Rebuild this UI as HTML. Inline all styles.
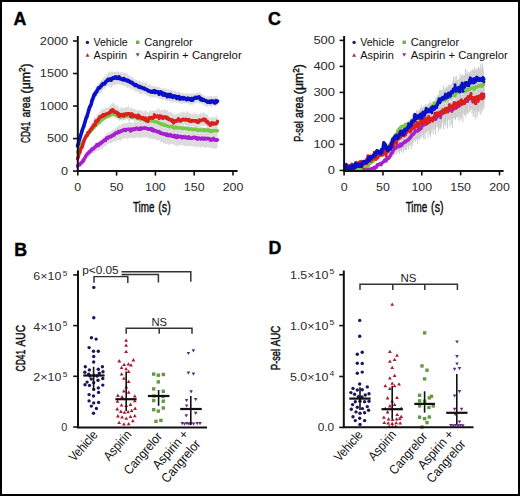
<!DOCTYPE html>
<html><head><meta charset="utf-8"><style>html,body{margin:0;padding:0;background:#fff;width:520px;height:496px;overflow:hidden}</style></head><body>
<svg width="520" height="496" viewBox="0 0 520 496" style="display:block">
<g font-family='"Liberation Sans", sans-serif'>
<rect x="0" y="0" width="520" height="496" fill="#000"/>
<rect x="2" y="2" width="516" height="492" fill="#fff"/>
<defs><clipPath id="ca"><rect x="70" y="30" width="175" height="140.2"/></clipPath><clipPath id="cc"><rect x="336" y="30" width="175" height="140"/></clipPath></defs>
<text x="13.4" y="25.0" font-size="17.8" font-weight="bold" fill="#000" stroke="#000" stroke-width="0.4">A</text>
<text x="268.0" y="25.2" font-size="17.8" font-weight="bold" fill="#000" stroke="#000" stroke-width="0.4">C</text>
<text x="14.2" y="255.6" font-size="17.8" font-weight="bold" fill="#000" stroke="#000" stroke-width="0.4">B</text>
<text x="268.4" y="254.1" font-size="17.8" font-weight="bold" fill="#000" stroke="#000" stroke-width="0.4">D</text>
<g clip-path="url(#ca)">
<polygon points="77.5,144.4 78.2,141.5 78.9,138.8 79.6,135.7 80.3,133.8 81.0,131.0 81.7,129.5 82.4,126.2 83.1,124.7 83.8,122.4 84.5,120.3 85.2,118.2 85.9,116.2 86.6,113.1 87.3,111.7 88.0,108.7 88.7,105.7 89.4,104.4 90.1,100.6 90.8,99.2 91.5,96.5 92.2,96.3 92.9,93.0 93.6,92.4 94.3,91.1 95.0,89.8 95.7,85.4 96.4,86.6 97.1,85.9 97.8,85.0 98.5,82.3 99.2,82.9 99.9,81.5 100.6,80.9 101.3,79.8 102.0,79.3 102.7,79.5 103.4,77.6 104.1,77.2 104.8,77.0 105.5,76.3 106.2,75.7 106.9,73.5 107.6,74.3 108.3,72.0 109.0,71.5 109.7,72.1 110.4,72.9 111.1,72.1 111.8,70.2 112.5,71.7 113.2,71.0 113.9,72.3 114.6,71.5 115.3,72.0 116.0,71.4 116.7,72.3 117.4,71.6 118.1,70.7 118.8,71.7 119.5,72.4 120.2,72.2 120.9,72.7 121.6,71.4 122.3,72.2 123.0,73.0 123.7,72.4 124.4,72.4 125.1,72.5 125.8,73.4 126.5,73.9 127.2,72.5 127.9,74.8 128.6,75.6 129.3,74.6 130.0,75.8 130.7,76.7 131.4,77.1 132.1,77.7 132.8,76.5 133.5,78.3 134.2,79.0 134.9,79.3 135.6,80.1 136.3,80.3 137.0,79.4 137.7,81.1 138.4,80.8 139.1,80.1 139.8,81.1 140.5,82.1 141.2,81.6 141.9,82.3 142.6,81.6 143.3,83.2 144.0,82.7 144.7,82.1 145.4,83.5 146.1,82.1 146.8,82.0 147.5,84.7 148.2,84.2 148.9,85.6 149.6,83.2 150.3,85.3 151.0,85.7 151.7,86.3 152.4,86.0 153.1,86.5 153.8,86.6 154.5,86.0 155.2,86.4 155.9,85.8 156.6,87.1 157.3,87.3 158.0,86.1 158.7,87.4 159.4,86.9 160.1,87.0 160.8,88.3 161.5,88.7 162.2,88.3 162.9,89.2 163.6,87.0 164.3,88.5 165.0,89.7 165.7,87.7 166.4,89.6 167.1,88.5 167.8,89.9 168.5,89.9 169.2,90.0 169.9,91.0 170.6,89.2 171.3,89.7 172.0,89.6 172.7,91.4 173.4,91.3 174.1,91.5 174.8,90.6 175.5,90.7 176.2,91.6 176.9,92.4 177.6,91.6 178.3,92.0 179.0,91.3 179.7,91.5 180.4,93.2 181.1,92.3 181.8,93.7 182.5,93.0 183.2,93.6 183.9,93.3 184.6,94.2 185.3,93.8 186.0,94.0 186.7,92.7 187.4,93.5 188.1,92.5 188.8,93.9 189.5,93.5 190.2,94.5 190.9,93.0 191.6,92.8 192.3,94.2 193.0,93.5 193.7,91.9 194.4,93.0 195.1,93.8 195.8,93.6 196.5,92.5 197.2,92.7 197.9,92.5 198.6,93.0 199.3,92.1 200.0,92.3 200.7,92.5 201.4,93.9 202.1,94.6 202.8,95.3 203.5,95.1 204.2,95.4 204.9,95.6 205.6,96.3 206.3,96.9 207.0,97.1 207.7,95.6 208.4,96.3 209.1,96.7 209.8,96.5 210.5,95.4 211.2,96.0 211.9,96.0 212.6,97.0 213.3,96.5 214.0,96.2 214.7,96.2 215.4,96.1 216.1,96.7 216.8,95.3 217.5,95.7 217.5,105.8 216.8,105.5 216.1,106.3 215.4,107.6 214.7,106.6 214.0,105.6 213.3,105.6 212.6,106.4 211.9,107.3 211.2,107.1 210.5,105.8 209.8,105.9 209.1,105.6 208.4,106.1 207.7,106.0 207.0,106.9 206.3,106.8 205.6,106.5 204.9,106.2 204.2,104.5 203.5,105.5 202.8,103.9 202.1,103.4 201.4,104.5 200.7,103.7 200.0,102.6 199.3,104.9 198.6,102.5 197.9,102.6 197.2,102.3 196.5,104.3 195.8,102.4 195.1,103.3 194.4,103.7 193.7,104.6 193.0,105.5 192.3,103.6 191.6,105.5 190.9,103.6 190.2,104.4 189.5,106.0 188.8,104.1 188.1,103.5 187.4,103.6 186.7,103.3 186.0,103.6 185.3,103.5 184.6,103.3 183.9,103.2 183.2,103.2 182.5,103.4 181.8,103.8 181.1,103.7 180.4,103.6 179.7,104.1 179.0,102.1 178.3,103.6 177.6,102.4 176.9,101.8 176.2,103.9 175.5,101.9 174.8,101.3 174.1,102.8 173.4,102.2 172.7,101.9 172.0,102.3 171.3,102.0 170.6,102.1 169.9,100.8 169.2,101.7 168.5,100.5 167.8,100.5 167.1,102.7 166.4,100.6 165.7,101.1 165.0,99.6 164.3,99.5 163.6,99.8 162.9,99.2 162.2,100.5 161.5,99.0 160.8,99.0 160.1,98.9 159.4,98.6 158.7,97.5 158.0,99.0 157.3,97.0 156.6,97.1 155.9,97.0 155.2,97.2 154.5,97.7 153.8,96.6 153.1,97.9 152.4,96.8 151.7,96.4 151.0,96.8 150.3,98.2 149.6,96.7 148.9,96.3 148.2,95.3 147.5,95.6 146.8,96.5 146.1,94.2 145.4,94.1 144.7,93.9 144.0,93.7 143.3,93.3 142.6,93.8 141.9,93.8 141.2,93.7 140.5,94.2 139.8,94.3 139.1,92.2 138.4,92.2 137.7,93.2 137.0,91.0 136.3,91.2 135.6,92.1 134.9,90.4 134.2,90.1 133.5,90.7 132.8,89.0 132.1,88.6 131.4,88.5 130.7,91.1 130.0,87.8 129.3,87.9 128.6,87.1 127.9,88.1 127.2,88.2 126.5,87.4 125.8,85.4 125.1,85.3 124.4,86.6 123.7,86.1 123.0,85.3 122.3,84.8 121.6,85.5 120.9,84.4 120.2,84.8 119.5,85.1 118.8,84.1 118.1,84.1 117.4,84.0 116.7,84.1 116.0,85.4 115.3,85.1 114.6,85.5 113.9,84.2 113.2,86.0 112.5,85.2 111.8,88.9 111.1,87.4 110.4,85.9 109.7,88.0 109.0,85.2 108.3,86.8 107.6,86.1 106.9,86.4 106.2,86.9 105.5,88.2 104.8,88.4 104.1,90.3 103.4,89.0 102.7,89.7 102.0,91.4 101.3,92.7 100.6,94.1 99.9,92.5 99.2,93.1 98.5,94.3 97.8,94.1 97.1,95.6 96.4,97.0 95.7,97.7 95.0,99.3 94.3,99.7 93.6,100.5 92.9,102.7 92.2,105.9 91.5,107.0 90.8,107.9 90.1,111.3 89.4,112.6 88.7,113.8 88.0,116.1 87.3,118.1 86.6,120.4 85.9,124.3 85.2,125.9 84.5,127.2 83.8,128.5 83.1,131.4 82.4,133.2 81.7,136.0 81.0,137.6 80.3,140.0 79.6,142.4 78.9,144.1 78.2,146.4 77.5,149.1" fill="#dcdcdc" fill-opacity="1.0"/>
<polygon points="77.5,163.5 78.2,162.7 78.9,162.6 79.6,161.6 80.3,161.3 81.0,160.7 81.7,160.1 82.4,158.5 83.1,158.1 83.8,157.3 84.5,155.7 85.2,155.0 85.9,153.9 86.6,152.2 87.3,150.3 88.0,151.0 88.7,149.4 89.4,149.2 90.1,148.8 90.8,147.1 91.5,147.2 92.2,146.1 92.9,145.2 93.6,144.5 94.3,144.6 95.0,143.6 95.7,143.5 96.4,143.0 97.1,142.8 97.8,141.9 98.5,141.2 99.2,141.1 99.9,140.1 100.6,139.3 101.3,139.7 102.0,138.4 102.7,137.2 103.4,137.8 104.1,136.6 104.8,135.7 105.5,135.1 106.2,134.7 106.9,133.1 107.6,133.2 108.3,133.0 109.0,132.7 109.7,131.7 110.4,131.4 111.1,131.4 111.8,130.5 112.5,130.6 113.2,129.1 113.9,129.6 114.6,129.2 115.3,127.9 116.0,127.5 116.7,127.9 117.4,125.8 118.1,126.5 118.8,125.7 119.5,124.6 120.2,126.0 120.9,124.6 121.6,123.9 122.3,124.0 123.0,124.0 123.7,123.2 124.4,123.6 125.1,122.9 125.8,122.9 126.5,123.0 127.2,122.7 127.9,123.0 128.6,122.5 129.3,122.2 130.0,121.5 130.7,121.5 131.4,123.0 132.1,123.0 132.8,123.2 133.5,123.0 134.2,123.1 134.9,121.2 135.6,122.0 136.3,121.5 137.0,121.9 137.7,121.6 138.4,122.1 139.1,121.9 139.8,121.7 140.5,121.3 141.2,122.2 141.9,121.1 142.6,119.6 143.3,121.9 144.0,121.2 144.7,121.2 145.4,121.1 146.1,122.0 146.8,121.0 147.5,121.7 148.2,121.4 148.9,122.1 149.6,122.7 150.3,122.4 151.0,121.6 151.7,123.2 152.4,123.8 153.1,123.9 153.8,124.0 154.5,123.2 155.2,124.4 155.9,124.6 156.6,123.5 157.3,123.1 158.0,125.0 158.7,124.7 159.4,125.7 160.1,125.4 160.8,125.6 161.5,126.6 162.2,125.9 162.9,126.6 163.6,127.4 164.3,127.5 165.0,127.9 165.7,127.7 166.4,127.7 167.1,128.5 167.8,128.2 168.5,128.7 169.2,129.0 169.9,127.7 170.6,129.1 171.3,127.9 172.0,128.8 172.7,129.2 173.4,127.5 174.1,129.6 174.8,129.6 175.5,129.6 176.2,129.4 176.9,129.5 177.6,129.0 178.3,129.7 179.0,129.5 179.7,130.0 180.4,128.9 181.1,130.0 181.8,130.1 182.5,130.2 183.2,129.9 183.9,129.9 184.6,128.8 185.3,130.1 186.0,130.3 186.7,130.3 187.4,130.3 188.1,130.1 188.8,130.5 189.5,130.2 190.2,130.5 190.9,130.7 191.6,129.5 192.3,130.5 193.0,129.9 193.7,130.1 194.4,130.9 195.1,129.6 195.8,130.2 196.5,131.1 197.2,128.7 197.9,130.9 198.6,129.8 199.3,130.1 200.0,130.8 200.7,130.2 201.4,131.1 202.1,131.2 202.8,129.8 203.5,130.0 204.2,131.5 204.9,131.4 205.6,130.4 206.3,131.0 207.0,131.4 207.7,131.5 208.4,131.8 209.1,131.0 209.8,131.3 210.5,132.1 211.2,131.5 211.9,131.8 212.6,131.4 213.3,132.1 214.0,132.3 214.7,132.3 215.4,131.8 216.1,131.2 216.8,132.3 217.5,133.0 217.5,148.1 216.8,148.3 216.1,147.9 215.4,148.4 214.7,149.6 214.0,148.2 213.3,147.9 212.6,148.6 211.9,148.2 211.2,148.0 210.5,148.7 209.8,147.2 209.1,148.5 208.4,147.2 207.7,147.1 207.0,147.3 206.3,148.1 205.6,146.9 204.9,148.6 204.2,147.4 203.5,147.0 202.8,147.0 202.1,146.6 201.4,147.0 200.7,147.8 200.0,147.6 199.3,146.8 198.6,146.8 197.9,146.6 197.2,146.7 196.5,147.9 195.8,147.4 195.1,146.4 194.4,145.9 193.7,146.5 193.0,147.3 192.3,145.8 191.6,146.0 190.9,146.6 190.2,145.8 189.5,146.6 188.8,146.2 188.1,145.9 187.4,145.6 186.7,145.4 186.0,147.5 185.3,145.5 184.6,146.2 183.9,145.1 183.2,145.4 182.5,145.0 181.8,145.2 181.1,144.9 180.4,144.8 179.7,146.1 179.0,145.3 178.3,145.3 177.6,145.8 176.9,146.4 176.2,146.2 175.5,144.3 174.8,145.9 174.1,144.8 173.4,144.6 172.7,144.1 172.0,144.2 171.3,143.9 170.6,144.0 169.9,145.1 169.2,143.8 168.5,145.4 167.8,143.3 167.1,143.7 166.4,144.3 165.7,143.7 165.0,144.3 164.3,142.2 163.6,143.9 162.9,142.7 162.2,141.6 161.5,142.2 160.8,143.0 160.1,140.7 159.4,140.7 158.7,140.1 158.0,140.2 157.3,139.7 156.6,140.8 155.9,139.3 155.2,139.5 154.5,139.1 153.8,138.6 153.1,138.9 152.4,140.1 151.7,138.6 151.0,138.3 150.3,139.3 149.6,139.3 148.9,137.7 148.2,137.7 147.5,137.4 146.8,137.9 146.1,136.9 145.4,136.6 144.7,138.5 144.0,137.2 143.3,136.7 142.6,137.6 141.9,139.2 141.2,137.1 140.5,137.8 139.8,138.5 139.1,137.6 138.4,137.2 137.7,137.4 137.0,137.8 136.3,137.2 135.6,138.3 134.9,138.3 134.2,137.6 133.5,138.2 132.8,137.8 132.1,137.7 131.4,138.0 130.7,137.6 130.0,137.6 129.3,138.2 128.6,138.1 127.9,138.9 127.2,139.2 126.5,138.4 125.8,138.0 125.1,137.8 124.4,138.8 123.7,138.2 123.0,139.8 122.3,138.6 121.6,138.7 120.9,140.8 120.2,141.2 119.5,140.3 118.8,139.8 118.1,140.1 117.4,140.6 116.7,140.3 116.0,140.3 115.3,141.4 114.6,141.0 113.9,141.7 113.2,142.0 112.5,141.8 111.8,142.8 111.1,143.1 110.4,143.6 109.7,143.0 109.0,144.1 108.3,143.8 107.6,144.2 106.9,144.7 106.2,145.8 105.5,146.7 104.8,146.3 104.1,146.5 103.4,147.6 102.7,148.7 102.0,148.7 101.3,148.9 100.6,148.7 99.9,149.0 99.2,150.2 98.5,151.0 97.8,150.0 97.1,151.7 96.4,150.9 95.7,151.1 95.0,151.6 94.3,153.8 93.6,153.1 92.9,152.8 92.2,153.9 91.5,154.8 90.8,154.9 90.1,155.5 89.4,156.8 88.7,157.9 88.0,157.6 87.3,158.1 86.6,158.6 85.9,161.8 85.2,161.3 84.5,161.8 83.8,163.3 83.1,164.2 82.4,165.1 81.7,165.4 81.0,167.2 80.3,166.9 79.6,167.1 78.9,167.3 78.2,168.3 77.5,167.9" fill="#dcdcdc" fill-opacity="1.0"/>
<polygon points="77.5,155.9 78.2,154.3 78.9,151.2 79.6,149.8 80.3,147.8 81.0,145.8 81.7,142.9 82.4,142.4 83.1,140.4 83.8,138.6 84.5,135.4 85.2,133.2 85.9,133.2 86.6,130.6 87.3,128.8 88.0,129.5 88.7,128.6 89.4,126.6 90.1,126.4 90.8,124.4 91.5,123.4 92.2,122.0 92.9,122.0 93.6,119.5 94.3,115.9 95.0,117.4 95.7,117.3 96.4,115.6 97.1,114.9 97.8,113.5 98.5,113.8 99.2,113.8 99.9,111.4 100.6,110.7 101.3,110.9 102.0,107.8 102.7,108.3 103.4,109.5 104.1,109.4 104.8,108.8 105.5,106.2 106.2,108.1 106.9,107.5 107.6,107.7 108.3,108.0 109.0,106.1 109.7,105.9 110.4,105.4 111.1,103.8 111.8,103.8 112.5,102.1 113.2,103.8 113.9,102.9 114.6,104.6 115.3,104.5 116.0,105.6 116.7,106.9 117.4,103.8 118.1,107.1 118.8,108.1 119.5,109.0 120.2,108.5 120.9,107.0 121.6,108.1 122.3,106.0 123.0,108.3 123.7,108.6 124.4,108.4 125.1,106.4 125.8,107.9 126.5,107.0 127.2,106.5 127.9,106.9 128.6,105.1 129.3,107.4 130.0,108.4 130.7,108.8 131.4,106.3 132.1,107.9 132.8,109.3 133.5,109.0 134.2,108.7 134.9,109.3 135.6,109.7 136.3,110.0 137.0,110.4 137.7,110.6 138.4,109.2 139.1,111.2 139.8,110.1 140.5,110.1 141.2,111.5 141.9,111.0 142.6,110.6 143.3,112.2 144.0,111.0 144.7,111.1 145.4,109.4 146.1,109.9 146.8,112.6 147.5,111.7 148.2,112.5 148.9,112.4 149.6,110.0 150.3,110.2 151.0,110.5 151.7,111.9 152.4,109.5 153.1,111.3 153.8,110.4 154.5,110.8 155.2,109.9 155.9,110.9 156.6,110.0 157.3,109.7 158.0,107.0 158.7,109.0 159.4,109.5 160.1,110.4 160.8,110.6 161.5,109.2 162.2,110.2 162.9,109.9 163.6,110.8 164.3,109.3 165.0,109.0 165.7,109.4 166.4,110.5 167.1,110.1 167.8,110.2 168.5,112.4 169.2,110.8 169.9,112.7 170.6,112.1 171.3,112.1 172.0,113.7 172.7,114.1 173.4,113.9 174.1,114.4 174.8,114.8 175.5,115.1 176.2,114.1 176.9,114.0 177.6,114.5 178.3,114.4 179.0,113.3 179.7,113.4 180.4,112.1 181.1,113.3 181.8,112.1 182.5,111.5 183.2,112.6 183.9,110.0 184.6,112.4 185.3,112.5 186.0,113.4 186.7,111.0 187.4,111.4 188.1,111.1 188.8,112.7 189.5,113.3 190.2,113.2 190.9,113.4 191.6,114.5 192.3,114.0 193.0,113.8 193.7,114.8 194.4,113.4 195.1,111.5 195.8,114.2 196.5,113.6 197.2,113.8 197.9,115.1 198.6,114.0 199.3,114.6 200.0,113.5 200.7,113.2 201.4,111.9 202.1,114.2 202.8,113.2 203.5,112.1 204.2,113.2 204.9,112.1 205.6,114.4 206.3,114.8 207.0,114.7 207.7,114.5 208.4,116.2 209.1,116.9 209.8,117.7 210.5,118.4 211.2,117.0 211.9,116.7 212.6,117.6 213.3,117.4 214.0,116.7 214.7,117.3 215.4,117.2 216.1,117.0 216.8,114.4 217.5,116.9 217.5,129.9 216.8,131.4 216.1,129.3 215.4,129.6 214.7,129.2 214.0,131.1 213.3,130.4 212.6,129.4 211.9,129.5 211.2,131.5 210.5,131.2 209.8,130.7 209.1,129.7 208.4,128.4 207.7,128.5 207.0,127.5 206.3,126.2 205.6,126.1 204.9,126.0 204.2,124.5 203.5,127.6 202.8,124.9 202.1,125.0 201.4,125.4 200.7,126.8 200.0,126.3 199.3,126.3 198.6,126.8 197.9,129.7 197.2,128.7 196.5,127.9 195.8,128.8 195.1,126.2 194.4,126.7 193.7,126.4 193.0,125.6 192.3,126.1 191.6,127.0 190.9,125.3 190.2,126.0 189.5,126.5 188.8,127.6 188.1,126.2 187.4,125.5 186.7,126.3 186.0,125.3 185.3,124.7 184.6,124.5 183.9,125.6 183.2,127.9 182.5,124.2 181.8,124.2 181.1,125.8 180.4,124.5 179.7,126.3 179.0,125.8 178.3,126.0 177.6,125.7 176.9,125.5 176.2,127.6 175.5,129.6 174.8,127.5 174.1,126.0 173.4,126.1 172.7,128.0 172.0,126.0 171.3,126.6 170.6,125.1 169.9,125.4 169.2,123.4 168.5,126.2 167.8,123.8 167.1,125.9 166.4,123.2 165.7,123.6 165.0,122.8 164.3,121.8 163.6,122.6 162.9,122.2 162.2,122.5 161.5,121.2 160.8,123.2 160.1,122.7 159.4,122.1 158.7,121.3 158.0,120.9 157.3,121.0 156.6,121.6 155.9,122.0 155.2,122.0 154.5,123.2 153.8,122.0 153.1,123.3 152.4,122.1 151.7,124.1 151.0,123.1 150.3,123.2 149.6,123.9 148.9,123.7 148.2,123.3 147.5,123.9 146.8,123.5 146.1,123.6 145.4,124.6 144.7,127.1 144.0,123.4 143.3,125.0 142.6,126.1 141.9,125.5 141.2,123.1 140.5,122.3 139.8,122.8 139.1,122.4 138.4,122.6 137.7,121.3 137.0,120.9 136.3,121.6 135.6,120.3 134.9,123.5 134.2,121.7 133.5,120.1 132.8,120.0 132.1,119.6 131.4,119.6 130.7,119.4 130.0,120.6 129.3,122.5 128.6,120.8 127.9,120.8 127.2,118.3 126.5,119.7 125.8,119.4 125.1,120.1 124.4,119.7 123.7,120.2 123.0,120.3 122.3,121.4 121.6,119.3 120.9,119.6 120.2,119.8 119.5,122.1 118.8,119.6 118.1,120.2 117.4,118.9 116.7,117.2 116.0,117.3 115.3,116.7 114.6,115.8 113.9,115.4 113.2,115.0 112.5,114.4 111.8,115.5 111.1,116.4 110.4,117.0 109.7,119.2 109.0,116.7 108.3,118.9 107.6,117.8 106.9,118.5 106.2,118.0 105.5,118.7 104.8,118.0 104.1,120.6 103.4,120.7 102.7,119.0 102.0,120.4 101.3,120.1 100.6,121.0 99.9,122.2 99.2,121.8 98.5,122.6 97.8,125.0 97.1,124.3 96.4,124.4 95.7,125.6 95.0,126.5 94.3,128.6 93.6,128.7 92.9,130.0 92.2,131.5 91.5,131.7 90.8,133.9 90.1,133.9 89.4,135.6 88.7,136.2 88.0,136.1 87.3,137.1 86.6,138.6 85.9,139.6 85.2,141.0 84.5,144.4 83.8,144.3 83.1,147.4 82.4,147.7 81.7,149.2 81.0,151.0 80.3,153.1 79.6,155.0 78.9,157.2 78.2,159.4 77.5,162.0" fill="#dcdcdc" fill-opacity="1.0"/>
<polygon points="77.5,149.5 78.2,147.8 78.9,146.3 79.6,145.3 80.3,143.8 81.0,142.2 81.7,141.0 82.4,139.8 83.1,138.3 83.8,136.9 84.5,136.6 85.2,135.1 85.9,134.4 86.6,133.2 87.3,132.3 88.0,131.3 88.7,130.8 89.4,129.3 90.1,128.8 90.8,127.8 91.5,127.4 92.2,126.6 92.9,125.9 93.6,125.2 94.3,124.3 95.0,123.3 95.7,122.6 96.4,121.9 97.1,121.1 97.8,120.7 98.5,119.7 99.2,119.6 99.9,118.9 100.6,118.2 101.3,117.3 102.0,116.9 102.7,116.2 103.4,115.6 104.1,115.5 104.8,115.2 105.5,114.5 106.2,114.1 106.9,113.9 107.6,112.7 108.3,113.0 109.0,112.8 109.7,112.2 110.4,112.2 111.1,111.5 111.8,111.4 112.5,110.8 113.2,110.3 113.9,111.3 114.6,111.3 115.3,112.0 116.0,112.3 116.7,112.6 117.4,112.9 118.1,113.3 118.8,113.5 119.5,113.9 120.2,113.6 120.9,113.7 121.6,113.7 122.3,113.8 123.0,112.7 123.7,113.5 124.4,113.2 125.1,113.6 125.8,113.5 126.5,113.3 127.2,113.2 127.9,113.1 128.6,113.6 129.3,113.6 130.0,113.8 130.7,113.9 131.4,114.0 132.1,113.8 132.8,114.3 133.5,114.2 134.2,114.2 134.9,114.8 135.6,114.4 136.3,114.7 137.0,114.8 137.7,114.9 138.4,115.3 139.1,115.3 139.8,115.7 140.5,115.5 141.2,115.9 141.9,116.4 142.6,116.5 143.3,116.7 144.0,116.9 144.7,116.9 145.4,117.2 146.1,116.8 146.8,116.9 147.5,117.5 148.2,117.4 148.9,117.8 149.6,117.6 150.3,118.1 151.0,118.0 151.7,117.8 152.4,118.2 153.1,118.5 153.8,118.7 154.5,119.1 155.2,118.3 155.9,119.2 156.6,119.6 157.3,119.2 158.0,119.9 158.7,120.2 159.4,120.0 160.1,120.2 160.8,120.4 161.5,121.3 162.2,121.5 162.9,121.2 163.6,121.7 164.3,121.3 165.0,122.3 165.7,122.4 166.4,122.9 167.1,122.9 167.8,122.9 168.5,123.1 169.2,123.7 169.9,123.8 170.6,123.8 171.3,124.1 172.0,124.3 172.7,124.3 173.4,124.3 174.1,125.0 174.8,124.8 175.5,124.6 176.2,124.7 176.9,125.1 177.6,124.6 178.3,124.9 179.0,124.9 179.7,125.5 180.4,125.5 181.1,124.9 181.8,125.2 182.5,125.6 183.2,125.6 183.9,125.9 184.6,125.9 185.3,125.5 186.0,126.0 186.7,125.8 187.4,125.8 188.1,126.3 188.8,126.3 189.5,126.0 190.2,126.2 190.9,126.5 191.6,126.5 192.3,126.5 193.0,126.6 193.7,126.7 194.4,126.3 195.1,126.9 195.8,126.9 196.5,126.9 197.2,126.4 197.9,127.2 198.6,127.0 199.3,126.8 200.0,126.6 200.7,126.5 201.4,127.1 202.1,127.3 202.8,127.2 203.5,127.4 204.2,127.8 204.9,127.4 205.6,127.7 206.3,127.7 207.0,127.1 207.7,127.0 208.4,127.8 209.1,127.4 209.8,127.8 210.5,127.6 211.2,127.6 211.9,127.6 212.6,128.2 213.3,127.8 214.0,128.2 214.7,127.5 215.4,127.7 216.1,128.3 216.8,128.0 217.5,128.3 217.5,133.5 216.8,133.8 216.1,133.6 215.4,133.8 214.7,133.3 214.0,133.3 213.3,133.4 212.6,133.9 211.9,133.4 211.2,133.3 210.5,133.2 209.8,133.9 209.1,133.2 208.4,133.1 207.7,133.4 207.0,133.2 206.3,133.3 205.6,133.1 204.9,133.1 204.2,133.6 203.5,132.8 202.8,132.9 202.1,133.1 201.4,132.7 200.7,132.7 200.0,132.8 199.3,132.9 198.6,133.0 197.9,132.3 197.2,132.5 196.5,132.2 195.8,132.3 195.1,132.3 194.4,132.1 193.7,132.3 193.0,131.8 192.3,132.5 191.6,131.9 190.9,131.7 190.2,131.6 189.5,131.5 188.8,131.8 188.1,131.9 187.4,131.3 186.7,131.6 186.0,131.3 185.3,131.7 184.6,131.1 183.9,131.5 183.2,131.3 182.5,131.3 181.8,131.3 181.1,130.9 180.4,131.0 179.7,130.5 179.0,131.5 178.3,130.4 177.6,130.6 176.9,130.8 176.2,130.5 175.5,130.5 174.8,130.7 174.1,130.1 173.4,129.8 172.7,129.8 172.0,129.5 171.3,129.8 170.6,129.2 169.9,129.4 169.2,129.3 168.5,128.6 167.8,128.6 167.1,128.6 166.4,128.8 165.7,129.0 165.0,127.9 164.3,128.0 163.6,127.2 162.9,127.0 162.2,126.6 161.5,126.4 160.8,126.3 160.1,126.2 159.4,126.3 158.7,125.8 158.0,125.2 157.3,124.9 156.6,124.7 155.9,124.7 155.2,124.6 154.5,124.5 153.8,124.1 153.1,124.0 152.4,124.1 151.7,123.7 151.0,123.4 150.3,123.7 149.6,123.4 148.9,123.3 148.2,123.7 147.5,122.9 146.8,122.6 146.1,122.9 145.4,122.6 144.7,122.8 144.0,122.1 143.3,122.4 142.6,122.1 141.9,121.5 141.2,121.4 140.5,121.4 139.8,121.1 139.1,121.0 138.4,121.0 137.7,120.8 137.0,120.6 136.3,120.2 135.6,120.0 134.9,120.2 134.2,120.7 133.5,120.0 132.8,119.5 132.1,119.5 131.4,119.6 130.7,119.3 130.0,119.2 129.3,119.1 128.6,118.9 127.9,118.8 127.2,118.6 126.5,118.9 125.8,118.6 125.1,118.8 124.4,119.0 123.7,119.2 123.0,119.2 122.3,119.5 121.6,118.9 120.9,119.2 120.2,119.8 119.5,119.0 118.8,119.3 118.1,118.6 117.4,118.3 116.7,118.1 116.0,118.0 115.3,117.2 114.6,116.9 113.9,116.5 113.2,116.5 112.5,116.8 111.8,117.6 111.1,118.0 110.4,117.5 109.7,118.1 109.0,118.5 108.3,118.8 107.6,118.8 106.9,119.4 106.2,120.1 105.5,120.2 104.8,120.7 104.1,121.0 103.4,121.7 102.7,121.7 102.0,122.0 101.3,123.0 100.6,123.4 99.9,124.5 99.2,124.8 98.5,126.0 97.8,126.1 97.1,126.9 96.4,127.5 95.7,128.1 95.0,128.9 94.3,129.8 93.6,130.4 92.9,131.3 92.2,132.1 91.5,132.7 90.8,134.2 90.1,134.6 89.4,135.4 88.7,136.3 88.0,137.2 87.3,137.9 86.6,139.0 85.9,140.3 85.2,140.7 84.5,142.1 83.8,142.7 83.1,144.0 82.4,145.2 81.7,146.3 81.0,147.8 80.3,149.4 79.6,150.3 78.9,152.2 78.2,153.8 77.5,154.5" fill="#dcdcdc" fill-opacity="1.0"/>
<polyline points="77.5,166.2 78.3,164.9 79.1,164.5 79.9,164.6 80.7,163.4 81.5,162.6 82.3,162.0 83.1,161.5 83.9,158.9 84.7,158.1 85.5,156.7 86.3,155.3 87.1,154.1 87.9,153.4 88.7,153.0 89.5,151.7 90.3,151.4 91.1,150.7 91.9,149.4 92.7,149.0 93.5,148.8 94.3,147.7 95.1,146.8 95.9,146.5 96.7,145.6 97.5,145.5 98.3,145.3 99.1,144.0 99.9,143.8 100.7,143.8 101.5,142.6 102.3,142.2 103.1,141.1 103.9,140.5 104.7,140.0 105.5,140.4 106.3,138.7 107.1,138.0 107.9,137.4 108.7,137.1 109.5,137.0 110.3,136.4 111.1,136.7 111.9,135.5 112.7,135.6 113.5,134.7 114.3,134.4 115.1,133.2 115.9,133.3 116.7,132.9 117.5,132.5 118.3,131.4 119.1,132.3 119.9,131.5 120.7,131.2 121.5,130.9 122.3,130.6 123.1,130.6 123.9,129.6 124.7,129.5 125.5,129.7 126.3,129.6 127.1,129.4 127.9,129.3 128.7,129.1 129.5,129.4 130.3,129.9 131.1,129.0 131.9,130.0 132.7,129.7 133.5,129.1 134.3,129.6 135.1,128.6 135.9,128.5 136.7,128.6 137.5,128.9 138.3,128.9 139.1,128.7 139.9,128.9 140.7,127.9 141.5,128.9 142.3,128.1 143.1,128.3 143.9,128.4 144.7,128.0 145.5,127.9 146.3,128.2 147.1,128.8 147.9,129.2 148.7,129.4 149.5,129.0 150.3,129.3 151.1,129.4 151.9,130.2 152.7,129.4 153.5,130.9 154.3,130.4 155.1,130.5 155.9,131.1 156.7,131.6 157.5,131.5 158.3,132.1 159.1,132.0 159.9,132.8 160.7,133.2 161.5,133.0 162.3,133.9 163.1,133.8 163.9,134.1 164.7,134.0 165.5,134.6 166.3,135.3 167.1,134.6 167.9,135.5 168.7,135.5 169.5,135.6 170.3,134.7 171.1,135.7 171.9,136.1 172.7,135.7 173.5,136.1 174.3,135.3 175.1,136.5 175.9,136.1 176.7,136.8 177.5,135.7 178.3,136.8 179.1,136.5 179.9,137.0 180.7,136.4 181.5,136.6 182.3,137.8 183.1,136.6 183.9,136.8 184.7,137.0 185.5,136.8 186.3,137.7 187.1,138.0 187.9,137.1 188.7,136.8 189.5,138.0 190.3,138.0 191.1,138.0 191.9,138.2 192.7,137.4 193.5,137.7 194.3,137.3 195.1,137.3 195.9,138.3 196.7,137.7 197.5,139.0 198.3,138.1 199.1,137.9 199.9,138.5 200.7,139.0 201.5,138.5 202.3,137.9 203.1,138.5 203.9,139.0 204.7,138.3 205.5,138.2 206.3,139.0 207.1,138.7 207.9,138.3 208.7,138.7 209.5,138.7 210.3,139.2 211.1,139.2 211.9,139.8 212.7,139.7 213.5,138.9 214.3,139.8 215.1,140.1 215.9,140.0 216.7,140.3 217.5,139.8" fill="none" stroke="#a81ed2" stroke-width="3.4" stroke-linejoin="round" stroke-linecap="round"/>
<path d="M76.0,165.7a1.5,1.5 0 1,0 3.1,0a1.5,1.5 0 1,0 -3.1,0M77.6,165.0a1.5,1.5 0 1,0 3.1,0a1.5,1.5 0 1,0 -3.1,0M79.2,162.8a1.5,1.5 0 1,0 3.1,0a1.5,1.5 0 1,0 -3.1,0M80.8,160.7a1.5,1.5 0 1,0 3.1,0a1.5,1.5 0 1,0 -3.1,0M82.4,159.5a1.5,1.5 0 1,0 3.1,0a1.5,1.5 0 1,0 -3.1,0M84.0,156.3a1.5,1.5 0 1,0 3.1,0a1.5,1.5 0 1,0 -3.1,0M85.6,154.0a1.5,1.5 0 1,0 3.1,0a1.5,1.5 0 1,0 -3.1,0M87.2,152.2a1.5,1.5 0 1,0 3.1,0a1.5,1.5 0 1,0 -3.1,0M88.8,150.6a1.5,1.5 0 1,0 3.1,0a1.5,1.5 0 1,0 -3.1,0M90.4,148.7a1.5,1.5 0 1,0 3.1,0a1.5,1.5 0 1,0 -3.1,0M92.0,148.6a1.5,1.5 0 1,0 3.1,0a1.5,1.5 0 1,0 -3.1,0M93.6,147.0a1.5,1.5 0 1,0 3.1,0a1.5,1.5 0 1,0 -3.1,0M95.2,144.2a1.5,1.5 0 1,0 3.1,0a1.5,1.5 0 1,0 -3.1,0M96.8,145.7a1.5,1.5 0 1,0 3.1,0a1.5,1.5 0 1,0 -3.1,0M98.4,143.1a1.5,1.5 0 1,0 3.1,0a1.5,1.5 0 1,0 -3.1,0M100.0,142.0a1.5,1.5 0 1,0 3.1,0a1.5,1.5 0 1,0 -3.1,0M101.6,141.5a1.5,1.5 0 1,0 3.1,0a1.5,1.5 0 1,0 -3.1,0M103.2,139.9a1.5,1.5 0 1,0 3.1,0a1.5,1.5 0 1,0 -3.1,0M104.8,137.8a1.5,1.5 0 1,0 3.1,0a1.5,1.5 0 1,0 -3.1,0M106.4,138.5a1.5,1.5 0 1,0 3.1,0a1.5,1.5 0 1,0 -3.1,0M108.0,136.5a1.5,1.5 0 1,0 3.1,0a1.5,1.5 0 1,0 -3.1,0M109.6,136.8a1.5,1.5 0 1,0 3.1,0a1.5,1.5 0 1,0 -3.1,0M111.2,135.7a1.5,1.5 0 1,0 3.1,0a1.5,1.5 0 1,0 -3.1,0M112.8,135.3a1.5,1.5 0 1,0 3.1,0a1.5,1.5 0 1,0 -3.1,0M114.4,133.0a1.5,1.5 0 1,0 3.1,0a1.5,1.5 0 1,0 -3.1,0M116.0,133.1a1.5,1.5 0 1,0 3.1,0a1.5,1.5 0 1,0 -3.1,0M117.6,131.9a1.5,1.5 0 1,0 3.1,0a1.5,1.5 0 1,0 -3.1,0M119.2,131.8a1.5,1.5 0 1,0 3.1,0a1.5,1.5 0 1,0 -3.1,0M120.8,130.2a1.5,1.5 0 1,0 3.1,0a1.5,1.5 0 1,0 -3.1,0M122.4,129.4a1.5,1.5 0 1,0 3.1,0a1.5,1.5 0 1,0 -3.1,0M124.0,130.8a1.5,1.5 0 1,0 3.1,0a1.5,1.5 0 1,0 -3.1,0M125.6,129.6a1.5,1.5 0 1,0 3.1,0a1.5,1.5 0 1,0 -3.1,0M127.2,129.2a1.5,1.5 0 1,0 3.1,0a1.5,1.5 0 1,0 -3.1,0M128.8,131.2a1.5,1.5 0 1,0 3.1,0a1.5,1.5 0 1,0 -3.1,0M130.4,130.2a1.5,1.5 0 1,0 3.1,0a1.5,1.5 0 1,0 -3.1,0M132.0,128.6a1.5,1.5 0 1,0 3.1,0a1.5,1.5 0 1,0 -3.1,0M133.6,129.1a1.5,1.5 0 1,0 3.1,0a1.5,1.5 0 1,0 -3.1,0M135.2,127.9a1.5,1.5 0 1,0 3.1,0a1.5,1.5 0 1,0 -3.1,0M136.8,129.5a1.5,1.5 0 1,0 3.1,0a1.5,1.5 0 1,0 -3.1,0M138.4,129.6a1.5,1.5 0 1,0 3.1,0a1.5,1.5 0 1,0 -3.1,0M140.0,128.6a1.5,1.5 0 1,0 3.1,0a1.5,1.5 0 1,0 -3.1,0M141.6,128.0a1.5,1.5 0 1,0 3.1,0a1.5,1.5 0 1,0 -3.1,0M143.2,128.1a1.5,1.5 0 1,0 3.1,0a1.5,1.5 0 1,0 -3.1,0M144.8,128.2a1.5,1.5 0 1,0 3.1,0a1.5,1.5 0 1,0 -3.1,0M146.4,128.6a1.5,1.5 0 1,0 3.1,0a1.5,1.5 0 1,0 -3.1,0M148.0,129.3a1.5,1.5 0 1,0 3.1,0a1.5,1.5 0 1,0 -3.1,0M149.6,128.2a1.5,1.5 0 1,0 3.1,0a1.5,1.5 0 1,0 -3.1,0M151.2,129.1a1.5,1.5 0 1,0 3.1,0a1.5,1.5 0 1,0 -3.1,0M152.8,130.1a1.5,1.5 0 1,0 3.1,0a1.5,1.5 0 1,0 -3.1,0M154.4,130.9a1.5,1.5 0 1,0 3.1,0a1.5,1.5 0 1,0 -3.1,0M156.0,131.7a1.5,1.5 0 1,0 3.1,0a1.5,1.5 0 1,0 -3.1,0M157.6,131.3a1.5,1.5 0 1,0 3.1,0a1.5,1.5 0 1,0 -3.1,0M159.2,133.5a1.5,1.5 0 1,0 3.1,0a1.5,1.5 0 1,0 -3.1,0M160.8,133.8a1.5,1.5 0 1,0 3.1,0a1.5,1.5 0 1,0 -3.1,0M162.4,133.7a1.5,1.5 0 1,0 3.1,0a1.5,1.5 0 1,0 -3.1,0M164.0,133.8a1.5,1.5 0 1,0 3.1,0a1.5,1.5 0 1,0 -3.1,0M165.6,133.9a1.5,1.5 0 1,0 3.1,0a1.5,1.5 0 1,0 -3.1,0M167.2,135.7a1.5,1.5 0 1,0 3.1,0a1.5,1.5 0 1,0 -3.1,0M168.8,134.2a1.5,1.5 0 1,0 3.1,0a1.5,1.5 0 1,0 -3.1,0M170.4,136.2a1.5,1.5 0 1,0 3.1,0a1.5,1.5 0 1,0 -3.1,0M172.0,136.8a1.5,1.5 0 1,0 3.1,0a1.5,1.5 0 1,0 -3.1,0M173.6,137.2a1.5,1.5 0 1,0 3.1,0a1.5,1.5 0 1,0 -3.1,0M175.2,137.7a1.5,1.5 0 1,0 3.1,0a1.5,1.5 0 1,0 -3.1,0M176.8,136.7a1.5,1.5 0 1,0 3.1,0a1.5,1.5 0 1,0 -3.1,0M178.4,136.4a1.5,1.5 0 1,0 3.1,0a1.5,1.5 0 1,0 -3.1,0M180.0,137.2a1.5,1.5 0 1,0 3.1,0a1.5,1.5 0 1,0 -3.1,0M181.6,136.8a1.5,1.5 0 1,0 3.1,0a1.5,1.5 0 1,0 -3.1,0M183.2,137.7a1.5,1.5 0 1,0 3.1,0a1.5,1.5 0 1,0 -3.1,0M184.8,137.7a1.5,1.5 0 1,0 3.1,0a1.5,1.5 0 1,0 -3.1,0M186.4,137.8a1.5,1.5 0 1,0 3.1,0a1.5,1.5 0 1,0 -3.1,0M188.0,138.5a1.5,1.5 0 1,0 3.1,0a1.5,1.5 0 1,0 -3.1,0M189.6,138.4a1.5,1.5 0 1,0 3.1,0a1.5,1.5 0 1,0 -3.1,0M191.2,137.7a1.5,1.5 0 1,0 3.1,0a1.5,1.5 0 1,0 -3.1,0M192.8,137.5a1.5,1.5 0 1,0 3.1,0a1.5,1.5 0 1,0 -3.1,0M194.4,138.5a1.5,1.5 0 1,0 3.1,0a1.5,1.5 0 1,0 -3.1,0M196.0,139.1a1.5,1.5 0 1,0 3.1,0a1.5,1.5 0 1,0 -3.1,0M197.6,138.5a1.5,1.5 0 1,0 3.1,0a1.5,1.5 0 1,0 -3.1,0M199.2,138.7a1.5,1.5 0 1,0 3.1,0a1.5,1.5 0 1,0 -3.1,0M200.8,138.9a1.5,1.5 0 1,0 3.1,0a1.5,1.5 0 1,0 -3.1,0M202.4,138.9a1.5,1.5 0 1,0 3.1,0a1.5,1.5 0 1,0 -3.1,0M204.0,138.8a1.5,1.5 0 1,0 3.1,0a1.5,1.5 0 1,0 -3.1,0M205.6,138.7a1.5,1.5 0 1,0 3.1,0a1.5,1.5 0 1,0 -3.1,0M207.2,138.6a1.5,1.5 0 1,0 3.1,0a1.5,1.5 0 1,0 -3.1,0M208.8,140.4a1.5,1.5 0 1,0 3.1,0a1.5,1.5 0 1,0 -3.1,0M210.4,139.6a1.5,1.5 0 1,0 3.1,0a1.5,1.5 0 1,0 -3.1,0M212.0,138.1a1.5,1.5 0 1,0 3.1,0a1.5,1.5 0 1,0 -3.1,0M213.6,139.6a1.5,1.5 0 1,0 3.1,0a1.5,1.5 0 1,0 -3.1,0M215.2,140.1a1.5,1.5 0 1,0 3.1,0a1.5,1.5 0 1,0 -3.1,0" fill="#a81ed2"/>
<polyline points="77.5,152.6 78.3,150.5 79.1,149.1 79.9,146.9 80.7,145.7 81.5,144.3 82.3,143.1 83.1,140.8 83.9,140.1 84.7,138.9 85.5,137.4 86.3,136.6 87.1,135.5 87.9,133.8 88.7,133.5 89.5,132.4 90.3,131.2 91.1,130.1 91.9,130.1 92.7,128.8 93.5,128.2 94.3,127.5 95.1,126.0 95.9,125.6 96.7,124.5 97.5,123.7 98.3,123.0 99.1,122.2 99.9,121.8 100.7,120.8 101.5,119.9 102.3,119.2 103.1,118.9 103.9,118.1 104.7,117.7 105.5,117.4 106.3,116.7 107.1,116.4 107.9,115.8 108.7,116.2 109.5,115.6 110.3,114.9 111.1,114.4 111.9,114.7 112.7,113.7 113.5,113.7 114.3,114.2 115.1,114.6 115.9,115.3 116.7,115.3 117.5,116.3 118.3,115.8 119.1,116.7 119.9,116.2 120.7,116.9 121.5,116.3 122.3,116.3 123.1,116.5 123.9,116.6 124.7,115.8 125.5,116.0 126.3,115.6 127.1,116.1 127.9,116.1 128.7,116.1 129.5,116.2 130.3,116.4 131.1,116.5 131.9,117.0 132.7,117.4 133.5,116.5 134.3,117.2 135.1,117.3 135.9,117.7 136.7,117.5 137.5,117.9 138.3,117.8 139.1,118.5 139.9,118.5 140.7,118.6 141.5,119.0 142.3,119.0 143.1,118.8 143.9,119.6 144.7,119.7 145.5,119.7 146.3,120.2 147.1,120.4 147.9,119.8 148.7,120.1 149.5,120.9 150.3,121.0 151.1,120.6 151.9,120.6 152.7,121.0 153.5,121.2 154.3,121.1 155.1,121.8 155.9,121.6 156.7,121.8 157.5,122.6 158.3,122.4 159.1,122.9 159.9,123.4 160.7,123.7 161.5,123.7 162.3,124.1 163.1,124.1 163.9,125.2 164.7,125.2 165.5,124.9 166.3,125.6 167.1,126.0 167.9,126.1 168.7,126.7 169.5,126.8 170.3,126.4 171.1,126.7 171.9,126.5 172.7,127.2 173.5,127.4 174.3,128.3 175.1,127.6 175.9,127.0 176.7,127.5 177.5,127.9 178.3,127.5 179.1,127.7 179.9,128.0 180.7,128.2 181.5,128.2 182.3,128.0 183.1,128.6 183.9,128.3 184.7,128.4 185.5,128.2 186.3,128.5 187.1,129.0 187.9,128.4 188.7,128.9 189.5,129.2 190.3,129.0 191.1,129.2 191.9,128.9 192.7,129.7 193.5,129.7 194.3,129.5 195.1,129.0 195.9,129.3 196.7,129.9 197.5,130.2 198.3,129.9 199.1,130.2 199.9,129.8 200.7,129.9 201.5,130.1 202.3,130.3 203.1,129.8 203.9,130.6 204.7,130.7 205.5,130.1 206.3,130.1 207.1,130.6 207.9,130.4 208.7,129.9 209.5,130.9 210.3,130.7 211.1,130.5 211.9,131.3 212.7,130.8 213.5,130.5 214.3,130.8 215.1,130.5 215.9,130.6 216.7,131.0 217.5,130.7" fill="none" stroke="#78c846" stroke-width="3.2" stroke-linejoin="round" stroke-linecap="round"/>
<path d="M76.1,152.5a1.4,1.4 0 1,0 2.9,0a1.4,1.4 0 1,0 -2.9,0M77.7,149.7a1.4,1.4 0 1,0 2.9,0a1.4,1.4 0 1,0 -2.9,0M79.3,146.1a1.4,1.4 0 1,0 2.9,0a1.4,1.4 0 1,0 -2.9,0M80.9,143.4a1.4,1.4 0 1,0 2.9,0a1.4,1.4 0 1,0 -2.9,0M82.5,140.3a1.4,1.4 0 1,0 2.9,0a1.4,1.4 0 1,0 -2.9,0M84.1,137.6a1.4,1.4 0 1,0 2.9,0a1.4,1.4 0 1,0 -2.9,0M85.7,136.0a1.4,1.4 0 1,0 2.9,0a1.4,1.4 0 1,0 -2.9,0M87.3,133.5a1.4,1.4 0 1,0 2.9,0a1.4,1.4 0 1,0 -2.9,0M88.9,132.0a1.4,1.4 0 1,0 2.9,0a1.4,1.4 0 1,0 -2.9,0M90.5,129.7a1.4,1.4 0 1,0 2.9,0a1.4,1.4 0 1,0 -2.9,0M92.1,128.1a1.4,1.4 0 1,0 2.9,0a1.4,1.4 0 1,0 -2.9,0M93.7,125.5a1.4,1.4 0 1,0 2.9,0a1.4,1.4 0 1,0 -2.9,0M95.3,124.3a1.4,1.4 0 1,0 2.9,0a1.4,1.4 0 1,0 -2.9,0M96.9,123.2a1.4,1.4 0 1,0 2.9,0a1.4,1.4 0 1,0 -2.9,0M98.5,122.4a1.4,1.4 0 1,0 2.9,0a1.4,1.4 0 1,0 -2.9,0M100.1,119.7a1.4,1.4 0 1,0 2.9,0a1.4,1.4 0 1,0 -2.9,0M101.7,118.9a1.4,1.4 0 1,0 2.9,0a1.4,1.4 0 1,0 -2.9,0M103.3,117.6a1.4,1.4 0 1,0 2.9,0a1.4,1.4 0 1,0 -2.9,0M104.9,116.4a1.4,1.4 0 1,0 2.9,0a1.4,1.4 0 1,0 -2.9,0M106.5,115.3a1.4,1.4 0 1,0 2.9,0a1.4,1.4 0 1,0 -2.9,0M108.1,115.6a1.4,1.4 0 1,0 2.9,0a1.4,1.4 0 1,0 -2.9,0M109.7,113.7a1.4,1.4 0 1,0 2.9,0a1.4,1.4 0 1,0 -2.9,0M111.3,113.8a1.4,1.4 0 1,0 2.9,0a1.4,1.4 0 1,0 -2.9,0M112.9,114.2a1.4,1.4 0 1,0 2.9,0a1.4,1.4 0 1,0 -2.9,0M114.5,115.1a1.4,1.4 0 1,0 2.9,0a1.4,1.4 0 1,0 -2.9,0M116.1,115.9a1.4,1.4 0 1,0 2.9,0a1.4,1.4 0 1,0 -2.9,0M117.7,116.2a1.4,1.4 0 1,0 2.9,0a1.4,1.4 0 1,0 -2.9,0M119.3,117.7a1.4,1.4 0 1,0 2.9,0a1.4,1.4 0 1,0 -2.9,0M120.9,115.8a1.4,1.4 0 1,0 2.9,0a1.4,1.4 0 1,0 -2.9,0M122.5,117.2a1.4,1.4 0 1,0 2.9,0a1.4,1.4 0 1,0 -2.9,0M124.1,116.3a1.4,1.4 0 1,0 2.9,0a1.4,1.4 0 1,0 -2.9,0M125.7,115.9a1.4,1.4 0 1,0 2.9,0a1.4,1.4 0 1,0 -2.9,0M127.3,115.7a1.4,1.4 0 1,0 2.9,0a1.4,1.4 0 1,0 -2.9,0M128.9,116.8a1.4,1.4 0 1,0 2.9,0a1.4,1.4 0 1,0 -2.9,0M130.5,117.7a1.4,1.4 0 1,0 2.9,0a1.4,1.4 0 1,0 -2.9,0M132.1,116.2a1.4,1.4 0 1,0 2.9,0a1.4,1.4 0 1,0 -2.9,0M133.7,117.2a1.4,1.4 0 1,0 2.9,0a1.4,1.4 0 1,0 -2.9,0M135.3,117.9a1.4,1.4 0 1,0 2.9,0a1.4,1.4 0 1,0 -2.9,0M136.9,117.9a1.4,1.4 0 1,0 2.9,0a1.4,1.4 0 1,0 -2.9,0M138.5,119.3a1.4,1.4 0 1,0 2.9,0a1.4,1.4 0 1,0 -2.9,0M140.1,118.7a1.4,1.4 0 1,0 2.9,0a1.4,1.4 0 1,0 -2.9,0M141.7,119.0a1.4,1.4 0 1,0 2.9,0a1.4,1.4 0 1,0 -2.9,0M143.3,119.2a1.4,1.4 0 1,0 2.9,0a1.4,1.4 0 1,0 -2.9,0M144.9,121.0a1.4,1.4 0 1,0 2.9,0a1.4,1.4 0 1,0 -2.9,0M146.5,119.5a1.4,1.4 0 1,0 2.9,0a1.4,1.4 0 1,0 -2.9,0M148.1,120.0a1.4,1.4 0 1,0 2.9,0a1.4,1.4 0 1,0 -2.9,0M149.7,120.5a1.4,1.4 0 1,0 2.9,0a1.4,1.4 0 1,0 -2.9,0M151.3,120.9a1.4,1.4 0 1,0 2.9,0a1.4,1.4 0 1,0 -2.9,0M152.9,121.9a1.4,1.4 0 1,0 2.9,0a1.4,1.4 0 1,0 -2.9,0M154.5,121.5a1.4,1.4 0 1,0 2.9,0a1.4,1.4 0 1,0 -2.9,0M156.1,122.6a1.4,1.4 0 1,0 2.9,0a1.4,1.4 0 1,0 -2.9,0M157.7,123.1a1.4,1.4 0 1,0 2.9,0a1.4,1.4 0 1,0 -2.9,0M159.3,124.4a1.4,1.4 0 1,0 2.9,0a1.4,1.4 0 1,0 -2.9,0M160.9,124.1a1.4,1.4 0 1,0 2.9,0a1.4,1.4 0 1,0 -2.9,0M162.5,125.6a1.4,1.4 0 1,0 2.9,0a1.4,1.4 0 1,0 -2.9,0M164.1,125.2a1.4,1.4 0 1,0 2.9,0a1.4,1.4 0 1,0 -2.9,0M165.7,125.8a1.4,1.4 0 1,0 2.9,0a1.4,1.4 0 1,0 -2.9,0M167.3,126.7a1.4,1.4 0 1,0 2.9,0a1.4,1.4 0 1,0 -2.9,0M168.9,126.4a1.4,1.4 0 1,0 2.9,0a1.4,1.4 0 1,0 -2.9,0M170.5,126.2a1.4,1.4 0 1,0 2.9,0a1.4,1.4 0 1,0 -2.9,0M172.1,127.9a1.4,1.4 0 1,0 2.9,0a1.4,1.4 0 1,0 -2.9,0M173.7,127.1a1.4,1.4 0 1,0 2.9,0a1.4,1.4 0 1,0 -2.9,0M175.3,128.0a1.4,1.4 0 1,0 2.9,0a1.4,1.4 0 1,0 -2.9,0M176.9,127.9a1.4,1.4 0 1,0 2.9,0a1.4,1.4 0 1,0 -2.9,0M178.5,127.9a1.4,1.4 0 1,0 2.9,0a1.4,1.4 0 1,0 -2.9,0M180.1,127.9a1.4,1.4 0 1,0 2.9,0a1.4,1.4 0 1,0 -2.9,0M181.7,128.5a1.4,1.4 0 1,0 2.9,0a1.4,1.4 0 1,0 -2.9,0M183.3,128.6a1.4,1.4 0 1,0 2.9,0a1.4,1.4 0 1,0 -2.9,0M184.9,128.8a1.4,1.4 0 1,0 2.9,0a1.4,1.4 0 1,0 -2.9,0M186.5,128.5a1.4,1.4 0 1,0 2.9,0a1.4,1.4 0 1,0 -2.9,0M188.1,129.6a1.4,1.4 0 1,0 2.9,0a1.4,1.4 0 1,0 -2.9,0M189.7,129.0a1.4,1.4 0 1,0 2.9,0a1.4,1.4 0 1,0 -2.9,0M191.3,129.8a1.4,1.4 0 1,0 2.9,0a1.4,1.4 0 1,0 -2.9,0M192.9,128.9a1.4,1.4 0 1,0 2.9,0a1.4,1.4 0 1,0 -2.9,0M194.5,129.6a1.4,1.4 0 1,0 2.9,0a1.4,1.4 0 1,0 -2.9,0M196.1,130.3a1.4,1.4 0 1,0 2.9,0a1.4,1.4 0 1,0 -2.9,0M197.7,130.1a1.4,1.4 0 1,0 2.9,0a1.4,1.4 0 1,0 -2.9,0M199.3,130.4a1.4,1.4 0 1,0 2.9,0a1.4,1.4 0 1,0 -2.9,0M200.9,130.5a1.4,1.4 0 1,0 2.9,0a1.4,1.4 0 1,0 -2.9,0M202.5,129.4a1.4,1.4 0 1,0 2.9,0a1.4,1.4 0 1,0 -2.9,0M204.1,130.1a1.4,1.4 0 1,0 2.9,0a1.4,1.4 0 1,0 -2.9,0M205.7,130.0a1.4,1.4 0 1,0 2.9,0a1.4,1.4 0 1,0 -2.9,0M207.3,130.3a1.4,1.4 0 1,0 2.9,0a1.4,1.4 0 1,0 -2.9,0M208.9,131.7a1.4,1.4 0 1,0 2.9,0a1.4,1.4 0 1,0 -2.9,0M210.5,131.1a1.4,1.4 0 1,0 2.9,0a1.4,1.4 0 1,0 -2.9,0M212.1,130.6a1.4,1.4 0 1,0 2.9,0a1.4,1.4 0 1,0 -2.9,0M213.7,130.4a1.4,1.4 0 1,0 2.9,0a1.4,1.4 0 1,0 -2.9,0M215.3,131.1a1.4,1.4 0 1,0 2.9,0a1.4,1.4 0 1,0 -2.9,0" fill="#78c846"/>
<polyline points="77.5,158.9 78.3,157.0 79.1,153.4 79.9,152.6 80.7,148.9 81.5,147.7 82.3,146.2 83.1,143.9 83.9,140.9 84.7,139.1 85.5,137.2 86.3,135.9 87.1,135.4 87.9,132.7 88.7,132.6 89.5,131.5 90.3,130.2 91.1,129.0 91.9,128.4 92.7,126.7 93.5,125.9 94.3,124.6 95.1,124.3 95.9,121.0 96.7,122.0 97.5,120.2 98.3,119.4 99.1,118.2 99.9,116.9 100.7,117.0 101.5,116.2 102.3,116.4 103.1,114.7 103.9,115.9 104.7,114.7 105.5,114.3 106.3,113.9 107.1,113.8 107.9,113.4 108.7,113.1 109.5,112.8 110.3,112.1 111.1,110.7 111.9,110.7 112.7,109.7 113.5,110.5 114.3,112.2 115.1,112.2 115.9,112.3 116.7,112.2 117.5,113.0 118.3,113.5 119.1,115.6 119.9,114.6 120.7,115.0 121.5,114.5 122.3,114.9 123.1,115.6 123.9,114.2 124.7,114.3 125.5,113.9 126.3,114.9 127.1,113.6 127.9,113.6 128.7,113.7 129.5,113.9 130.3,115.2 131.1,116.6 131.9,114.7 132.7,116.1 133.5,115.8 134.3,115.2 135.1,115.9 135.9,116.2 136.7,116.1 137.5,117.9 138.3,115.9 139.1,117.5 139.9,117.7 140.7,117.4 141.5,118.1 142.3,118.7 143.1,118.5 143.9,118.9 144.7,119.3 145.5,118.0 146.3,120.0 147.1,120.3 147.9,119.4 148.7,119.2 149.5,117.6 150.3,118.3 151.1,117.6 151.9,117.6 152.7,118.3 153.5,117.0 154.3,117.2 155.1,116.0 155.9,116.8 156.7,116.8 157.5,116.1 158.3,116.0 159.1,117.7 159.9,115.9 160.7,116.1 161.5,116.3 162.3,117.7 163.1,118.3 163.9,117.3 164.7,116.8 165.5,117.1 166.3,118.1 167.1,117.3 167.9,119.1 168.7,119.5 169.5,119.1 170.3,119.8 171.1,120.3 171.9,121.2 172.7,120.1 173.5,121.8 174.3,121.2 175.1,120.8 175.9,121.1 176.7,120.7 177.5,120.0 178.3,119.5 179.1,119.6 179.9,120.9 180.7,121.0 181.5,120.0 182.3,120.1 183.1,119.2 183.9,119.6 184.7,119.9 185.5,119.2 186.3,119.4 187.1,120.1 187.9,120.0 188.7,119.6 189.5,120.6 190.3,120.3 191.1,121.2 191.9,120.7 192.7,120.6 193.5,121.0 194.3,120.9 195.1,120.7 195.9,121.0 196.7,121.7 197.5,121.8 198.3,122.3 199.1,120.2 199.9,120.7 200.7,120.4 201.5,120.5 202.3,119.9 203.1,119.5 203.9,120.0 204.7,119.8 205.5,119.6 206.3,121.8 207.1,122.3 207.9,122.0 208.7,123.5 209.5,123.2 210.3,125.0 211.1,124.3 211.9,123.8 212.7,124.0 213.5,123.6 214.3,124.1 215.1,123.9 215.9,123.8 216.7,123.3 217.5,121.3" fill="none" stroke="#d8201c" stroke-width="3.4" stroke-linejoin="round" stroke-linecap="round"/>
<path d="M76.0,159.0a1.5,1.5 0 1,0 3.1,0a1.5,1.5 0 1,0 -3.1,0M77.6,151.9a1.5,1.5 0 1,0 3.1,0a1.5,1.5 0 1,0 -3.1,0M79.2,149.1a1.5,1.5 0 1,0 3.1,0a1.5,1.5 0 1,0 -3.1,0M80.8,147.1a1.5,1.5 0 1,0 3.1,0a1.5,1.5 0 1,0 -3.1,0M82.4,141.2a1.5,1.5 0 1,0 3.1,0a1.5,1.5 0 1,0 -3.1,0M84.0,136.9a1.5,1.5 0 1,0 3.1,0a1.5,1.5 0 1,0 -3.1,0M85.6,135.2a1.5,1.5 0 1,0 3.1,0a1.5,1.5 0 1,0 -3.1,0M87.2,132.5a1.5,1.5 0 1,0 3.1,0a1.5,1.5 0 1,0 -3.1,0M88.8,129.8a1.5,1.5 0 1,0 3.1,0a1.5,1.5 0 1,0 -3.1,0M90.4,127.9a1.5,1.5 0 1,0 3.1,0a1.5,1.5 0 1,0 -3.1,0M92.0,125.1a1.5,1.5 0 1,0 3.1,0a1.5,1.5 0 1,0 -3.1,0M93.6,125.3a1.5,1.5 0 1,0 3.1,0a1.5,1.5 0 1,0 -3.1,0M95.2,122.0a1.5,1.5 0 1,0 3.1,0a1.5,1.5 0 1,0 -3.1,0M96.8,120.2a1.5,1.5 0 1,0 3.1,0a1.5,1.5 0 1,0 -3.1,0M98.4,116.7a1.5,1.5 0 1,0 3.1,0a1.5,1.5 0 1,0 -3.1,0M100.0,116.3a1.5,1.5 0 1,0 3.1,0a1.5,1.5 0 1,0 -3.1,0M101.6,114.6a1.5,1.5 0 1,0 3.1,0a1.5,1.5 0 1,0 -3.1,0M103.2,115.1a1.5,1.5 0 1,0 3.1,0a1.5,1.5 0 1,0 -3.1,0M104.8,114.6a1.5,1.5 0 1,0 3.1,0a1.5,1.5 0 1,0 -3.1,0M106.4,113.6a1.5,1.5 0 1,0 3.1,0a1.5,1.5 0 1,0 -3.1,0M108.0,112.3a1.5,1.5 0 1,0 3.1,0a1.5,1.5 0 1,0 -3.1,0M109.6,110.1a1.5,1.5 0 1,0 3.1,0a1.5,1.5 0 1,0 -3.1,0M111.2,111.0a1.5,1.5 0 1,0 3.1,0a1.5,1.5 0 1,0 -3.1,0M112.8,112.0a1.5,1.5 0 1,0 3.1,0a1.5,1.5 0 1,0 -3.1,0M114.4,112.1a1.5,1.5 0 1,0 3.1,0a1.5,1.5 0 1,0 -3.1,0M116.0,114.2a1.5,1.5 0 1,0 3.1,0a1.5,1.5 0 1,0 -3.1,0M117.6,116.5a1.5,1.5 0 1,0 3.1,0a1.5,1.5 0 1,0 -3.1,0M119.2,115.5a1.5,1.5 0 1,0 3.1,0a1.5,1.5 0 1,0 -3.1,0M120.8,114.5a1.5,1.5 0 1,0 3.1,0a1.5,1.5 0 1,0 -3.1,0M122.4,116.1a1.5,1.5 0 1,0 3.1,0a1.5,1.5 0 1,0 -3.1,0M124.0,114.3a1.5,1.5 0 1,0 3.1,0a1.5,1.5 0 1,0 -3.1,0M125.6,114.1a1.5,1.5 0 1,0 3.1,0a1.5,1.5 0 1,0 -3.1,0M127.2,113.5a1.5,1.5 0 1,0 3.1,0a1.5,1.5 0 1,0 -3.1,0M128.8,114.1a1.5,1.5 0 1,0 3.1,0a1.5,1.5 0 1,0 -3.1,0M130.4,113.6a1.5,1.5 0 1,0 3.1,0a1.5,1.5 0 1,0 -3.1,0M132.0,116.2a1.5,1.5 0 1,0 3.1,0a1.5,1.5 0 1,0 -3.1,0M133.6,116.2a1.5,1.5 0 1,0 3.1,0a1.5,1.5 0 1,0 -3.1,0M135.2,115.9a1.5,1.5 0 1,0 3.1,0a1.5,1.5 0 1,0 -3.1,0M136.8,114.9a1.5,1.5 0 1,0 3.1,0a1.5,1.5 0 1,0 -3.1,0M138.4,116.5a1.5,1.5 0 1,0 3.1,0a1.5,1.5 0 1,0 -3.1,0M140.0,117.8a1.5,1.5 0 1,0 3.1,0a1.5,1.5 0 1,0 -3.1,0M141.6,117.4a1.5,1.5 0 1,0 3.1,0a1.5,1.5 0 1,0 -3.1,0M143.2,120.1a1.5,1.5 0 1,0 3.1,0a1.5,1.5 0 1,0 -3.1,0M144.8,120.9a1.5,1.5 0 1,0 3.1,0a1.5,1.5 0 1,0 -3.1,0M146.4,121.6a1.5,1.5 0 1,0 3.1,0a1.5,1.5 0 1,0 -3.1,0M148.0,118.3a1.5,1.5 0 1,0 3.1,0a1.5,1.5 0 1,0 -3.1,0M149.6,117.2a1.5,1.5 0 1,0 3.1,0a1.5,1.5 0 1,0 -3.1,0M151.2,117.6a1.5,1.5 0 1,0 3.1,0a1.5,1.5 0 1,0 -3.1,0M152.8,114.5a1.5,1.5 0 1,0 3.1,0a1.5,1.5 0 1,0 -3.1,0M154.4,116.4a1.5,1.5 0 1,0 3.1,0a1.5,1.5 0 1,0 -3.1,0M156.0,116.0a1.5,1.5 0 1,0 3.1,0a1.5,1.5 0 1,0 -3.1,0M157.6,118.4a1.5,1.5 0 1,0 3.1,0a1.5,1.5 0 1,0 -3.1,0M159.2,116.6a1.5,1.5 0 1,0 3.1,0a1.5,1.5 0 1,0 -3.1,0M160.8,118.1a1.5,1.5 0 1,0 3.1,0a1.5,1.5 0 1,0 -3.1,0M162.4,117.5a1.5,1.5 0 1,0 3.1,0a1.5,1.5 0 1,0 -3.1,0M164.0,117.6a1.5,1.5 0 1,0 3.1,0a1.5,1.5 0 1,0 -3.1,0M165.6,118.5a1.5,1.5 0 1,0 3.1,0a1.5,1.5 0 1,0 -3.1,0M167.2,118.7a1.5,1.5 0 1,0 3.1,0a1.5,1.5 0 1,0 -3.1,0M168.8,119.5a1.5,1.5 0 1,0 3.1,0a1.5,1.5 0 1,0 -3.1,0M170.4,120.1a1.5,1.5 0 1,0 3.1,0a1.5,1.5 0 1,0 -3.1,0M172.0,123.1a1.5,1.5 0 1,0 3.1,0a1.5,1.5 0 1,0 -3.1,0M173.6,121.8a1.5,1.5 0 1,0 3.1,0a1.5,1.5 0 1,0 -3.1,0M175.2,121.3a1.5,1.5 0 1,0 3.1,0a1.5,1.5 0 1,0 -3.1,0M176.8,118.5a1.5,1.5 0 1,0 3.1,0a1.5,1.5 0 1,0 -3.1,0M178.4,121.0a1.5,1.5 0 1,0 3.1,0a1.5,1.5 0 1,0 -3.1,0M180.0,119.8a1.5,1.5 0 1,0 3.1,0a1.5,1.5 0 1,0 -3.1,0M181.6,119.3a1.5,1.5 0 1,0 3.1,0a1.5,1.5 0 1,0 -3.1,0M183.2,119.8a1.5,1.5 0 1,0 3.1,0a1.5,1.5 0 1,0 -3.1,0M184.8,119.8a1.5,1.5 0 1,0 3.1,0a1.5,1.5 0 1,0 -3.1,0M186.4,119.7a1.5,1.5 0 1,0 3.1,0a1.5,1.5 0 1,0 -3.1,0M188.0,121.3a1.5,1.5 0 1,0 3.1,0a1.5,1.5 0 1,0 -3.1,0M189.6,121.4a1.5,1.5 0 1,0 3.1,0a1.5,1.5 0 1,0 -3.1,0M191.2,120.4a1.5,1.5 0 1,0 3.1,0a1.5,1.5 0 1,0 -3.1,0M192.8,120.8a1.5,1.5 0 1,0 3.1,0a1.5,1.5 0 1,0 -3.1,0M194.4,120.6a1.5,1.5 0 1,0 3.1,0a1.5,1.5 0 1,0 -3.1,0M196.0,122.4a1.5,1.5 0 1,0 3.1,0a1.5,1.5 0 1,0 -3.1,0M197.6,120.0a1.5,1.5 0 1,0 3.1,0a1.5,1.5 0 1,0 -3.1,0M199.2,120.7a1.5,1.5 0 1,0 3.1,0a1.5,1.5 0 1,0 -3.1,0M200.8,119.5a1.5,1.5 0 1,0 3.1,0a1.5,1.5 0 1,0 -3.1,0M202.4,118.9a1.5,1.5 0 1,0 3.1,0a1.5,1.5 0 1,0 -3.1,0M204.0,120.3a1.5,1.5 0 1,0 3.1,0a1.5,1.5 0 1,0 -3.1,0M205.6,121.4a1.5,1.5 0 1,0 3.1,0a1.5,1.5 0 1,0 -3.1,0M207.2,124.0a1.5,1.5 0 1,0 3.1,0a1.5,1.5 0 1,0 -3.1,0M208.8,125.3a1.5,1.5 0 1,0 3.1,0a1.5,1.5 0 1,0 -3.1,0M210.4,122.5a1.5,1.5 0 1,0 3.1,0a1.5,1.5 0 1,0 -3.1,0M212.0,122.9a1.5,1.5 0 1,0 3.1,0a1.5,1.5 0 1,0 -3.1,0M213.6,123.5a1.5,1.5 0 1,0 3.1,0a1.5,1.5 0 1,0 -3.1,0M215.2,122.6a1.5,1.5 0 1,0 3.1,0a1.5,1.5 0 1,0 -3.1,0" fill="#d8201c"/>
<polyline points="77.5,145.9 78.3,143.9 79.1,140.4 79.9,137.9 80.7,135.0 81.5,132.9 82.3,129.9 83.1,127.8 83.9,125.7 84.7,123.0 85.5,120.3 86.3,117.5 87.1,115.6 87.9,113.2 88.7,110.3 89.5,107.5 90.3,105.9 91.1,104.6 91.9,101.0 92.7,99.0 93.5,96.9 94.3,94.0 95.1,93.9 95.9,92.0 96.7,91.6 97.5,89.7 98.3,88.6 99.1,88.1 99.9,87.5 100.7,86.3 101.5,85.8 102.3,84.3 103.1,84.1 103.9,83.8 104.7,83.6 105.5,82.2 106.3,81.3 107.1,81.1 107.9,80.3 108.7,80.2 109.5,79.8 110.3,79.0 111.1,79.0 111.9,78.8 112.7,78.7 113.5,78.4 114.3,77.8 115.1,77.0 115.9,77.7 116.7,77.1 117.5,78.2 118.3,78.3 119.1,77.5 119.9,78.7 120.7,78.9 121.5,78.6 122.3,79.4 123.1,79.8 123.9,78.6 124.7,80.0 125.5,80.0 126.3,80.4 127.1,80.9 127.9,80.4 128.7,80.9 129.5,81.3 130.3,81.8 131.1,82.6 131.9,82.4 132.7,83.1 133.5,84.4 134.3,84.6 135.1,85.3 135.9,84.6 136.7,85.4 137.5,85.8 138.3,86.4 139.1,86.4 139.9,87.4 140.7,87.2 141.5,87.5 142.3,87.8 143.1,88.5 143.9,88.2 144.7,89.2 145.5,89.2 146.3,89.4 147.1,89.8 147.9,90.4 148.7,91.1 149.5,91.4 150.3,91.4 151.1,91.8 151.9,91.5 152.7,92.2 153.5,91.6 154.3,90.7 155.1,92.5 155.9,92.0 156.7,91.5 157.5,92.0 158.3,91.9 159.1,93.7 159.9,93.2 160.7,92.4 161.5,93.8 162.3,93.6 163.1,95.1 163.9,93.9 164.7,93.6 165.5,95.1 166.3,95.2 167.1,95.2 167.9,94.5 168.7,95.8 169.5,96.6 170.3,94.9 171.1,96.5 171.9,95.7 172.7,97.3 173.5,96.4 174.3,96.2 175.1,97.1 175.9,97.0 176.7,96.6 177.5,97.5 178.3,97.1 179.1,96.6 179.9,98.7 180.7,97.8 181.5,97.8 182.3,98.5 183.1,97.6 183.9,97.8 184.7,98.4 185.5,98.4 186.3,98.8 187.1,99.5 187.9,98.8 188.7,99.3 189.5,99.5 190.3,98.8 191.1,99.2 191.9,98.4 192.7,99.2 193.5,98.7 194.3,98.3 195.1,97.4 195.9,98.0 196.7,97.3 197.5,97.9 198.3,97.3 199.1,97.2 199.9,98.5 200.7,98.8 201.5,98.6 202.3,99.8 203.1,99.5 203.9,99.9 204.7,100.5 205.5,100.5 206.3,101.0 207.1,101.2 207.9,102.1 208.7,102.0 209.5,101.2 210.3,102.1 211.1,101.3 211.9,101.5 212.7,101.7 213.5,101.4 214.3,102.5 215.1,101.4 215.9,100.7 216.7,102.0 217.5,101.1" fill="none" stroke="#0a10c8" stroke-width="3.6" stroke-linejoin="round" stroke-linecap="round"/>
<path d="M75.9,145.7a1.6,1.6 0 1,0 3.2,0a1.6,1.6 0 1,0 -3.2,0M77.5,138.0a1.6,1.6 0 1,0 3.2,0a1.6,1.6 0 1,0 -3.2,0M79.1,135.8a1.6,1.6 0 1,0 3.2,0a1.6,1.6 0 1,0 -3.2,0M80.7,130.5a1.6,1.6 0 1,0 3.2,0a1.6,1.6 0 1,0 -3.2,0M82.3,126.3a1.6,1.6 0 1,0 3.2,0a1.6,1.6 0 1,0 -3.2,0M83.9,121.1a1.6,1.6 0 1,0 3.2,0a1.6,1.6 0 1,0 -3.2,0M85.5,116.9a1.6,1.6 0 1,0 3.2,0a1.6,1.6 0 1,0 -3.2,0M87.1,110.3a1.6,1.6 0 1,0 3.2,0a1.6,1.6 0 1,0 -3.2,0M88.7,106.6a1.6,1.6 0 1,0 3.2,0a1.6,1.6 0 1,0 -3.2,0M90.3,100.4a1.6,1.6 0 1,0 3.2,0a1.6,1.6 0 1,0 -3.2,0M91.9,96.6a1.6,1.6 0 1,0 3.2,0a1.6,1.6 0 1,0 -3.2,0M93.5,94.7a1.6,1.6 0 1,0 3.2,0a1.6,1.6 0 1,0 -3.2,0M95.1,91.9a1.6,1.6 0 1,0 3.2,0a1.6,1.6 0 1,0 -3.2,0M96.7,87.5a1.6,1.6 0 1,0 3.2,0a1.6,1.6 0 1,0 -3.2,0M98.3,87.8a1.6,1.6 0 1,0 3.2,0a1.6,1.6 0 1,0 -3.2,0M99.9,85.6a1.6,1.6 0 1,0 3.2,0a1.6,1.6 0 1,0 -3.2,0M101.5,83.4a1.6,1.6 0 1,0 3.2,0a1.6,1.6 0 1,0 -3.2,0M103.1,83.9a1.6,1.6 0 1,0 3.2,0a1.6,1.6 0 1,0 -3.2,0M104.7,81.0a1.6,1.6 0 1,0 3.2,0a1.6,1.6 0 1,0 -3.2,0M106.3,79.1a1.6,1.6 0 1,0 3.2,0a1.6,1.6 0 1,0 -3.2,0M107.9,78.9a1.6,1.6 0 1,0 3.2,0a1.6,1.6 0 1,0 -3.2,0M109.5,80.4a1.6,1.6 0 1,0 3.2,0a1.6,1.6 0 1,0 -3.2,0M111.1,77.5a1.6,1.6 0 1,0 3.2,0a1.6,1.6 0 1,0 -3.2,0M112.7,77.9a1.6,1.6 0 1,0 3.2,0a1.6,1.6 0 1,0 -3.2,0M114.3,78.2a1.6,1.6 0 1,0 3.2,0a1.6,1.6 0 1,0 -3.2,0M115.9,78.7a1.6,1.6 0 1,0 3.2,0a1.6,1.6 0 1,0 -3.2,0M117.5,76.5a1.6,1.6 0 1,0 3.2,0a1.6,1.6 0 1,0 -3.2,0M119.1,78.6a1.6,1.6 0 1,0 3.2,0a1.6,1.6 0 1,0 -3.2,0M120.7,79.5a1.6,1.6 0 1,0 3.2,0a1.6,1.6 0 1,0 -3.2,0M122.3,79.2a1.6,1.6 0 1,0 3.2,0a1.6,1.6 0 1,0 -3.2,0M123.9,79.5a1.6,1.6 0 1,0 3.2,0a1.6,1.6 0 1,0 -3.2,0M125.5,80.0a1.6,1.6 0 1,0 3.2,0a1.6,1.6 0 1,0 -3.2,0M127.1,81.7a1.6,1.6 0 1,0 3.2,0a1.6,1.6 0 1,0 -3.2,0M128.7,82.7a1.6,1.6 0 1,0 3.2,0a1.6,1.6 0 1,0 -3.2,0M130.3,82.7a1.6,1.6 0 1,0 3.2,0a1.6,1.6 0 1,0 -3.2,0M131.9,83.9a1.6,1.6 0 1,0 3.2,0a1.6,1.6 0 1,0 -3.2,0M133.5,85.6a1.6,1.6 0 1,0 3.2,0a1.6,1.6 0 1,0 -3.2,0M135.1,85.5a1.6,1.6 0 1,0 3.2,0a1.6,1.6 0 1,0 -3.2,0M136.7,87.1a1.6,1.6 0 1,0 3.2,0a1.6,1.6 0 1,0 -3.2,0M138.3,86.4a1.6,1.6 0 1,0 3.2,0a1.6,1.6 0 1,0 -3.2,0M139.9,87.6a1.6,1.6 0 1,0 3.2,0a1.6,1.6 0 1,0 -3.2,0M141.5,88.3a1.6,1.6 0 1,0 3.2,0a1.6,1.6 0 1,0 -3.2,0M143.1,88.3a1.6,1.6 0 1,0 3.2,0a1.6,1.6 0 1,0 -3.2,0M144.7,89.6a1.6,1.6 0 1,0 3.2,0a1.6,1.6 0 1,0 -3.2,0M146.3,90.4a1.6,1.6 0 1,0 3.2,0a1.6,1.6 0 1,0 -3.2,0M147.9,91.1a1.6,1.6 0 1,0 3.2,0a1.6,1.6 0 1,0 -3.2,0M149.5,92.1a1.6,1.6 0 1,0 3.2,0a1.6,1.6 0 1,0 -3.2,0M151.1,91.0a1.6,1.6 0 1,0 3.2,0a1.6,1.6 0 1,0 -3.2,0M152.7,90.7a1.6,1.6 0 1,0 3.2,0a1.6,1.6 0 1,0 -3.2,0M154.3,92.3a1.6,1.6 0 1,0 3.2,0a1.6,1.6 0 1,0 -3.2,0M155.9,92.3a1.6,1.6 0 1,0 3.2,0a1.6,1.6 0 1,0 -3.2,0M157.5,94.5a1.6,1.6 0 1,0 3.2,0a1.6,1.6 0 1,0 -3.2,0M159.1,91.5a1.6,1.6 0 1,0 3.2,0a1.6,1.6 0 1,0 -3.2,0M160.7,92.4a1.6,1.6 0 1,0 3.2,0a1.6,1.6 0 1,0 -3.2,0M162.3,94.1a1.6,1.6 0 1,0 3.2,0a1.6,1.6 0 1,0 -3.2,0M163.9,95.5a1.6,1.6 0 1,0 3.2,0a1.6,1.6 0 1,0 -3.2,0M165.5,96.9a1.6,1.6 0 1,0 3.2,0a1.6,1.6 0 1,0 -3.2,0M167.1,96.3a1.6,1.6 0 1,0 3.2,0a1.6,1.6 0 1,0 -3.2,0M168.7,94.2a1.6,1.6 0 1,0 3.2,0a1.6,1.6 0 1,0 -3.2,0M170.3,96.4a1.6,1.6 0 1,0 3.2,0a1.6,1.6 0 1,0 -3.2,0M171.9,95.8a1.6,1.6 0 1,0 3.2,0a1.6,1.6 0 1,0 -3.2,0M173.5,95.9a1.6,1.6 0 1,0 3.2,0a1.6,1.6 0 1,0 -3.2,0M175.1,98.7a1.6,1.6 0 1,0 3.2,0a1.6,1.6 0 1,0 -3.2,0M176.7,97.3a1.6,1.6 0 1,0 3.2,0a1.6,1.6 0 1,0 -3.2,0M178.3,99.3a1.6,1.6 0 1,0 3.2,0a1.6,1.6 0 1,0 -3.2,0M179.9,98.3a1.6,1.6 0 1,0 3.2,0a1.6,1.6 0 1,0 -3.2,0M181.5,99.1a1.6,1.6 0 1,0 3.2,0a1.6,1.6 0 1,0 -3.2,0M183.1,98.6a1.6,1.6 0 1,0 3.2,0a1.6,1.6 0 1,0 -3.2,0M184.7,99.8a1.6,1.6 0 1,0 3.2,0a1.6,1.6 0 1,0 -3.2,0M186.3,97.9a1.6,1.6 0 1,0 3.2,0a1.6,1.6 0 1,0 -3.2,0M187.9,98.4a1.6,1.6 0 1,0 3.2,0a1.6,1.6 0 1,0 -3.2,0M189.5,100.4a1.6,1.6 0 1,0 3.2,0a1.6,1.6 0 1,0 -3.2,0M191.1,100.4a1.6,1.6 0 1,0 3.2,0a1.6,1.6 0 1,0 -3.2,0M192.7,98.7a1.6,1.6 0 1,0 3.2,0a1.6,1.6 0 1,0 -3.2,0M194.3,98.2a1.6,1.6 0 1,0 3.2,0a1.6,1.6 0 1,0 -3.2,0M195.9,98.0a1.6,1.6 0 1,0 3.2,0a1.6,1.6 0 1,0 -3.2,0M197.5,96.7a1.6,1.6 0 1,0 3.2,0a1.6,1.6 0 1,0 -3.2,0M199.1,100.0a1.6,1.6 0 1,0 3.2,0a1.6,1.6 0 1,0 -3.2,0M200.7,100.4a1.6,1.6 0 1,0 3.2,0a1.6,1.6 0 1,0 -3.2,0M202.3,100.3a1.6,1.6 0 1,0 3.2,0a1.6,1.6 0 1,0 -3.2,0M203.9,100.8a1.6,1.6 0 1,0 3.2,0a1.6,1.6 0 1,0 -3.2,0M205.5,102.1a1.6,1.6 0 1,0 3.2,0a1.6,1.6 0 1,0 -3.2,0M207.1,102.5a1.6,1.6 0 1,0 3.2,0a1.6,1.6 0 1,0 -3.2,0M208.7,102.7a1.6,1.6 0 1,0 3.2,0a1.6,1.6 0 1,0 -3.2,0M210.3,100.6a1.6,1.6 0 1,0 3.2,0a1.6,1.6 0 1,0 -3.2,0M211.9,101.9a1.6,1.6 0 1,0 3.2,0a1.6,1.6 0 1,0 -3.2,0M213.5,103.2a1.6,1.6 0 1,0 3.2,0a1.6,1.6 0 1,0 -3.2,0M215.1,101.5a1.6,1.6 0 1,0 3.2,0a1.6,1.6 0 1,0 -3.2,0" fill="#0a10c8"/>
</g>
<line x1="77.8" y1="36" x2="77.8" y2="172" stroke="#111111" stroke-width="2.0"/>
<line x1="76.8" y1="171.0" x2="237.6" y2="171.0" stroke="#111111" stroke-width="2.0"/>
<line x1="73" y1="171.1" x2="77.6" y2="171.1" stroke="#111111" stroke-width="1.6"/>
<text x="68.2" y="174.79999999999998" font-size="11.3" text-anchor="end" textLength="7.1" lengthAdjust="spacingAndGlyphs" fill="#2b2b2b">0</text>
<line x1="73" y1="138.575" x2="77.6" y2="138.575" stroke="#111111" stroke-width="1.6"/>
<text x="68.2" y="142.27499999999998" font-size="11.3" text-anchor="end" textLength="21.3" lengthAdjust="spacingAndGlyphs" fill="#2b2b2b">500</text>
<line x1="73" y1="106.05" x2="77.6" y2="106.05" stroke="#111111" stroke-width="1.6"/>
<text x="68.2" y="109.75" font-size="11.3" text-anchor="end" textLength="28.4" lengthAdjust="spacingAndGlyphs" fill="#2b2b2b">1000</text>
<line x1="73" y1="73.525" x2="77.6" y2="73.525" stroke="#111111" stroke-width="1.6"/>
<text x="68.2" y="77.22500000000001" font-size="11.3" text-anchor="end" textLength="28.4" lengthAdjust="spacingAndGlyphs" fill="#2b2b2b">1500</text>
<line x1="73" y1="41.0" x2="77.6" y2="41.0" stroke="#111111" stroke-width="1.6"/>
<text x="68.2" y="44.7" font-size="11.3" text-anchor="end" textLength="28.4" lengthAdjust="spacingAndGlyphs" fill="#2b2b2b">2000</text>
<line x1="77.8" y1="171" x2="77.8" y2="175.6" stroke="#111111" stroke-width="1.6"/>
<text x="77.8" y="190.8" font-size="10.5" text-anchor="middle" textLength="6.9" lengthAdjust="spacingAndGlyphs" fill="#2b2b2b">0</text>
<line x1="116.6" y1="171" x2="116.6" y2="175.6" stroke="#111111" stroke-width="1.6"/>
<text x="116.6" y="190.8" font-size="10.5" text-anchor="middle" textLength="13.8" lengthAdjust="spacingAndGlyphs" fill="#2b2b2b">50</text>
<line x1="155.4" y1="171" x2="155.4" y2="175.6" stroke="#111111" stroke-width="1.6"/>
<text x="155.4" y="190.8" font-size="10.5" text-anchor="middle" textLength="20.7" lengthAdjust="spacingAndGlyphs" fill="#2b2b2b">100</text>
<line x1="194.2" y1="171" x2="194.2" y2="175.6" stroke="#111111" stroke-width="1.6"/>
<text x="194.2" y="190.8" font-size="10.5" text-anchor="middle" textLength="20.7" lengthAdjust="spacingAndGlyphs" fill="#2b2b2b">150</text>
<line x1="233.0" y1="171" x2="233.0" y2="175.6" stroke="#111111" stroke-width="1.6"/>
<text x="233.0" y="190.8" font-size="10.5" text-anchor="middle" textLength="20.7" lengthAdjust="spacingAndGlyphs" fill="#2b2b2b">200</text>
<text x="132.9" y="211.8" font-size="14.4" fill="#111" stroke="#111" stroke-width="0.45" textLength="21.6" lengthAdjust="spacingAndGlyphs">Time</text>
<text x="158.3" y="211.8" font-size="14.4" fill="#111" stroke="#111" stroke-width="0.45" textLength="12.4" lengthAdjust="spacingAndGlyphs">(s)</text>
<text x="0" y="0" font-size="13.6" fill="#111" stroke="#111" stroke-width="0.45" transform="translate(29.6 143.1) rotate(-90)" textLength="21.4" lengthAdjust="spacingAndGlyphs">CD41</text>
<text x="0" y="0" font-size="13.6" fill="#111" stroke="#111" stroke-width="0.45" transform="translate(29.6 117.4) rotate(-90)" textLength="20.7" lengthAdjust="spacingAndGlyphs">area</text>
<text x="0" y="0" font-size="13.6" fill="#111" stroke="#111" stroke-width="0.45" transform="translate(29.6 93.4) rotate(-90)" textLength="30.1" lengthAdjust="spacingAndGlyphs">(μm<tspan dy="-4.6" font-size="9">2</tspan><tspan dy="4.6">)</tspan></text>
<circle cx="87.4" cy="42.4" r="1.7" fill="#1a1a78"/>
<text x="93.4" y="46.1" font-size="10.3" textLength="34.3" lengthAdjust="spacingAndGlyphs" fill="#111">Vehicle</text>
<rect x="136" y="40.6" width="3.4" height="3.4" fill="#6cb04a"/>
<text x="144.3" y="46.1" font-size="10.3" textLength="48.5" lengthAdjust="spacingAndGlyphs" fill="#111">Cangrelor</text>
<polygon points="85.5,56.7 89.5,56.7 87.5,53.2" fill="#b02838"/>
<text x="93.6" y="58.9" font-size="10.3" textLength="33.5" lengthAdjust="spacingAndGlyphs" fill="#111">Aspirin</text>
<polygon points="135.7,53.2 139.7,53.2 137.7,56.7" fill="#7a3a98"/>
<text x="144.3" y="58.9" font-size="10.3" textLength="97.4" lengthAdjust="spacingAndGlyphs" fill="#111">Aspirin + Cangrelor</text>
<g clip-path="url(#cc)">
<polygon points="344.9,168.5 345.9,168.3 347.4,168.0 348.8,167.8 349.5,167.6 351.1,167.1 352.5,166.6 353.3,166.2 355.2,165.7 356.5,165.2 357.9,164.7 358.8,164.2 360.2,163.7 361.8,163.1 362.7,162.5 364.4,161.9 365.3,161.3 366.6,160.6 367.8,159.7 369.1,158.9 370.5,157.9 371.6,156.6 373.5,155.3 374.9,153.4 375.5,151.0 376.7,149.5 378.0,149.9 380.0,150.1 380.7,149.1 382.4,147.8 383.4,145.6 384.7,143.1 386.0,144.7 387.7,145.9 388.4,145.3 390.4,144.6 391.5,141.0 392.5,137.3 393.8,135.0 395.4,133.3 396.7,132.4 397.8,131.6 399.1,130.6 400.5,129.3 402.1,128.1 403.1,127.0 404.7,125.9 405.8,124.9 407.0,123.4 408.3,121.8 409.7,120.2 410.9,118.5 412.4,116.7 413.2,115.0 414.7,113.3 416.4,112.1 417.3,111.1 419.0,110.1 420.4,109.1 421.4,108.2 422.3,107.6 424.1,106.8 425.3,106.0 426.3,105.2 428.1,104.3 429.1,103.6 430.0,103.2 431.4,102.7 432.8,101.9 434.4,101.0 435.9,100.1 436.6,98.4 437.8,95.9 439.6,93.3 440.7,91.6 442.1,90.3 443.7,89.2 445.0,88.6 446.4,88.0 447.5,87.4 448.2,86.9 449.6,85.6 451.3,84.0 452.9,82.3 453.5,81.1 455.1,80.6 456.3,80.3 457.6,79.9 458.8,79.5 460.1,78.4 461.4,77.4 462.6,76.3 464.2,75.2 465.5,74.2 467.0,73.1 468.2,72.5 469.8,71.9 470.6,71.4 472.3,70.8 473.2,70.3 474.7,69.8 476.1,69.2 477.1,68.6 478.5,68.1 479.9,67.9 480.8,67.7 482.4,67.4 483.4,67.1 483.4,85.7 482.4,86.0 480.8,86.1 479.9,86.2 478.5,86.4 477.1,86.8 476.1,87.3 474.7,87.8 473.2,88.3 472.3,88.7 470.6,89.1 469.8,89.7 468.2,90.1 467.0,90.7 465.5,91.6 464.2,92.6 462.6,93.6 461.4,94.5 460.1,95.5 458.8,96.4 457.6,96.6 456.3,96.8 455.1,97.0 453.5,97.2 452.9,98.3 451.3,99.7 449.6,101.1 448.2,102.2 447.5,102.6 446.4,102.9 445.0,103.3 443.7,103.8 442.1,104.6 440.7,105.7 439.6,107.2 437.8,109.6 436.6,111.9 435.9,113.5 434.4,114.3 432.8,115.0 431.4,115.6 430.0,116.0 429.1,116.3 428.1,116.9 426.3,117.6 425.3,118.3 424.1,118.9 422.3,119.5 421.4,120.0 420.4,120.8 419.0,121.6 417.3,122.5 416.4,123.3 414.7,124.3 413.2,125.9 412.4,127.5 410.9,129.1 409.7,130.7 408.3,132.1 407.0,133.4 405.8,134.8 404.7,135.7 403.1,136.6 402.1,137.4 400.5,138.4 399.1,139.3 397.8,140.0 396.7,140.5 395.4,141.0 393.8,142.2 392.5,144.0 391.5,147.4 390.4,150.6 388.4,150.7 387.7,151.0 386.0,149.2 384.7,147.2 383.4,149.3 382.4,151.2 380.7,151.8 380.0,152.7 378.0,152.3 376.7,151.8 375.5,153.3 374.9,155.7 373.5,157.5 371.6,158.7 370.5,159.9 369.1,160.9 367.8,161.6 366.6,162.3 365.3,163.0 364.4,163.5 362.7,164.1 361.8,164.7 360.2,165.1 358.8,165.5 357.9,166.0 356.5,166.4 355.2,166.8 353.3,167.2 352.5,167.6 351.1,168.0 349.5,168.4 348.8,168.6 347.4,168.8 345.9,168.9 344.9,169.1" fill="#d9d9d9"/>
<path d="M344.9 168.5V169.1M345.9 168.1V169.1M347.4 168.1V168.7M348.8 167.8V168.6M349.5 167.6V168.5M351.1 167.0V168.1M352.5 166.5V167.7M353.3 166.0V167.5M355.2 165.4V167.1M356.5 165.0V166.3M357.9 164.6V166.2M358.8 164.2V165.7M360.2 163.9V165.0M361.8 163.1V164.5M362.7 162.5V164.0M364.4 161.5V163.5M365.3 161.2V163.3M366.6 160.4V162.1M367.8 159.9V161.8M369.1 159.1V160.8M370.5 157.7V160.0M371.6 156.7V158.9M373.5 155.0V157.2M374.9 153.5V155.6M375.5 150.5V153.0M376.7 149.5V151.7M378.0 149.5V152.8M380.0 150.5V153.2M380.7 148.7V151.7M382.4 147.1V151.1M383.4 144.9V148.8M384.7 142.9V147.4M386.0 143.7V150.2M387.7 145.5V150.3M388.4 145.2V150.7M390.4 143.1V151.5M391.5 140.9V147.4M392.5 136.3V143.2M393.8 133.8V143.2M395.4 133.1V142.2M396.7 132.3V139.7M397.8 131.4V138.8M399.1 131.4V139.7M400.5 127.8V137.8M402.1 127.6V140.1M403.1 125.4V138.9M404.7 124.8V136.7M405.8 124.0V135.8M407.0 122.9V133.5M408.3 122.3V130.8M409.7 120.2V132.5M410.9 117.6V128.2M412.4 114.7V126.0M413.2 112.5V127.2M414.7 112.4V124.5M416.4 109.9V121.7M417.3 112.7V123.2M419.0 110.4V121.8M420.4 108.2V119.3M421.4 105.1V121.5M422.3 108.9V121.3M424.1 105.9V120.5M425.3 104.0V121.4M426.3 106.5V120.7M428.1 103.6V116.1M429.1 103.5V116.3M430.0 100.1V116.8M431.4 104.3V117.4M432.8 101.1V117.3M434.4 102.8V116.8M435.9 96.8V111.8M436.6 97.6V110.7M437.8 94.8V108.2M439.6 90.0V106.3M440.7 89.6V107.2M442.1 90.6V103.9M443.7 85.5V102.1M445.0 89.3V103.2M446.4 86.4V103.0M447.5 89.2V103.7M448.2 84.3V104.0M449.6 84.7V100.8M451.3 86.6V100.7M452.9 80.2V98.8M453.5 76.4V96.3M455.1 77.0V99.0M456.3 75.9V100.0M457.6 80.8V99.8M458.8 79.1V98.2M460.1 73.4V96.9M461.4 75.5V92.9M462.6 74.3V92.9M464.2 75.0V92.7M465.5 68.9V93.3M467.0 70.0V89.6M468.2 73.0V93.2M469.8 74.0V93.2M470.6 70.8V89.3M472.3 69.5V89.2M473.2 69.3V88.7M474.7 66.8V87.4M476.1 70.9V87.8M477.1 71.0V87.3M478.5 66.9V89.0M479.9 70.1V86.5M480.8 63.9V86.0M482.4 63.1V88.2M483.4 70.0V85.9" stroke="#cccccc" stroke-width="1.0" fill="none"/>
<polygon points="344.8,167.2 345.9,167.1 347.3,166.9 348.9,166.8 349.9,166.6 351.1,166.3 352.7,165.9 353.6,165.6 354.6,165.2 356.1,164.8 357.7,164.3 359.3,163.8 360.3,163.3 361.3,162.8 363.2,162.2 364.0,161.7 365.2,161.0 366.7,160.4 367.9,159.7 369.0,159.1 370.8,158.4 372.1,157.6 373.6,156.9 374.2,156.2 376.1,155.4 377.3,154.8 378.2,154.2 379.7,153.7 381.1,153.1 382.2,152.5 383.3,151.8 385.2,151.1 385.9,149.7 387.5,148.0 388.8,146.3 390.4,144.5 391.4,142.8 392.6,141.1 394.4,139.3 395.2,137.8 396.8,136.1 397.7,134.6 399.4,132.9 400.7,131.4 402.1,130.1 403.1,129.3 404.2,128.4 405.8,127.5 407.3,126.6 408.1,125.7 409.2,124.9 410.6,123.9 412.5,123.0 413.1,122.1 414.4,121.2 415.8,120.3 417.7,119.3 418.6,118.4 420.2,117.8 421.5,117.2 422.5,116.7 424.1,116.1 425.2,115.5 426.5,114.9 427.6,114.4 428.7,113.7 430.5,113.0 431.5,112.3 432.8,111.6 434.6,110.8 435.5,110.1 436.6,109.3 438.3,108.4 439.5,107.5 440.4,106.6 442.0,105.6 443.5,104.7 444.5,103.8 446.4,103.0 447.5,102.5 448.6,102.1 450.2,101.7 450.8,101.3 452.3,100.9 454.1,100.4 455.1,99.5 456.1,98.7 457.8,97.8 459.2,97.0 460.4,96.1 461.2,95.3 462.5,94.4 464.1,93.4 465.1,92.5 466.5,91.6 468.2,90.5 469.4,89.4 470.4,88.4 472.3,89.8 473.2,91.5 474.9,93.2 476.0,92.2 477.3,91.2 478.4,90.2 479.9,89.8 480.9,89.4 482.2,89.0 484.0,90.0 484.0,107.8 482.2,106.7 480.9,107.0 479.9,107.4 478.4,107.8 477.3,108.7 476.0,109.6 474.9,110.5 473.2,108.8 472.3,107.0 470.4,105.5 469.4,106.5 468.2,107.5 466.5,108.5 465.1,109.4 464.1,110.3 462.5,111.1 461.2,112.0 460.4,112.8 459.2,113.6 457.8,114.4 456.1,115.1 455.1,115.9 454.1,116.7 452.3,117.2 450.8,117.5 450.2,117.9 448.6,118.2 447.5,118.6 446.4,118.9 444.5,119.7 443.5,120.5 442.0,121.4 440.4,122.2 439.5,123.1 438.3,123.8 436.6,124.5 435.5,125.2 434.6,125.8 432.8,126.2 431.5,126.8 430.5,127.4 428.7,127.8 427.6,128.3 426.5,128.7 425.2,129.1 424.1,129.6 422.5,129.9 421.5,130.3 420.2,130.7 418.6,131.1 417.7,131.9 415.8,132.6 414.4,133.3 413.1,134.1 412.5,134.9 410.6,135.6 409.2,136.3 408.1,137.1 407.3,137.8 405.8,138.5 404.2,139.2 403.1,139.9 402.1,140.6 400.7,141.7 399.4,142.7 397.7,143.6 396.8,144.7 395.2,145.6 394.4,146.7 392.6,147.6 391.4,148.7 390.4,149.8 388.8,150.7 387.5,151.8 385.9,152.8 385.2,153.7 383.3,154.3 382.2,154.9 381.1,155.4 379.7,155.9 378.2,156.5 377.3,157.0 376.1,157.5 374.2,158.2 373.6,158.9 372.1,159.5 370.8,160.2 369.0,160.8 367.9,161.4 366.7,162.0 365.2,162.6 364.0,163.2 363.2,163.7 361.3,164.1 360.3,164.6 359.3,165.0 357.7,165.5 356.1,165.9 354.6,166.3 353.6,166.6 352.7,166.9 351.1,167.2 349.9,167.4 348.9,167.5 347.3,167.6 345.9,167.7 344.8,167.8" fill="#d9d9d9"/>
<path d="M344.8 167.3V167.8M345.9 167.0V167.7M347.3 166.9V167.8M348.9 166.8V167.5M349.9 166.4V167.4M351.1 166.3V167.3M352.7 165.9V167.1M353.6 165.4V166.8M354.6 165.3V166.2M356.1 164.6V166.2M357.7 164.4V165.4M359.3 163.8V164.9M360.3 163.2V164.7M361.3 162.6V164.0M363.2 162.3V163.5M364.0 161.8V163.1M365.2 160.7V162.6M366.7 160.5V162.2M367.9 159.3V161.7M369.0 158.8V160.8M370.8 158.3V160.2M372.1 157.3V159.9M373.6 156.8V159.3M374.2 155.9V158.4M376.1 155.5V157.4M377.3 154.9V157.5M378.2 153.8V156.9M379.7 153.2V156.4M381.1 153.0V155.8M382.2 152.7V155.2M383.3 152.1V154.9M385.2 150.5V153.5M385.9 149.2V153.3M387.5 148.5V152.1M388.8 146.1V151.2M390.4 143.3V150.6M391.4 143.2V149.1M392.6 140.6V146.7M394.4 140.0V146.7M395.2 138.4V145.2M396.8 135.0V146.8M397.7 134.2V144.7M399.4 131.2V144.0M400.7 130.1V140.2M402.1 128.0V139.8M403.1 130.0V140.6M404.2 127.4V141.0M405.8 127.8V141.3M407.3 125.4V140.2M408.1 125.2V135.6M409.2 126.4V137.7M410.6 123.6V136.0M412.5 123.1V134.0M413.1 121.6V133.5M414.4 118.7V132.4M415.8 117.5V135.4M417.7 119.2V134.3M418.6 117.4V131.8M420.2 115.7V133.6M421.5 118.0V133.7M422.5 118.2V127.8M424.1 115.5V129.2M425.2 115.2V129.9M426.5 114.4V132.3M427.6 111.6V128.3M428.7 114.1V129.8M430.5 113.8V127.6M431.5 110.5V124.3M432.8 109.5V128.9M434.6 110.7V125.0M435.5 109.2V124.7M436.6 107.0V126.2M438.3 108.7V127.2M439.5 106.2V121.3M440.4 106.3V123.3M442.0 102.6V121.1M443.5 104.2V125.3M444.5 103.4V123.3M446.4 104.3V119.2M447.5 103.5V122.7M448.6 101.1V117.1M450.2 103.2V118.4M450.8 102.8V118.5M452.3 98.9V116.8M454.1 101.4V116.8M455.1 100.6V119.8M456.1 100.2V118.2M457.8 98.0V117.3M459.2 94.7V111.8M460.4 93.9V117.5M461.2 94.1V114.3M462.5 94.6V109.6M464.1 91.2V114.0M465.1 93.4V107.4M466.5 91.6V110.7M468.2 90.5V112.5M469.4 86.9V111.1M470.4 86.9V108.8M472.3 86.3V104.4M473.2 90.2V107.4M474.9 90.5V109.5M476.0 89.9V109.4M477.3 89.4V111.4M478.4 86.9V112.1M479.9 89.3V110.2M480.9 90.4V104.8M482.2 86.8V111.3M484.0 87.5V109.1" stroke="#cccccc" stroke-width="1.0" fill="none"/>
<polygon points="344.7,170.8 346.1,170.7 347.3,170.7 348.4,170.6 350.1,170.6 351.0,170.6 352.7,170.5 353.9,170.5 355.2,170.4 356.6,170.4 358.0,170.3 359.3,170.3 360.2,170.2 361.4,170.2 363.0,170.1 364.5,170.0 365.5,169.9 366.3,169.7 367.6,169.4 369.3,169.1 370.8,168.8 372.2,168.1 373.1,167.3 374.5,166.5 375.8,165.7 376.8,164.9 378.0,164.1 379.7,163.2 381.0,162.3 382.6,161.3 383.3,160.2 385.2,159.2 386.0,158.2 387.5,157.2 389.0,156.3 389.8,155.3 391.8,152.6 393.1,149.7 394.4,147.1 394.9,146.4 396.7,145.7 398.0,145.0 399.5,144.3 400.3,143.7 401.5,142.9 403.3,141.8 404.2,140.8 405.4,139.8 406.7,138.8 408.4,137.7 409.6,136.5 411.1,135.0 412.4,133.5 413.1,131.9 415.1,130.6 416.4,129.5 417.7,128.4 418.9,127.2 419.9,126.1 421.1,125.0 422.9,123.8 423.8,122.7 425.2,121.6 426.7,120.5 428.0,119.4 429.3,118.4 430.5,117.7 431.7,117.0 433.2,116.3 434.2,115.5 435.4,114.8 437.2,114.0 438.5,113.0 439.7,112.1 440.5,111.2 441.7,110.3 443.7,109.3 445.1,108.4 445.8,107.5 447.4,107.1 448.2,106.6 449.8,106.1 451.4,105.6 452.4,105.2 454.0,104.6 455.4,103.8 456.1,103.0 457.9,102.2 458.9,101.4 460.0,100.6 461.5,99.7 462.9,98.8 464.5,97.8 465.7,96.8 466.4,95.9 467.7,95.0 469.8,94.1 470.7,93.2 472.1,94.2 473.2,95.4 474.9,96.5 475.9,95.6 477.3,94.7 478.3,93.9 480.0,93.1 480.9,92.4 482.1,91.6 483.8,90.5 483.8,105.3 482.1,106.5 480.9,107.3 480.0,108.1 478.3,108.9 477.3,109.9 475.9,110.8 474.9,111.7 473.2,110.7 472.1,109.6 470.7,108.7 469.8,109.6 467.7,110.3 466.4,111.1 465.7,111.9 464.5,112.8 462.9,113.6 461.5,114.4 460.0,115.2 458.9,115.9 457.9,116.6 456.1,117.2 455.4,117.9 454.0,118.6 452.4,119.0 451.4,119.4 449.8,119.7 448.2,120.1 447.4,120.4 445.8,120.8 445.1,121.5 443.7,122.4 441.7,123.1 440.5,123.9 439.7,124.8 438.5,125.6 437.2,126.4 435.4,127.1 434.2,127.7 433.2,128.3 431.7,128.9 430.5,129.5 429.3,130.1 428.0,130.9 426.7,131.9 425.2,132.9 423.8,133.9 422.9,134.9 421.1,135.9 419.9,136.9 418.9,137.8 417.7,138.7 416.4,139.5 415.1,140.4 413.1,141.3 412.4,142.6 411.1,143.9 409.6,145.1 408.4,146.1 406.7,146.7 405.4,147.5 404.2,148.3 403.3,149.1 401.5,149.7 400.3,150.2 399.5,150.7 398.0,151.1 396.7,151.5 394.9,151.8 394.4,152.3 393.1,154.6 391.8,157.2 389.8,159.5 389.0,160.2 387.5,160.9 386.0,161.5 385.2,162.3 383.3,162.9 382.6,163.8 381.0,164.5 379.7,165.2 378.0,166.0 376.8,166.7 375.8,167.5 374.5,168.2 373.1,169.0 372.2,169.8 370.8,170.4 369.3,170.6 367.6,170.9 366.3,171.1 365.5,171.2 364.5,171.3 363.0,171.3 361.4,171.3 360.2,171.4 359.3,171.4 358.0,171.4 356.6,171.4 355.2,171.3 353.9,171.3 352.7,171.3 351.0,171.3 350.1,171.3 348.4,171.3 347.3,171.3 346.1,171.2 344.7,171.2" fill="#d9d9d9"/>
<path d="M344.7 170.6V171.3M346.1 170.7V171.2M347.3 170.6V171.4M348.4 170.7V171.4M350.1 170.5V171.3M351.0 170.4V171.3M352.7 170.5V171.7M353.9 170.5V171.4M355.2 170.2V171.5M356.6 170.4V171.7M358.0 170.3V171.5M359.3 169.9V171.8M360.2 169.8V171.5M361.4 169.8V171.8M363.0 170.0V171.9M364.5 170.0V171.6M365.5 169.8V171.3M366.3 169.7V171.7M367.6 169.4V171.4M369.3 169.1V170.8M370.8 168.7V171.1M372.2 168.1V170.4M373.1 167.2V169.7M374.5 166.0V168.4M375.8 165.4V167.5M376.8 164.6V166.6M378.0 163.6V166.4M379.7 163.1V165.1M381.0 161.6V164.5M382.6 161.1V163.6M383.3 160.0V163.4M385.2 158.7V162.6M386.0 158.1V162.9M387.5 157.1V161.3M389.0 155.8V160.6M389.8 154.6V159.3M391.8 152.3V158.1M393.1 149.5V157.1M394.4 146.8V153.4M394.9 146.0V154.5M396.7 145.6V154.4M398.0 143.8V151.7M399.5 144.3V153.8M400.3 143.4V150.7M401.5 143.0V152.2M403.3 140.4V153.1M404.2 140.0V149.9M405.4 138.3V150.5M406.7 137.2V150.0M408.4 136.6V149.6M409.6 136.6V145.8M411.1 135.2V149.3M412.4 131.7V145.9M413.1 131.9V141.1M415.1 130.0V142.3M416.4 129.4V139.1M417.7 127.2V143.9M418.9 127.4V139.2M419.9 125.7V140.2M421.1 123.9V138.2M422.9 122.0V137.0M423.8 122.3V139.3M425.2 119.8V139.3M426.7 120.4V132.4M428.0 118.5V138.2M429.3 117.1V134.4M430.5 117.2V137.1M431.7 116.9V132.7M433.2 114.7V134.4M434.2 113.6V129.9M435.4 114.4V134.8M437.2 112.7V127.7M438.5 113.1V131.8M439.7 109.9V128.8M440.5 110.4V128.9M441.7 107.6V127.3M443.7 107.2V129.5M445.1 106.3V124.9M445.8 107.4V126.2M447.4 104.7V128.6M448.2 106.6V119.8M449.8 104.4V126.6M451.4 105.9V124.2M452.4 104.7V127.8M454.0 103.8V118.0M455.4 101.4V119.6M456.1 102.0V117.1M457.9 101.5V116.5M458.9 100.9V120.5M460.0 100.0V120.8M461.5 96.7V119.1M462.9 99.2V122.4M464.5 97.6V115.0M465.7 95.2V117.2M466.4 95.1V114.3M467.7 92.9V113.8M469.8 93.5V112.6M470.7 92.2V110.4M472.1 92.2V113.7M473.2 94.2V116.9M474.9 93.5V117.2M475.9 94.7V119.3M477.3 94.9V116.8M478.3 92.6V111.6M480.0 89.8V113.3M480.9 88.5V114.8M482.1 91.8V110.1M483.8 87.5V104.7" stroke="#cccccc" stroke-width="1.0" fill="none"/>
<polygon points="344.6,171.2 346.3,171.1 347.0,171.0 348.2,171.0 349.6,170.9 351.0,170.6 352.2,170.3 353.6,170.0 355.3,169.8 356.3,169.5 357.7,169.2 358.6,168.8 359.9,168.2 361.9,167.6 362.7,167.1 364.5,166.5 365.3,165.9 366.8,165.0 368.1,164.1 369.0,163.2 370.3,162.3 371.9,161.3 372.9,160.2 374.3,159.1 375.6,158.0 377.0,156.9 378.4,155.8 379.5,154.5 380.9,153.2 382.3,151.9 383.7,150.5 384.5,149.2 386.6,147.8 387.4,146.5 389.1,145.2 389.7,143.8 391.0,141.5 392.4,139.2 394.3,136.8 395.2,134.5 396.9,132.2 398.1,129.9 398.9,127.6 400.4,126.3 401.7,125.6 403.1,125.0 404.6,124.3 405.4,123.6 407.3,123.0 408.3,122.3 409.5,121.6 411.1,120.9 412.0,120.1 413.7,119.2 414.7,118.4 416.1,117.6 417.2,116.8 418.5,116.0 420.3,115.2 421.4,114.0 422.5,112.9 424.1,111.7 425.5,110.5 426.2,109.4 428.2,108.2 428.7,107.1 430.5,105.9 431.5,104.8 432.8,103.6 434.3,102.4 435.7,101.3 436.8,100.4 438.4,99.7 439.9,99.0 440.5,98.3 441.9,97.6 443.5,96.9 444.6,96.2 445.9,95.5 447.3,94.9 448.8,94.3 450.2,93.6 451.6,93.0 452.8,92.4 453.7,91.8 455.4,91.2 456.6,90.6 457.4,90.1 459.4,89.5 460.1,88.9 461.7,88.5 463.1,88.1 464.5,87.6 465.6,87.2 467.2,86.8 467.7,86.4 469.0,86.0 470.5,85.6 472.1,85.1 473.2,84.7 474.3,84.3 475.7,83.9 477.3,83.5 478.4,83.0 480.0,82.6 481.1,82.2 482.7,81.7 483.9,81.3 483.9,88.2 482.7,88.6 481.1,89.0 480.0,89.3 478.4,89.7 477.3,90.1 475.7,90.4 474.3,90.7 473.2,91.1 472.1,91.5 470.5,91.8 469.0,92.2 467.7,92.5 467.2,92.9 465.6,93.2 464.5,93.6 463.1,93.9 461.7,94.3 460.1,94.6 459.4,95.1 457.4,95.6 456.6,96.2 455.4,96.7 453.7,97.2 452.8,97.7 451.6,98.3 450.2,98.8 448.8,99.4 447.3,99.9 445.9,100.5 444.6,101.1 443.5,101.8 441.9,102.4 440.5,103.0 439.9,103.7 438.4,104.3 436.8,104.9 435.7,105.7 434.3,106.8 432.8,107.9 431.5,109.0 430.5,110.1 428.7,111.2 428.2,112.3 426.2,113.4 425.5,114.5 424.1,115.6 422.5,116.6 421.4,117.7 420.3,118.8 418.5,119.6 417.2,120.3 416.1,121.1 414.7,121.8 413.7,122.6 412.0,123.3 411.1,124.1 409.5,124.7 408.3,125.3 407.3,126.0 405.4,126.5 404.6,127.1 403.1,127.7 401.7,128.3 400.4,128.9 398.9,130.2 398.1,132.4 396.9,134.7 395.2,136.9 394.3,139.2 392.4,141.4 391.0,143.6 389.7,145.9 389.1,147.2 387.4,148.5 386.6,149.8 384.5,151.1 383.7,152.4 382.3,153.7 380.9,155.0 379.5,156.2 378.4,157.5 377.0,158.6 375.6,159.6 374.3,160.6 372.9,161.7 371.9,162.7 370.3,163.7 369.0,164.5 368.1,165.4 366.8,166.2 365.3,167.1 364.5,167.7 362.7,168.2 361.9,168.7 359.9,169.2 358.6,169.8 357.7,170.1 356.3,170.3 355.3,170.6 353.6,170.8 352.2,171.0 351.0,171.3 349.6,171.5 348.2,171.5 347.0,171.6 346.3,171.6 344.6,171.6" fill="#d9d9d9"/>
<path d="M344.6 171.1V171.7M346.3 171.1V171.6M347.0 171.0V171.6M348.2 171.0V171.6M349.6 170.9V171.7M351.0 170.5V171.3M352.2 170.3V171.1M353.6 170.0V170.9M355.3 169.7V170.6M356.3 169.2V170.5M357.7 169.0V170.3M358.6 168.6V169.8M359.9 168.1V169.4M361.9 167.5V169.1M362.7 167.0V168.2M364.5 166.4V168.0M365.3 165.4V167.3M366.8 164.8V166.5M368.1 163.6V165.4M369.0 162.9V164.9M370.3 162.1V163.7M371.9 160.9V162.8M372.9 160.0V162.0M374.3 158.5V160.6M375.6 158.1V159.9M377.0 156.3V158.5M378.4 155.4V157.4M379.5 154.2V156.2M380.9 152.7V155.2M382.3 151.4V153.8M383.7 150.6V152.4M384.5 149.1V151.1M386.6 147.8V150.2M387.4 146.2V149.2M389.1 144.8V147.7M389.7 143.2V146.6M391.0 141.0V143.5M392.4 138.8V141.3M394.3 136.3V139.1M395.2 134.1V136.9M396.9 131.3V134.6M398.1 129.2V133.1M398.9 127.4V130.7M400.4 126.0V129.1M401.7 125.5V128.2M403.1 124.2V127.6M404.6 124.2V127.1M405.4 122.7V127.1M407.3 122.5V126.6M408.3 121.3V126.1M409.5 121.1V125.0M411.1 120.3V125.4M412.0 119.4V123.8M413.7 118.0V122.4M414.7 118.6V122.9M416.1 116.2V120.9M417.2 117.0V120.1M418.5 115.2V119.6M420.3 114.4V119.8M421.4 114.3V119.1M422.5 112.7V117.4M424.1 111.3V115.9M425.5 110.0V114.2M426.2 108.8V113.6M428.2 107.8V112.3M428.7 106.7V112.3M430.5 104.2V110.2M431.5 103.2V110.0M432.8 103.7V107.6M434.3 100.8V107.0M435.7 101.4V106.9M436.8 99.1V106.6M438.4 98.9V104.7M439.9 98.6V103.8M440.5 97.1V104.9M441.9 97.7V103.0M443.5 96.4V101.6M444.6 95.1V103.2M445.9 95.2V101.9M447.3 93.0V100.3M448.8 92.3V100.9M450.2 92.3V99.0M451.6 92.7V98.2M452.8 90.4V99.5M453.7 91.9V98.2M455.4 91.0V98.4M456.6 89.4V98.4M457.4 88.4V95.5M459.4 88.8V96.4M460.1 86.7V95.3M461.7 88.4V94.7M463.1 87.8V94.0M464.5 87.1V93.9M465.6 86.1V95.5M467.2 84.3V92.9M467.7 85.1V94.1M469.0 86.0V93.4M470.5 85.4V92.5M472.1 84.6V93.6M473.2 84.4V92.4M474.3 82.9V91.3M475.7 81.3V91.0M477.3 82.8V91.9M478.4 81.9V91.6M480.0 82.6V89.4M481.1 80.1V89.8M482.7 79.3V88.9M483.9 80.9V90.7" stroke="#cccccc" stroke-width="1.0" fill="none"/>
<polyline points="344.6,170.4 345.4,169.7 346.2,172.5 347.0,171.0 347.8,171.1 348.6,170.5 349.4,171.7 350.2,169.5 351.0,170.9 351.8,172.5 352.6,170.6 353.4,170.9 354.2,171.3 355.0,170.3 355.8,170.9 356.6,171.5 357.4,171.0 358.2,171.1 359.0,170.6 359.8,171.0 360.6,170.8 361.4,171.7 362.2,171.2 363.0,170.5 363.8,168.9 364.6,171.1 365.4,171.1 366.2,169.8 367.0,168.9 367.8,169.3 368.6,170.6 369.4,169.1 370.2,169.3 371.0,169.6 371.8,169.8 372.6,168.5 373.4,167.9 374.2,167.1 375.0,168.2 375.8,167.3 376.6,166.0 377.4,164.6 378.2,164.5 379.0,165.0 379.8,163.6 380.6,164.2 381.4,163.2 382.2,162.6 383.0,162.2 383.8,161.4 384.6,159.9 385.4,159.6 386.2,160.9 387.0,157.9 387.8,157.8 388.6,158.4 389.4,156.9 390.2,155.9 391.0,153.8 391.8,153.4 392.6,151.9 393.4,150.5 394.2,148.4 395.0,148.7 395.8,146.9 396.6,147.3 397.4,146.3 398.2,146.6 399.0,146.6 399.8,146.4 400.6,144.6 401.4,145.7 402.2,143.9 403.0,143.0 403.8,142.9 404.6,141.4 405.4,141.9 406.2,141.5 407.0,140.5 407.8,140.4 408.6,139.2 409.4,138.8 410.2,136.8 411.0,137.0 411.8,135.4 412.6,134.8 413.4,134.1 414.2,133.5 415.0,131.5 415.8,130.9 416.6,131.1 417.4,131.0 418.2,130.3 419.0,130.0 419.8,129.6 420.6,128.4 421.4,127.3 422.2,126.0 423.0,125.4 423.8,125.0 424.6,124.9 425.4,124.2 426.2,123.4 427.0,122.6 427.8,122.5 428.6,121.6 429.4,121.2 430.2,120.8 431.0,119.8 431.8,119.1 432.6,119.7 433.4,119.2 434.2,118.4 435.0,117.8 435.8,119.3 436.6,116.7 437.4,116.5 438.2,116.3 439.0,114.8 439.8,115.1 440.6,115.8 441.4,114.6 442.2,113.9 443.0,113.3 443.8,112.4 444.6,112.5 445.4,111.2 446.2,110.6 447.0,110.7 447.8,111.0 448.6,110.3 449.4,110.3 450.2,108.2 451.0,110.1 451.8,110.7 452.6,109.7 453.4,108.3 454.2,107.5 455.0,107.8 455.8,106.5 456.6,107.2 457.4,105.9 458.2,106.4 459.0,106.2 459.8,103.4 460.6,104.6 461.4,103.4 462.2,102.3 463.0,102.3 463.8,102.0 464.6,102.3 465.4,100.0 466.2,101.2 467.0,101.3 467.8,99.8 468.6,99.3 469.4,98.4 470.2,97.1 471.0,98.1 471.8,98.7 472.6,99.7 473.4,101.7 474.2,101.1 475.0,101.0 475.8,101.3 476.6,98.8 477.4,98.4 478.2,98.4 479.0,97.8 479.8,98.3 480.6,97.2 481.4,98.2 482.2,97.6 483.0,96.5 483.8,95.0" fill="none" stroke="#a81ed2" stroke-width="3.2" stroke-linejoin="round" stroke-linecap="round"/>
<path d="M343.2,171.0a1.4,1.4 0 1,0 2.9,0a1.4,1.4 0 1,0 -2.9,0M344.8,173.3a1.4,1.4 0 1,0 2.9,0a1.4,1.4 0 1,0 -2.9,0M346.4,170.1a1.4,1.4 0 1,0 2.9,0a1.4,1.4 0 1,0 -2.9,0M348.0,172.0a1.4,1.4 0 1,0 2.9,0a1.4,1.4 0 1,0 -2.9,0M349.6,171.6a1.4,1.4 0 1,0 2.9,0a1.4,1.4 0 1,0 -2.9,0M351.2,170.8a1.4,1.4 0 1,0 2.9,0a1.4,1.4 0 1,0 -2.9,0M352.8,172.9a1.4,1.4 0 1,0 2.9,0a1.4,1.4 0 1,0 -2.9,0M354.4,172.1a1.4,1.4 0 1,0 2.9,0a1.4,1.4 0 1,0 -2.9,0M356.0,170.1a1.4,1.4 0 1,0 2.9,0a1.4,1.4 0 1,0 -2.9,0M357.6,170.7a1.4,1.4 0 1,0 2.9,0a1.4,1.4 0 1,0 -2.9,0M359.2,170.0a1.4,1.4 0 1,0 2.9,0a1.4,1.4 0 1,0 -2.9,0M360.8,171.8a1.4,1.4 0 1,0 2.9,0a1.4,1.4 0 1,0 -2.9,0M362.4,168.0a1.4,1.4 0 1,0 2.9,0a1.4,1.4 0 1,0 -2.9,0M364.0,172.0a1.4,1.4 0 1,0 2.9,0a1.4,1.4 0 1,0 -2.9,0M365.6,169.3a1.4,1.4 0 1,0 2.9,0a1.4,1.4 0 1,0 -2.9,0M367.2,171.6a1.4,1.4 0 1,0 2.9,0a1.4,1.4 0 1,0 -2.9,0M368.8,169.2a1.4,1.4 0 1,0 2.9,0a1.4,1.4 0 1,0 -2.9,0M370.4,168.4a1.4,1.4 0 1,0 2.9,0a1.4,1.4 0 1,0 -2.9,0M372.0,169.7a1.4,1.4 0 1,0 2.9,0a1.4,1.4 0 1,0 -2.9,0M373.6,168.0a1.4,1.4 0 1,0 2.9,0a1.4,1.4 0 1,0 -2.9,0M375.2,167.4a1.4,1.4 0 1,0 2.9,0a1.4,1.4 0 1,0 -2.9,0M376.8,165.0a1.4,1.4 0 1,0 2.9,0a1.4,1.4 0 1,0 -2.9,0M378.4,164.3a1.4,1.4 0 1,0 2.9,0a1.4,1.4 0 1,0 -2.9,0M380.0,165.1a1.4,1.4 0 1,0 2.9,0a1.4,1.4 0 1,0 -2.9,0M381.6,162.5a1.4,1.4 0 1,0 2.9,0a1.4,1.4 0 1,0 -2.9,0M383.2,161.3a1.4,1.4 0 1,0 2.9,0a1.4,1.4 0 1,0 -2.9,0M384.8,159.4a1.4,1.4 0 1,0 2.9,0a1.4,1.4 0 1,0 -2.9,0M386.4,158.7a1.4,1.4 0 1,0 2.9,0a1.4,1.4 0 1,0 -2.9,0M388.0,156.7a1.4,1.4 0 1,0 2.9,0a1.4,1.4 0 1,0 -2.9,0M389.6,153.7a1.4,1.4 0 1,0 2.9,0a1.4,1.4 0 1,0 -2.9,0M391.2,152.0a1.4,1.4 0 1,0 2.9,0a1.4,1.4 0 1,0 -2.9,0M392.8,148.8a1.4,1.4 0 1,0 2.9,0a1.4,1.4 0 1,0 -2.9,0M394.4,148.5a1.4,1.4 0 1,0 2.9,0a1.4,1.4 0 1,0 -2.9,0M396.0,144.5a1.4,1.4 0 1,0 2.9,0a1.4,1.4 0 1,0 -2.9,0M397.6,146.6a1.4,1.4 0 1,0 2.9,0a1.4,1.4 0 1,0 -2.9,0M399.2,143.8a1.4,1.4 0 1,0 2.9,0a1.4,1.4 0 1,0 -2.9,0M400.8,145.1a1.4,1.4 0 1,0 2.9,0a1.4,1.4 0 1,0 -2.9,0M402.4,142.5a1.4,1.4 0 1,0 2.9,0a1.4,1.4 0 1,0 -2.9,0M404.0,142.3a1.4,1.4 0 1,0 2.9,0a1.4,1.4 0 1,0 -2.9,0M405.6,140.1a1.4,1.4 0 1,0 2.9,0a1.4,1.4 0 1,0 -2.9,0M407.2,139.9a1.4,1.4 0 1,0 2.9,0a1.4,1.4 0 1,0 -2.9,0M408.8,137.9a1.4,1.4 0 1,0 2.9,0a1.4,1.4 0 1,0 -2.9,0M410.4,135.0a1.4,1.4 0 1,0 2.9,0a1.4,1.4 0 1,0 -2.9,0M412.0,134.2a1.4,1.4 0 1,0 2.9,0a1.4,1.4 0 1,0 -2.9,0M413.6,130.1a1.4,1.4 0 1,0 2.9,0a1.4,1.4 0 1,0 -2.9,0M415.2,131.4a1.4,1.4 0 1,0 2.9,0a1.4,1.4 0 1,0 -2.9,0M416.8,131.1a1.4,1.4 0 1,0 2.9,0a1.4,1.4 0 1,0 -2.9,0M418.4,129.0a1.4,1.4 0 1,0 2.9,0a1.4,1.4 0 1,0 -2.9,0M420.0,128.5a1.4,1.4 0 1,0 2.9,0a1.4,1.4 0 1,0 -2.9,0M421.6,123.3a1.4,1.4 0 1,0 2.9,0a1.4,1.4 0 1,0 -2.9,0M423.2,123.0a1.4,1.4 0 1,0 2.9,0a1.4,1.4 0 1,0 -2.9,0M424.8,122.0a1.4,1.4 0 1,0 2.9,0a1.4,1.4 0 1,0 -2.9,0M426.4,122.0a1.4,1.4 0 1,0 2.9,0a1.4,1.4 0 1,0 -2.9,0M428.0,121.3a1.4,1.4 0 1,0 2.9,0a1.4,1.4 0 1,0 -2.9,0M429.6,119.7a1.4,1.4 0 1,0 2.9,0a1.4,1.4 0 1,0 -2.9,0M431.2,119.6a1.4,1.4 0 1,0 2.9,0a1.4,1.4 0 1,0 -2.9,0M432.8,119.1a1.4,1.4 0 1,0 2.9,0a1.4,1.4 0 1,0 -2.9,0M434.4,118.8a1.4,1.4 0 1,0 2.9,0a1.4,1.4 0 1,0 -2.9,0M436.0,115.3a1.4,1.4 0 1,0 2.9,0a1.4,1.4 0 1,0 -2.9,0M437.6,113.6a1.4,1.4 0 1,0 2.9,0a1.4,1.4 0 1,0 -2.9,0M439.2,117.9a1.4,1.4 0 1,0 2.9,0a1.4,1.4 0 1,0 -2.9,0M440.8,111.5a1.4,1.4 0 1,0 2.9,0a1.4,1.4 0 1,0 -2.9,0M442.4,112.3a1.4,1.4 0 1,0 2.9,0a1.4,1.4 0 1,0 -2.9,0M444.0,112.6a1.4,1.4 0 1,0 2.9,0a1.4,1.4 0 1,0 -2.9,0M445.6,111.2a1.4,1.4 0 1,0 2.9,0a1.4,1.4 0 1,0 -2.9,0M447.2,109.5a1.4,1.4 0 1,0 2.9,0a1.4,1.4 0 1,0 -2.9,0M448.8,108.2a1.4,1.4 0 1,0 2.9,0a1.4,1.4 0 1,0 -2.9,0M450.4,111.6a1.4,1.4 0 1,0 2.9,0a1.4,1.4 0 1,0 -2.9,0M452.0,109.5a1.4,1.4 0 1,0 2.9,0a1.4,1.4 0 1,0 -2.9,0M453.6,106.9a1.4,1.4 0 1,0 2.9,0a1.4,1.4 0 1,0 -2.9,0M455.2,108.0a1.4,1.4 0 1,0 2.9,0a1.4,1.4 0 1,0 -2.9,0M456.8,106.7a1.4,1.4 0 1,0 2.9,0a1.4,1.4 0 1,0 -2.9,0M458.4,104.5a1.4,1.4 0 1,0 2.9,0a1.4,1.4 0 1,0 -2.9,0M460.0,104.8a1.4,1.4 0 1,0 2.9,0a1.4,1.4 0 1,0 -2.9,0M461.6,102.0a1.4,1.4 0 1,0 2.9,0a1.4,1.4 0 1,0 -2.9,0M463.2,100.9a1.4,1.4 0 1,0 2.9,0a1.4,1.4 0 1,0 -2.9,0M464.8,101.6a1.4,1.4 0 1,0 2.9,0a1.4,1.4 0 1,0 -2.9,0M466.4,101.6a1.4,1.4 0 1,0 2.9,0a1.4,1.4 0 1,0 -2.9,0M468.0,99.1a1.4,1.4 0 1,0 2.9,0a1.4,1.4 0 1,0 -2.9,0M469.6,98.3a1.4,1.4 0 1,0 2.9,0a1.4,1.4 0 1,0 -2.9,0M471.2,102.1a1.4,1.4 0 1,0 2.9,0a1.4,1.4 0 1,0 -2.9,0M472.8,100.1a1.4,1.4 0 1,0 2.9,0a1.4,1.4 0 1,0 -2.9,0M474.4,102.2a1.4,1.4 0 1,0 2.9,0a1.4,1.4 0 1,0 -2.9,0M476.0,97.8a1.4,1.4 0 1,0 2.9,0a1.4,1.4 0 1,0 -2.9,0M477.6,97.8a1.4,1.4 0 1,0 2.9,0a1.4,1.4 0 1,0 -2.9,0M479.2,97.3a1.4,1.4 0 1,0 2.9,0a1.4,1.4 0 1,0 -2.9,0M480.8,99.1a1.4,1.4 0 1,0 2.9,0a1.4,1.4 0 1,0 -2.9,0M482.4,94.1a1.4,1.4 0 1,0 2.9,0a1.4,1.4 0 1,0 -2.9,0" fill="#a81ed2"/>
<polyline points="344.6,171.1 345.4,170.6 346.2,171.6 347.0,171.1 347.8,171.5 348.6,170.7 349.4,171.0 350.2,171.6 351.0,170.9 351.8,171.1 352.6,170.9 353.4,170.3 354.2,169.6 355.0,170.7 355.8,170.1 356.6,170.3 357.4,168.7 358.2,168.7 359.0,168.2 359.8,168.5 360.6,169.1 361.4,168.5 362.2,167.9 363.0,167.6 363.8,167.6 364.6,166.7 365.4,166.7 366.2,166.0 367.0,164.3 367.8,164.7 368.6,165.0 369.4,163.6 370.2,163.2 371.0,162.4 371.8,161.8 372.6,162.0 373.4,160.6 374.2,159.6 375.0,157.9 375.8,158.5 376.6,157.2 377.4,156.6 378.2,157.2 379.0,156.5 379.8,154.3 380.6,154.9 381.4,153.9 382.2,152.5 383.0,152.4 383.8,150.4 384.6,149.8 385.4,148.9 386.2,148.3 387.0,148.5 387.8,146.6 388.6,145.8 389.4,145.1 390.2,144.7 391.0,143.1 391.8,142.3 392.6,140.1 393.4,138.4 394.2,137.4 395.0,136.3 395.8,134.4 396.6,133.6 397.4,132.9 398.2,130.3 399.0,129.2 399.8,128.6 400.6,127.2 401.4,126.7 402.2,126.2 403.0,126.6 403.8,126.3 404.6,125.5 405.4,125.2 406.2,125.5 407.0,124.9 407.8,123.4 408.6,123.7 409.4,123.3 410.2,123.2 411.0,122.3 411.8,121.6 412.6,121.2 413.4,120.1 414.2,120.5 415.0,119.7 415.8,119.7 416.6,118.5 417.4,118.3 418.2,117.6 419.0,117.1 419.8,117.5 420.6,116.2 421.4,116.0 422.2,114.5 423.0,114.4 423.8,112.9 424.6,112.8 425.4,112.1 426.2,111.9 427.0,111.0 427.8,110.2 428.6,110.0 429.4,109.0 430.2,108.4 431.0,107.9 431.8,106.7 432.6,105.9 433.4,105.6 434.2,104.5 435.0,104.2 435.8,103.9 436.6,103.2 437.4,102.2 438.2,101.3 439.0,101.5 439.8,101.1 440.6,101.3 441.4,100.1 442.2,99.8 443.0,99.9 443.8,98.9 444.6,98.6 445.4,99.1 446.2,98.6 447.0,97.8 447.8,97.3 448.6,96.3 449.4,96.7 450.2,96.1 451.0,95.8 451.8,95.1 452.6,95.0 453.4,94.5 454.2,94.4 455.0,94.7 455.8,93.8 456.6,92.4 457.4,92.5 458.2,91.8 459.0,91.9 459.8,92.2 460.6,91.9 461.4,91.1 462.2,91.3 463.0,90.6 463.8,90.0 464.6,89.8 465.4,89.8 466.2,90.7 467.0,89.1 467.8,90.1 468.6,89.9 469.4,89.0 470.2,88.8 471.0,88.3 471.8,88.3 472.6,88.4 473.4,87.9 474.2,88.1 475.0,88.0 475.8,87.3 476.6,87.1 477.4,86.6 478.2,86.6 479.0,85.6 479.8,86.1 480.6,85.8 481.4,85.0 482.2,86.3 483.0,84.5 483.8,84.3" fill="none" stroke="#78c846" stroke-width="3.2" stroke-linejoin="round" stroke-linecap="round"/>
<path d="M343.2,171.3a1.4,1.4 0 1,0 2.9,0a1.4,1.4 0 1,0 -2.9,0M344.8,170.0a1.4,1.4 0 1,0 2.9,0a1.4,1.4 0 1,0 -2.9,0M346.4,170.8a1.4,1.4 0 1,0 2.9,0a1.4,1.4 0 1,0 -2.9,0M348.0,169.8a1.4,1.4 0 1,0 2.9,0a1.4,1.4 0 1,0 -2.9,0M349.6,170.1a1.4,1.4 0 1,0 2.9,0a1.4,1.4 0 1,0 -2.9,0M351.2,170.8a1.4,1.4 0 1,0 2.9,0a1.4,1.4 0 1,0 -2.9,0M352.8,169.8a1.4,1.4 0 1,0 2.9,0a1.4,1.4 0 1,0 -2.9,0M354.4,170.9a1.4,1.4 0 1,0 2.9,0a1.4,1.4 0 1,0 -2.9,0M356.0,169.3a1.4,1.4 0 1,0 2.9,0a1.4,1.4 0 1,0 -2.9,0M357.6,169.1a1.4,1.4 0 1,0 2.9,0a1.4,1.4 0 1,0 -2.9,0M359.2,169.5a1.4,1.4 0 1,0 2.9,0a1.4,1.4 0 1,0 -2.9,0M360.8,167.4a1.4,1.4 0 1,0 2.9,0a1.4,1.4 0 1,0 -2.9,0M362.4,168.4a1.4,1.4 0 1,0 2.9,0a1.4,1.4 0 1,0 -2.9,0M364.0,166.2a1.4,1.4 0 1,0 2.9,0a1.4,1.4 0 1,0 -2.9,0M365.6,163.8a1.4,1.4 0 1,0 2.9,0a1.4,1.4 0 1,0 -2.9,0M367.2,166.2a1.4,1.4 0 1,0 2.9,0a1.4,1.4 0 1,0 -2.9,0M368.8,163.8a1.4,1.4 0 1,0 2.9,0a1.4,1.4 0 1,0 -2.9,0M370.4,162.0a1.4,1.4 0 1,0 2.9,0a1.4,1.4 0 1,0 -2.9,0M372.0,161.2a1.4,1.4 0 1,0 2.9,0a1.4,1.4 0 1,0 -2.9,0M373.6,158.6a1.4,1.4 0 1,0 2.9,0a1.4,1.4 0 1,0 -2.9,0M375.2,156.0a1.4,1.4 0 1,0 2.9,0a1.4,1.4 0 1,0 -2.9,0M376.8,157.1a1.4,1.4 0 1,0 2.9,0a1.4,1.4 0 1,0 -2.9,0M378.4,153.3a1.4,1.4 0 1,0 2.9,0a1.4,1.4 0 1,0 -2.9,0M380.0,154.0a1.4,1.4 0 1,0 2.9,0a1.4,1.4 0 1,0 -2.9,0M381.6,151.8a1.4,1.4 0 1,0 2.9,0a1.4,1.4 0 1,0 -2.9,0M383.2,150.9a1.4,1.4 0 1,0 2.9,0a1.4,1.4 0 1,0 -2.9,0M384.8,148.6a1.4,1.4 0 1,0 2.9,0a1.4,1.4 0 1,0 -2.9,0M386.4,145.9a1.4,1.4 0 1,0 2.9,0a1.4,1.4 0 1,0 -2.9,0M388.0,145.1a1.4,1.4 0 1,0 2.9,0a1.4,1.4 0 1,0 -2.9,0M389.6,142.1a1.4,1.4 0 1,0 2.9,0a1.4,1.4 0 1,0 -2.9,0M391.2,140.1a1.4,1.4 0 1,0 2.9,0a1.4,1.4 0 1,0 -2.9,0M392.8,137.8a1.4,1.4 0 1,0 2.9,0a1.4,1.4 0 1,0 -2.9,0M394.4,134.5a1.4,1.4 0 1,0 2.9,0a1.4,1.4 0 1,0 -2.9,0M396.0,131.3a1.4,1.4 0 1,0 2.9,0a1.4,1.4 0 1,0 -2.9,0M397.6,128.9a1.4,1.4 0 1,0 2.9,0a1.4,1.4 0 1,0 -2.9,0M399.2,127.6a1.4,1.4 0 1,0 2.9,0a1.4,1.4 0 1,0 -2.9,0M400.8,126.4a1.4,1.4 0 1,0 2.9,0a1.4,1.4 0 1,0 -2.9,0M402.4,127.1a1.4,1.4 0 1,0 2.9,0a1.4,1.4 0 1,0 -2.9,0M404.0,124.2a1.4,1.4 0 1,0 2.9,0a1.4,1.4 0 1,0 -2.9,0M405.6,125.3a1.4,1.4 0 1,0 2.9,0a1.4,1.4 0 1,0 -2.9,0M407.2,123.1a1.4,1.4 0 1,0 2.9,0a1.4,1.4 0 1,0 -2.9,0M408.8,123.3a1.4,1.4 0 1,0 2.9,0a1.4,1.4 0 1,0 -2.9,0M410.4,121.9a1.4,1.4 0 1,0 2.9,0a1.4,1.4 0 1,0 -2.9,0M412.0,120.6a1.4,1.4 0 1,0 2.9,0a1.4,1.4 0 1,0 -2.9,0M413.6,119.2a1.4,1.4 0 1,0 2.9,0a1.4,1.4 0 1,0 -2.9,0M415.2,118.6a1.4,1.4 0 1,0 2.9,0a1.4,1.4 0 1,0 -2.9,0M416.8,116.6a1.4,1.4 0 1,0 2.9,0a1.4,1.4 0 1,0 -2.9,0M418.4,116.3a1.4,1.4 0 1,0 2.9,0a1.4,1.4 0 1,0 -2.9,0M420.0,116.4a1.4,1.4 0 1,0 2.9,0a1.4,1.4 0 1,0 -2.9,0M421.6,114.3a1.4,1.4 0 1,0 2.9,0a1.4,1.4 0 1,0 -2.9,0M423.2,111.4a1.4,1.4 0 1,0 2.9,0a1.4,1.4 0 1,0 -2.9,0M424.8,111.2a1.4,1.4 0 1,0 2.9,0a1.4,1.4 0 1,0 -2.9,0M426.4,110.1a1.4,1.4 0 1,0 2.9,0a1.4,1.4 0 1,0 -2.9,0M428.0,110.1a1.4,1.4 0 1,0 2.9,0a1.4,1.4 0 1,0 -2.9,0M429.6,108.6a1.4,1.4 0 1,0 2.9,0a1.4,1.4 0 1,0 -2.9,0M431.2,106.5a1.4,1.4 0 1,0 2.9,0a1.4,1.4 0 1,0 -2.9,0M432.8,103.0a1.4,1.4 0 1,0 2.9,0a1.4,1.4 0 1,0 -2.9,0M434.4,103.8a1.4,1.4 0 1,0 2.9,0a1.4,1.4 0 1,0 -2.9,0M436.0,102.5a1.4,1.4 0 1,0 2.9,0a1.4,1.4 0 1,0 -2.9,0M437.6,101.8a1.4,1.4 0 1,0 2.9,0a1.4,1.4 0 1,0 -2.9,0M439.2,101.6a1.4,1.4 0 1,0 2.9,0a1.4,1.4 0 1,0 -2.9,0M440.8,99.6a1.4,1.4 0 1,0 2.9,0a1.4,1.4 0 1,0 -2.9,0M442.4,100.2a1.4,1.4 0 1,0 2.9,0a1.4,1.4 0 1,0 -2.9,0M444.0,100.3a1.4,1.4 0 1,0 2.9,0a1.4,1.4 0 1,0 -2.9,0M445.6,97.7a1.4,1.4 0 1,0 2.9,0a1.4,1.4 0 1,0 -2.9,0M447.2,95.5a1.4,1.4 0 1,0 2.9,0a1.4,1.4 0 1,0 -2.9,0M448.8,97.7a1.4,1.4 0 1,0 2.9,0a1.4,1.4 0 1,0 -2.9,0M450.4,94.6a1.4,1.4 0 1,0 2.9,0a1.4,1.4 0 1,0 -2.9,0M452.0,95.5a1.4,1.4 0 1,0 2.9,0a1.4,1.4 0 1,0 -2.9,0M453.6,96.1a1.4,1.4 0 1,0 2.9,0a1.4,1.4 0 1,0 -2.9,0M455.2,91.6a1.4,1.4 0 1,0 2.9,0a1.4,1.4 0 1,0 -2.9,0M456.8,92.0a1.4,1.4 0 1,0 2.9,0a1.4,1.4 0 1,0 -2.9,0M458.4,91.9a1.4,1.4 0 1,0 2.9,0a1.4,1.4 0 1,0 -2.9,0M460.0,91.5a1.4,1.4 0 1,0 2.9,0a1.4,1.4 0 1,0 -2.9,0M461.6,90.8a1.4,1.4 0 1,0 2.9,0a1.4,1.4 0 1,0 -2.9,0M463.2,91.3a1.4,1.4 0 1,0 2.9,0a1.4,1.4 0 1,0 -2.9,0M464.8,91.1a1.4,1.4 0 1,0 2.9,0a1.4,1.4 0 1,0 -2.9,0M466.4,90.1a1.4,1.4 0 1,0 2.9,0a1.4,1.4 0 1,0 -2.9,0M468.0,89.8a1.4,1.4 0 1,0 2.9,0a1.4,1.4 0 1,0 -2.9,0M469.6,88.0a1.4,1.4 0 1,0 2.9,0a1.4,1.4 0 1,0 -2.9,0M471.2,88.1a1.4,1.4 0 1,0 2.9,0a1.4,1.4 0 1,0 -2.9,0M472.8,89.9a1.4,1.4 0 1,0 2.9,0a1.4,1.4 0 1,0 -2.9,0M474.4,86.6a1.4,1.4 0 1,0 2.9,0a1.4,1.4 0 1,0 -2.9,0M476.0,86.2a1.4,1.4 0 1,0 2.9,0a1.4,1.4 0 1,0 -2.9,0M477.6,85.6a1.4,1.4 0 1,0 2.9,0a1.4,1.4 0 1,0 -2.9,0M479.2,84.9a1.4,1.4 0 1,0 2.9,0a1.4,1.4 0 1,0 -2.9,0M480.8,84.5a1.4,1.4 0 1,0 2.9,0a1.4,1.4 0 1,0 -2.9,0M482.4,85.1a1.4,1.4 0 1,0 2.9,0a1.4,1.4 0 1,0 -2.9,0" fill="#78c846"/>
<polyline points="344.6,166.5 345.4,166.7 346.2,166.8 347.0,166.0 347.8,165.8 348.6,167.3 349.4,169.9 350.2,167.8 351.0,167.6 351.8,164.7 352.6,166.3 353.4,164.7 354.2,166.8 355.0,165.4 355.8,165.5 356.6,165.1 357.4,164.2 358.2,162.8 359.0,165.0 359.8,162.3 360.6,162.3 361.4,163.0 362.2,162.3 363.0,163.1 363.8,163.7 364.6,162.4 365.4,162.0 366.2,161.4 367.0,162.0 367.8,158.4 368.6,160.6 369.4,158.7 370.2,157.9 371.0,159.0 371.8,158.1 372.6,158.8 373.4,159.0 374.2,154.5 375.0,156.7 375.8,158.7 376.6,157.1 377.4,157.4 378.2,155.5 379.0,153.3 379.8,153.3 380.6,155.2 381.4,155.1 382.2,152.8 383.0,153.0 383.8,153.2 384.6,150.4 385.4,151.6 386.2,153.1 387.0,153.0 387.8,149.4 388.6,150.8 389.4,147.2 390.2,146.0 391.0,143.4 391.8,146.4 392.6,144.0 393.4,146.4 394.2,143.1 395.0,142.2 395.8,139.0 396.6,142.1 397.4,139.1 398.2,138.5 399.0,135.3 399.8,138.2 400.6,137.5 401.4,134.8 402.2,135.1 403.0,134.9 403.8,135.1 404.6,133.5 405.4,135.0 406.2,132.1 407.0,131.1 407.8,130.8 408.6,127.8 409.4,129.3 410.2,131.0 411.0,129.5 411.8,127.7 412.6,128.6 413.4,125.2 414.2,126.7 415.0,127.1 415.8,126.8 416.6,124.5 417.4,126.0 418.2,126.6 419.0,123.3 419.8,124.4 420.6,121.3 421.4,120.5 422.2,123.3 423.0,122.3 423.8,122.1 424.6,120.8 425.4,120.9 426.2,121.9 427.0,122.6 427.8,120.0 428.6,117.9 429.4,121.0 430.2,119.8 431.0,119.5 431.8,118.4 432.6,120.6 433.4,117.5 434.2,117.6 435.0,114.3 435.8,115.5 436.6,114.8 437.4,115.1 438.2,115.0 439.0,113.1 439.8,115.6 440.6,111.7 441.4,111.9 442.2,112.2 443.0,109.8 443.8,111.5 444.6,111.0 445.4,109.4 446.2,111.6 447.0,109.2 447.8,109.2 448.6,107.5 449.4,106.4 450.2,107.4 451.0,107.6 451.8,107.2 452.6,108.4 453.4,104.4 454.2,105.4 455.0,104.1 455.8,107.4 456.6,104.6 457.4,104.2 458.2,103.0 459.0,104.9 459.8,102.8 460.6,103.1 461.4,99.9 462.2,103.2 463.0,101.7 463.8,101.3 464.6,101.6 465.4,99.3 466.2,98.8 467.0,99.3 467.8,98.3 468.6,96.9 469.4,96.6 470.2,95.3 471.0,96.6 471.8,97.9 472.6,97.8 473.4,101.1 474.2,98.1 475.0,99.9 475.8,101.6 476.6,98.5 477.4,96.5 478.2,99.5 479.0,98.1 479.8,95.8 480.6,97.9 481.4,95.5 482.2,94.9 483.0,96.8 483.8,97.0" fill="none" stroke="#d8201c" stroke-width="3.0" stroke-linejoin="round" stroke-linecap="round"/>
<path d="M343.2,164.9a1.4,1.4 0 1,0 2.7,0a1.4,1.4 0 1,0 -2.7,0M344.1,166.1a1.4,1.4 0 1,0 2.7,0a1.4,1.4 0 1,0 -2.7,0M344.9,165.4a1.4,1.4 0 1,0 2.7,0a1.4,1.4 0 1,0 -2.7,0M345.7,166.0a1.4,1.4 0 1,0 2.7,0a1.4,1.4 0 1,0 -2.7,0M346.5,165.7a1.4,1.4 0 1,0 2.7,0a1.4,1.4 0 1,0 -2.7,0M347.3,168.2a1.4,1.4 0 1,0 2.7,0a1.4,1.4 0 1,0 -2.7,0M348.1,169.2a1.4,1.4 0 1,0 2.7,0a1.4,1.4 0 1,0 -2.7,0M348.9,165.8a1.4,1.4 0 1,0 2.7,0a1.4,1.4 0 1,0 -2.7,0M349.7,165.7a1.4,1.4 0 1,0 2.7,0a1.4,1.4 0 1,0 -2.7,0M350.5,164.3a1.4,1.4 0 1,0 2.7,0a1.4,1.4 0 1,0 -2.7,0M351.3,168.3a1.4,1.4 0 1,0 2.7,0a1.4,1.4 0 1,0 -2.7,0M352.1,165.8a1.4,1.4 0 1,0 2.7,0a1.4,1.4 0 1,0 -2.7,0M352.9,165.8a1.4,1.4 0 1,0 2.7,0a1.4,1.4 0 1,0 -2.7,0M353.7,166.7a1.4,1.4 0 1,0 2.7,0a1.4,1.4 0 1,0 -2.7,0M354.5,163.8a1.4,1.4 0 1,0 2.7,0a1.4,1.4 0 1,0 -2.7,0M355.3,166.5a1.4,1.4 0 1,0 2.7,0a1.4,1.4 0 1,0 -2.7,0M356.1,163.6a1.4,1.4 0 1,0 2.7,0a1.4,1.4 0 1,0 -2.7,0M356.9,163.8a1.4,1.4 0 1,0 2.7,0a1.4,1.4 0 1,0 -2.7,0M357.7,165.8a1.4,1.4 0 1,0 2.7,0a1.4,1.4 0 1,0 -2.7,0M358.5,161.9a1.4,1.4 0 1,0 2.7,0a1.4,1.4 0 1,0 -2.7,0M359.3,162.7a1.4,1.4 0 1,0 2.7,0a1.4,1.4 0 1,0 -2.7,0M360.1,161.5a1.4,1.4 0 1,0 2.7,0a1.4,1.4 0 1,0 -2.7,0M360.9,162.1a1.4,1.4 0 1,0 2.7,0a1.4,1.4 0 1,0 -2.7,0M361.7,164.6a1.4,1.4 0 1,0 2.7,0a1.4,1.4 0 1,0 -2.7,0M362.5,169.4a1.4,1.4 0 1,0 2.7,0a1.4,1.4 0 1,0 -2.7,0M363.3,163.4a1.4,1.4 0 1,0 2.7,0a1.4,1.4 0 1,0 -2.7,0M364.1,162.0a1.4,1.4 0 1,0 2.7,0a1.4,1.4 0 1,0 -2.7,0M364.9,159.9a1.4,1.4 0 1,0 2.7,0a1.4,1.4 0 1,0 -2.7,0M365.7,163.4a1.4,1.4 0 1,0 2.7,0a1.4,1.4 0 1,0 -2.7,0M366.5,156.0a1.4,1.4 0 1,0 2.7,0a1.4,1.4 0 1,0 -2.7,0M367.3,159.4a1.4,1.4 0 1,0 2.7,0a1.4,1.4 0 1,0 -2.7,0M368.1,159.1a1.4,1.4 0 1,0 2.7,0a1.4,1.4 0 1,0 -2.7,0M368.9,156.2a1.4,1.4 0 1,0 2.7,0a1.4,1.4 0 1,0 -2.7,0M369.7,161.1a1.4,1.4 0 1,0 2.7,0a1.4,1.4 0 1,0 -2.7,0M370.5,159.6a1.4,1.4 0 1,0 2.7,0a1.4,1.4 0 1,0 -2.7,0M371.3,158.0a1.4,1.4 0 1,0 2.7,0a1.4,1.4 0 1,0 -2.7,0M372.1,158.2a1.4,1.4 0 1,0 2.7,0a1.4,1.4 0 1,0 -2.7,0M372.9,152.5a1.4,1.4 0 1,0 2.7,0a1.4,1.4 0 1,0 -2.7,0M373.7,154.7a1.4,1.4 0 1,0 2.7,0a1.4,1.4 0 1,0 -2.7,0M374.5,159.3a1.4,1.4 0 1,0 2.7,0a1.4,1.4 0 1,0 -2.7,0M375.3,157.9a1.4,1.4 0 1,0 2.7,0a1.4,1.4 0 1,0 -2.7,0M376.1,157.9a1.4,1.4 0 1,0 2.7,0a1.4,1.4 0 1,0 -2.7,0M376.9,155.8a1.4,1.4 0 1,0 2.7,0a1.4,1.4 0 1,0 -2.7,0M377.7,152.4a1.4,1.4 0 1,0 2.7,0a1.4,1.4 0 1,0 -2.7,0M378.5,153.8a1.4,1.4 0 1,0 2.7,0a1.4,1.4 0 1,0 -2.7,0M379.3,153.1a1.4,1.4 0 1,0 2.7,0a1.4,1.4 0 1,0 -2.7,0M380.1,155.1a1.4,1.4 0 1,0 2.7,0a1.4,1.4 0 1,0 -2.7,0M380.9,154.8a1.4,1.4 0 1,0 2.7,0a1.4,1.4 0 1,0 -2.7,0M381.7,154.8a1.4,1.4 0 1,0 2.7,0a1.4,1.4 0 1,0 -2.7,0M382.5,152.5a1.4,1.4 0 1,0 2.7,0a1.4,1.4 0 1,0 -2.7,0M383.3,149.8a1.4,1.4 0 1,0 2.7,0a1.4,1.4 0 1,0 -2.7,0M384.1,153.5a1.4,1.4 0 1,0 2.7,0a1.4,1.4 0 1,0 -2.7,0M384.9,155.6a1.4,1.4 0 1,0 2.7,0a1.4,1.4 0 1,0 -2.7,0M385.7,150.8a1.4,1.4 0 1,0 2.7,0a1.4,1.4 0 1,0 -2.7,0M386.5,148.7a1.4,1.4 0 1,0 2.7,0a1.4,1.4 0 1,0 -2.7,0M387.3,151.1a1.4,1.4 0 1,0 2.7,0a1.4,1.4 0 1,0 -2.7,0M388.1,148.8a1.4,1.4 0 1,0 2.7,0a1.4,1.4 0 1,0 -2.7,0M388.9,144.7a1.4,1.4 0 1,0 2.7,0a1.4,1.4 0 1,0 -2.7,0M389.7,144.2a1.4,1.4 0 1,0 2.7,0a1.4,1.4 0 1,0 -2.7,0M390.5,145.9a1.4,1.4 0 1,0 2.7,0a1.4,1.4 0 1,0 -2.7,0M391.3,147.2a1.4,1.4 0 1,0 2.7,0a1.4,1.4 0 1,0 -2.7,0M392.1,146.9a1.4,1.4 0 1,0 2.7,0a1.4,1.4 0 1,0 -2.7,0M392.9,142.9a1.4,1.4 0 1,0 2.7,0a1.4,1.4 0 1,0 -2.7,0M393.7,141.6a1.4,1.4 0 1,0 2.7,0a1.4,1.4 0 1,0 -2.7,0M394.5,140.4a1.4,1.4 0 1,0 2.7,0a1.4,1.4 0 1,0 -2.7,0M395.3,143.0a1.4,1.4 0 1,0 2.7,0a1.4,1.4 0 1,0 -2.7,0M396.1,137.5a1.4,1.4 0 1,0 2.7,0a1.4,1.4 0 1,0 -2.7,0M396.9,138.8a1.4,1.4 0 1,0 2.7,0a1.4,1.4 0 1,0 -2.7,0M397.7,133.3a1.4,1.4 0 1,0 2.7,0a1.4,1.4 0 1,0 -2.7,0M398.5,137.1a1.4,1.4 0 1,0 2.7,0a1.4,1.4 0 1,0 -2.7,0M399.3,135.6a1.4,1.4 0 1,0 2.7,0a1.4,1.4 0 1,0 -2.7,0M400.1,132.9a1.4,1.4 0 1,0 2.7,0a1.4,1.4 0 1,0 -2.7,0M400.9,134.1a1.4,1.4 0 1,0 2.7,0a1.4,1.4 0 1,0 -2.7,0M401.7,133.5a1.4,1.4 0 1,0 2.7,0a1.4,1.4 0 1,0 -2.7,0M402.5,135.8a1.4,1.4 0 1,0 2.7,0a1.4,1.4 0 1,0 -2.7,0M403.3,134.6a1.4,1.4 0 1,0 2.7,0a1.4,1.4 0 1,0 -2.7,0M404.1,134.6a1.4,1.4 0 1,0 2.7,0a1.4,1.4 0 1,0 -2.7,0M404.9,130.5a1.4,1.4 0 1,0 2.7,0a1.4,1.4 0 1,0 -2.7,0M405.7,132.2a1.4,1.4 0 1,0 2.7,0a1.4,1.4 0 1,0 -2.7,0M406.5,127.9a1.4,1.4 0 1,0 2.7,0a1.4,1.4 0 1,0 -2.7,0M407.3,125.0a1.4,1.4 0 1,0 2.7,0a1.4,1.4 0 1,0 -2.7,0M408.1,130.3a1.4,1.4 0 1,0 2.7,0a1.4,1.4 0 1,0 -2.7,0M408.9,131.8a1.4,1.4 0 1,0 2.7,0a1.4,1.4 0 1,0 -2.7,0M409.7,130.8a1.4,1.4 0 1,0 2.7,0a1.4,1.4 0 1,0 -2.7,0M410.5,127.3a1.4,1.4 0 1,0 2.7,0a1.4,1.4 0 1,0 -2.7,0M411.3,126.7a1.4,1.4 0 1,0 2.7,0a1.4,1.4 0 1,0 -2.7,0M412.1,124.4a1.4,1.4 0 1,0 2.7,0a1.4,1.4 0 1,0 -2.7,0M412.9,127.4a1.4,1.4 0 1,0 2.7,0a1.4,1.4 0 1,0 -2.7,0M413.7,126.0a1.4,1.4 0 1,0 2.7,0a1.4,1.4 0 1,0 -2.7,0M414.5,125.8a1.4,1.4 0 1,0 2.7,0a1.4,1.4 0 1,0 -2.7,0M415.3,122.5a1.4,1.4 0 1,0 2.7,0a1.4,1.4 0 1,0 -2.7,0M416.1,124.3a1.4,1.4 0 1,0 2.7,0a1.4,1.4 0 1,0 -2.7,0M416.9,127.7a1.4,1.4 0 1,0 2.7,0a1.4,1.4 0 1,0 -2.7,0M417.7,123.9a1.4,1.4 0 1,0 2.7,0a1.4,1.4 0 1,0 -2.7,0M418.5,122.7a1.4,1.4 0 1,0 2.7,0a1.4,1.4 0 1,0 -2.7,0M419.3,119.7a1.4,1.4 0 1,0 2.7,0a1.4,1.4 0 1,0 -2.7,0M420.1,119.7a1.4,1.4 0 1,0 2.7,0a1.4,1.4 0 1,0 -2.7,0M420.9,124.0a1.4,1.4 0 1,0 2.7,0a1.4,1.4 0 1,0 -2.7,0M421.7,120.5a1.4,1.4 0 1,0 2.7,0a1.4,1.4 0 1,0 -2.7,0M422.5,121.8a1.4,1.4 0 1,0 2.7,0a1.4,1.4 0 1,0 -2.7,0M423.3,117.8a1.4,1.4 0 1,0 2.7,0a1.4,1.4 0 1,0 -2.7,0M424.1,119.0a1.4,1.4 0 1,0 2.7,0a1.4,1.4 0 1,0 -2.7,0M424.9,122.4a1.4,1.4 0 1,0 2.7,0a1.4,1.4 0 1,0 -2.7,0M425.7,123.8a1.4,1.4 0 1,0 2.7,0a1.4,1.4 0 1,0 -2.7,0M426.5,118.3a1.4,1.4 0 1,0 2.7,0a1.4,1.4 0 1,0 -2.7,0M427.3,116.8a1.4,1.4 0 1,0 2.7,0a1.4,1.4 0 1,0 -2.7,0M428.1,122.1a1.4,1.4 0 1,0 2.7,0a1.4,1.4 0 1,0 -2.7,0M428.9,119.2a1.4,1.4 0 1,0 2.7,0a1.4,1.4 0 1,0 -2.7,0M429.7,118.6a1.4,1.4 0 1,0 2.7,0a1.4,1.4 0 1,0 -2.7,0M430.5,119.1a1.4,1.4 0 1,0 2.7,0a1.4,1.4 0 1,0 -2.7,0M431.3,120.8a1.4,1.4 0 1,0 2.7,0a1.4,1.4 0 1,0 -2.7,0M432.1,119.0a1.4,1.4 0 1,0 2.7,0a1.4,1.4 0 1,0 -2.7,0M432.9,118.6a1.4,1.4 0 1,0 2.7,0a1.4,1.4 0 1,0 -2.7,0M433.7,113.5a1.4,1.4 0 1,0 2.7,0a1.4,1.4 0 1,0 -2.7,0M434.5,115.2a1.4,1.4 0 1,0 2.7,0a1.4,1.4 0 1,0 -2.7,0M435.3,114.7a1.4,1.4 0 1,0 2.7,0a1.4,1.4 0 1,0 -2.7,0M436.1,113.1a1.4,1.4 0 1,0 2.7,0a1.4,1.4 0 1,0 -2.7,0M436.9,113.6a1.4,1.4 0 1,0 2.7,0a1.4,1.4 0 1,0 -2.7,0M437.7,114.4a1.4,1.4 0 1,0 2.7,0a1.4,1.4 0 1,0 -2.7,0M438.5,113.3a1.4,1.4 0 1,0 2.7,0a1.4,1.4 0 1,0 -2.7,0M439.3,113.0a1.4,1.4 0 1,0 2.7,0a1.4,1.4 0 1,0 -2.7,0M440.1,112.2a1.4,1.4 0 1,0 2.7,0a1.4,1.4 0 1,0 -2.7,0M440.9,111.9a1.4,1.4 0 1,0 2.7,0a1.4,1.4 0 1,0 -2.7,0M441.7,110.5a1.4,1.4 0 1,0 2.7,0a1.4,1.4 0 1,0 -2.7,0M442.5,112.1a1.4,1.4 0 1,0 2.7,0a1.4,1.4 0 1,0 -2.7,0M443.3,112.6a1.4,1.4 0 1,0 2.7,0a1.4,1.4 0 1,0 -2.7,0M444.1,108.7a1.4,1.4 0 1,0 2.7,0a1.4,1.4 0 1,0 -2.7,0M444.9,111.2a1.4,1.4 0 1,0 2.7,0a1.4,1.4 0 1,0 -2.7,0M445.7,108.8a1.4,1.4 0 1,0 2.7,0a1.4,1.4 0 1,0 -2.7,0M446.5,111.8a1.4,1.4 0 1,0 2.7,0a1.4,1.4 0 1,0 -2.7,0M447.3,108.8a1.4,1.4 0 1,0 2.7,0a1.4,1.4 0 1,0 -2.7,0M448.1,105.0a1.4,1.4 0 1,0 2.7,0a1.4,1.4 0 1,0 -2.7,0M448.9,106.9a1.4,1.4 0 1,0 2.7,0a1.4,1.4 0 1,0 -2.7,0M449.7,106.5a1.4,1.4 0 1,0 2.7,0a1.4,1.4 0 1,0 -2.7,0M450.5,107.1a1.4,1.4 0 1,0 2.7,0a1.4,1.4 0 1,0 -2.7,0M451.3,108.7a1.4,1.4 0 1,0 2.7,0a1.4,1.4 0 1,0 -2.7,0M452.1,107.6a1.4,1.4 0 1,0 2.7,0a1.4,1.4 0 1,0 -2.7,0M452.9,102.8a1.4,1.4 0 1,0 2.7,0a1.4,1.4 0 1,0 -2.7,0M453.7,105.5a1.4,1.4 0 1,0 2.7,0a1.4,1.4 0 1,0 -2.7,0M454.5,108.0a1.4,1.4 0 1,0 2.7,0a1.4,1.4 0 1,0 -2.7,0M455.3,103.6a1.4,1.4 0 1,0 2.7,0a1.4,1.4 0 1,0 -2.7,0M456.1,103.9a1.4,1.4 0 1,0 2.7,0a1.4,1.4 0 1,0 -2.7,0M456.9,102.2a1.4,1.4 0 1,0 2.7,0a1.4,1.4 0 1,0 -2.7,0M457.7,104.9a1.4,1.4 0 1,0 2.7,0a1.4,1.4 0 1,0 -2.7,0M458.5,104.2a1.4,1.4 0 1,0 2.7,0a1.4,1.4 0 1,0 -2.7,0M459.3,100.9a1.4,1.4 0 1,0 2.7,0a1.4,1.4 0 1,0 -2.7,0M460.1,101.6a1.4,1.4 0 1,0 2.7,0a1.4,1.4 0 1,0 -2.7,0M460.9,102.6a1.4,1.4 0 1,0 2.7,0a1.4,1.4 0 1,0 -2.7,0M461.7,103.7a1.4,1.4 0 1,0 2.7,0a1.4,1.4 0 1,0 -2.7,0M462.5,101.8a1.4,1.4 0 1,0 2.7,0a1.4,1.4 0 1,0 -2.7,0M463.3,103.3a1.4,1.4 0 1,0 2.7,0a1.4,1.4 0 1,0 -2.7,0M464.1,100.1a1.4,1.4 0 1,0 2.7,0a1.4,1.4 0 1,0 -2.7,0M464.9,100.3a1.4,1.4 0 1,0 2.7,0a1.4,1.4 0 1,0 -2.7,0M465.7,99.4a1.4,1.4 0 1,0 2.7,0a1.4,1.4 0 1,0 -2.7,0M466.5,97.1a1.4,1.4 0 1,0 2.7,0a1.4,1.4 0 1,0 -2.7,0M467.3,97.8a1.4,1.4 0 1,0 2.7,0a1.4,1.4 0 1,0 -2.7,0M468.1,97.6a1.4,1.4 0 1,0 2.7,0a1.4,1.4 0 1,0 -2.7,0M468.9,98.2a1.4,1.4 0 1,0 2.7,0a1.4,1.4 0 1,0 -2.7,0M469.7,93.7a1.4,1.4 0 1,0 2.7,0a1.4,1.4 0 1,0 -2.7,0M470.5,97.6a1.4,1.4 0 1,0 2.7,0a1.4,1.4 0 1,0 -2.7,0M471.3,99.3a1.4,1.4 0 1,0 2.7,0a1.4,1.4 0 1,0 -2.7,0M472.1,99.3a1.4,1.4 0 1,0 2.7,0a1.4,1.4 0 1,0 -2.7,0M472.9,97.7a1.4,1.4 0 1,0 2.7,0a1.4,1.4 0 1,0 -2.7,0M473.7,102.8a1.4,1.4 0 1,0 2.7,0a1.4,1.4 0 1,0 -2.7,0M474.5,103.6a1.4,1.4 0 1,0 2.7,0a1.4,1.4 0 1,0 -2.7,0M475.3,97.2a1.4,1.4 0 1,0 2.7,0a1.4,1.4 0 1,0 -2.7,0M476.1,98.5a1.4,1.4 0 1,0 2.7,0a1.4,1.4 0 1,0 -2.7,0M476.9,101.2a1.4,1.4 0 1,0 2.7,0a1.4,1.4 0 1,0 -2.7,0M477.7,99.2a1.4,1.4 0 1,0 2.7,0a1.4,1.4 0 1,0 -2.7,0M478.5,96.3a1.4,1.4 0 1,0 2.7,0a1.4,1.4 0 1,0 -2.7,0M479.3,98.2a1.4,1.4 0 1,0 2.7,0a1.4,1.4 0 1,0 -2.7,0M480.1,94.2a1.4,1.4 0 1,0 2.7,0a1.4,1.4 0 1,0 -2.7,0M480.9,94.1a1.4,1.4 0 1,0 2.7,0a1.4,1.4 0 1,0 -2.7,0M481.7,97.8a1.4,1.4 0 1,0 2.7,0a1.4,1.4 0 1,0 -2.7,0M482.5,97.2a1.4,1.4 0 1,0 2.7,0a1.4,1.4 0 1,0 -2.7,0" fill="#d8201c"/>
<polyline points="344.6,171.0 345.4,168.2 346.2,165.6 347.0,168.0 347.8,168.6 348.6,168.6 349.4,168.1 350.2,166.8 351.0,169.4 351.8,166.5 352.6,167.9 353.4,166.4 354.2,165.1 355.0,167.9 355.8,162.9 356.6,164.6 357.4,165.9 358.2,164.7 359.0,165.7 359.8,164.4 360.6,163.7 361.4,166.5 362.2,163.3 363.0,163.0 363.8,161.5 364.6,161.6 365.4,162.9 366.2,162.4 367.0,161.2 367.8,159.9 368.6,161.1 369.4,157.8 370.2,158.9 371.0,158.2 371.8,156.7 372.6,157.1 373.4,155.4 374.2,154.1 375.0,155.7 375.8,153.0 376.6,152.1 377.4,150.8 378.2,152.2 379.0,152.2 379.8,152.8 380.6,153.6 381.4,149.8 382.2,149.8 383.0,148.3 383.8,142.7 384.6,143.8 385.4,145.7 386.2,147.5 387.0,147.2 387.8,149.5 388.6,149.4 389.4,147.1 390.2,149.0 391.0,147.1 391.8,143.3 392.6,139.3 393.4,141.0 394.2,137.8 395.0,136.4 395.8,136.6 396.6,135.4 397.4,136.9 398.2,136.1 399.0,136.0 399.8,134.6 400.6,132.3 401.4,132.4 402.2,133.1 403.0,130.9 403.8,134.4 404.6,130.0 405.4,129.0 406.2,130.4 407.0,129.0 407.8,127.2 408.6,126.2 409.4,126.1 410.2,125.5 411.0,124.4 411.8,122.1 412.6,122.0 413.4,121.5 414.2,120.4 415.0,114.8 415.8,116.9 416.6,116.5 417.4,116.6 418.2,116.5 419.0,116.8 419.8,115.9 420.6,114.5 421.4,114.3 422.2,116.0 423.0,112.8 423.8,113.5 424.6,114.7 425.4,112.7 426.2,109.4 427.0,111.8 427.8,110.4 428.6,110.3 429.4,111.5 430.2,110.6 431.0,109.5 431.8,110.6 432.6,109.7 433.4,108.8 434.2,108.6 435.0,108.0 435.8,106.8 436.6,105.7 437.4,104.8 438.2,102.2 439.0,100.3 439.8,101.9 440.6,99.2 441.4,98.8 442.2,98.0 443.0,97.5 443.8,97.2 444.6,97.0 445.4,95.7 446.2,97.5 447.0,95.3 447.8,97.1 448.6,93.3 449.4,93.8 450.2,95.4 451.0,93.1 451.8,91.6 452.6,92.0 453.4,89.4 454.2,90.5 455.0,87.6 455.8,89.6 456.6,89.2 457.4,90.5 458.2,90.7 459.0,88.5 459.8,91.0 460.6,87.7 461.4,85.3 462.2,84.3 463.0,88.3 463.8,85.8 464.6,84.5 465.4,83.8 466.2,82.7 467.0,85.1 467.8,83.0 468.6,84.9 469.4,82.2 470.2,79.3 471.0,82.8 471.8,81.1 472.6,80.9 473.4,82.8 474.2,80.3 475.0,81.7 475.8,80.0 476.6,78.7 477.4,79.9 478.2,78.3 479.0,80.3 479.8,79.9 480.6,78.7 481.4,79.3 482.2,79.1 483.0,77.9 483.8,79.2" fill="none" stroke="#0a10c8" stroke-width="3.4" stroke-linejoin="round" stroke-linecap="round"/>
<path d="M343.1,170.7a1.5,1.5 0 1,0 3.1,0a1.5,1.5 0 1,0 -3.1,0M343.9,169.0a1.5,1.5 0 1,0 3.1,0a1.5,1.5 0 1,0 -3.1,0M344.7,164.4a1.5,1.5 0 1,0 3.1,0a1.5,1.5 0 1,0 -3.1,0M345.5,168.1a1.5,1.5 0 1,0 3.1,0a1.5,1.5 0 1,0 -3.1,0M346.3,169.1a1.5,1.5 0 1,0 3.1,0a1.5,1.5 0 1,0 -3.1,0M347.1,167.6a1.5,1.5 0 1,0 3.1,0a1.5,1.5 0 1,0 -3.1,0M347.9,167.6a1.5,1.5 0 1,0 3.1,0a1.5,1.5 0 1,0 -3.1,0M348.7,166.2a1.5,1.5 0 1,0 3.1,0a1.5,1.5 0 1,0 -3.1,0M349.5,170.3a1.5,1.5 0 1,0 3.1,0a1.5,1.5 0 1,0 -3.1,0M350.3,165.6a1.5,1.5 0 1,0 3.1,0a1.5,1.5 0 1,0 -3.1,0M351.1,168.5a1.5,1.5 0 1,0 3.1,0a1.5,1.5 0 1,0 -3.1,0M351.9,168.4a1.5,1.5 0 1,0 3.1,0a1.5,1.5 0 1,0 -3.1,0M352.7,165.5a1.5,1.5 0 1,0 3.1,0a1.5,1.5 0 1,0 -3.1,0M353.5,165.8a1.5,1.5 0 1,0 3.1,0a1.5,1.5 0 1,0 -3.1,0M354.3,163.1a1.5,1.5 0 1,0 3.1,0a1.5,1.5 0 1,0 -3.1,0M355.1,166.0a1.5,1.5 0 1,0 3.1,0a1.5,1.5 0 1,0 -3.1,0M355.9,165.5a1.5,1.5 0 1,0 3.1,0a1.5,1.5 0 1,0 -3.1,0M356.7,166.1a1.5,1.5 0 1,0 3.1,0a1.5,1.5 0 1,0 -3.1,0M357.5,166.5a1.5,1.5 0 1,0 3.1,0a1.5,1.5 0 1,0 -3.1,0M358.3,164.9a1.5,1.5 0 1,0 3.1,0a1.5,1.5 0 1,0 -3.1,0M359.1,163.3a1.5,1.5 0 1,0 3.1,0a1.5,1.5 0 1,0 -3.1,0M359.9,165.9a1.5,1.5 0 1,0 3.1,0a1.5,1.5 0 1,0 -3.1,0M360.7,163.0a1.5,1.5 0 1,0 3.1,0a1.5,1.5 0 1,0 -3.1,0M361.5,163.1a1.5,1.5 0 1,0 3.1,0a1.5,1.5 0 1,0 -3.1,0M362.3,162.2a1.5,1.5 0 1,0 3.1,0a1.5,1.5 0 1,0 -3.1,0M363.1,162.1a1.5,1.5 0 1,0 3.1,0a1.5,1.5 0 1,0 -3.1,0M363.9,162.5a1.5,1.5 0 1,0 3.1,0a1.5,1.5 0 1,0 -3.1,0M364.7,162.5a1.5,1.5 0 1,0 3.1,0a1.5,1.5 0 1,0 -3.1,0M365.5,161.8a1.5,1.5 0 1,0 3.1,0a1.5,1.5 0 1,0 -3.1,0M366.3,157.8a1.5,1.5 0 1,0 3.1,0a1.5,1.5 0 1,0 -3.1,0M367.1,160.1a1.5,1.5 0 1,0 3.1,0a1.5,1.5 0 1,0 -3.1,0M367.9,156.8a1.5,1.5 0 1,0 3.1,0a1.5,1.5 0 1,0 -3.1,0M368.7,158.6a1.5,1.5 0 1,0 3.1,0a1.5,1.5 0 1,0 -3.1,0M369.5,157.9a1.5,1.5 0 1,0 3.1,0a1.5,1.5 0 1,0 -3.1,0M370.3,156.4a1.5,1.5 0 1,0 3.1,0a1.5,1.5 0 1,0 -3.1,0M371.1,156.0a1.5,1.5 0 1,0 3.1,0a1.5,1.5 0 1,0 -3.1,0M371.9,156.3a1.5,1.5 0 1,0 3.1,0a1.5,1.5 0 1,0 -3.1,0M372.7,154.5a1.5,1.5 0 1,0 3.1,0a1.5,1.5 0 1,0 -3.1,0M373.5,153.6a1.5,1.5 0 1,0 3.1,0a1.5,1.5 0 1,0 -3.1,0M374.3,153.1a1.5,1.5 0 1,0 3.1,0a1.5,1.5 0 1,0 -3.1,0M375.1,150.7a1.5,1.5 0 1,0 3.1,0a1.5,1.5 0 1,0 -3.1,0M375.9,153.0a1.5,1.5 0 1,0 3.1,0a1.5,1.5 0 1,0 -3.1,0M376.7,151.6a1.5,1.5 0 1,0 3.1,0a1.5,1.5 0 1,0 -3.1,0M377.5,151.7a1.5,1.5 0 1,0 3.1,0a1.5,1.5 0 1,0 -3.1,0M378.3,152.9a1.5,1.5 0 1,0 3.1,0a1.5,1.5 0 1,0 -3.1,0M379.1,153.3a1.5,1.5 0 1,0 3.1,0a1.5,1.5 0 1,0 -3.1,0M379.9,149.8a1.5,1.5 0 1,0 3.1,0a1.5,1.5 0 1,0 -3.1,0M380.7,151.9a1.5,1.5 0 1,0 3.1,0a1.5,1.5 0 1,0 -3.1,0M381.5,148.6a1.5,1.5 0 1,0 3.1,0a1.5,1.5 0 1,0 -3.1,0M382.3,143.8a1.5,1.5 0 1,0 3.1,0a1.5,1.5 0 1,0 -3.1,0M383.1,145.3a1.5,1.5 0 1,0 3.1,0a1.5,1.5 0 1,0 -3.1,0M383.9,144.5a1.5,1.5 0 1,0 3.1,0a1.5,1.5 0 1,0 -3.1,0M384.7,149.8a1.5,1.5 0 1,0 3.1,0a1.5,1.5 0 1,0 -3.1,0M385.5,148.1a1.5,1.5 0 1,0 3.1,0a1.5,1.5 0 1,0 -3.1,0M386.3,150.7a1.5,1.5 0 1,0 3.1,0a1.5,1.5 0 1,0 -3.1,0M387.1,148.3a1.5,1.5 0 1,0 3.1,0a1.5,1.5 0 1,0 -3.1,0M387.9,148.2a1.5,1.5 0 1,0 3.1,0a1.5,1.5 0 1,0 -3.1,0M388.7,149.6a1.5,1.5 0 1,0 3.1,0a1.5,1.5 0 1,0 -3.1,0M389.5,146.5a1.5,1.5 0 1,0 3.1,0a1.5,1.5 0 1,0 -3.1,0M390.3,146.3a1.5,1.5 0 1,0 3.1,0a1.5,1.5 0 1,0 -3.1,0M391.1,140.1a1.5,1.5 0 1,0 3.1,0a1.5,1.5 0 1,0 -3.1,0M391.9,140.7a1.5,1.5 0 1,0 3.1,0a1.5,1.5 0 1,0 -3.1,0M392.7,138.0a1.5,1.5 0 1,0 3.1,0a1.5,1.5 0 1,0 -3.1,0M393.5,137.6a1.5,1.5 0 1,0 3.1,0a1.5,1.5 0 1,0 -3.1,0M394.3,138.1a1.5,1.5 0 1,0 3.1,0a1.5,1.5 0 1,0 -3.1,0M395.1,136.2a1.5,1.5 0 1,0 3.1,0a1.5,1.5 0 1,0 -3.1,0M395.9,138.5a1.5,1.5 0 1,0 3.1,0a1.5,1.5 0 1,0 -3.1,0M396.7,138.0a1.5,1.5 0 1,0 3.1,0a1.5,1.5 0 1,0 -3.1,0M397.5,134.5a1.5,1.5 0 1,0 3.1,0a1.5,1.5 0 1,0 -3.1,0M398.3,134.0a1.5,1.5 0 1,0 3.1,0a1.5,1.5 0 1,0 -3.1,0M399.1,131.1a1.5,1.5 0 1,0 3.1,0a1.5,1.5 0 1,0 -3.1,0M399.9,132.5a1.5,1.5 0 1,0 3.1,0a1.5,1.5 0 1,0 -3.1,0M400.7,135.0a1.5,1.5 0 1,0 3.1,0a1.5,1.5 0 1,0 -3.1,0M401.5,131.8a1.5,1.5 0 1,0 3.1,0a1.5,1.5 0 1,0 -3.1,0M402.3,133.0a1.5,1.5 0 1,0 3.1,0a1.5,1.5 0 1,0 -3.1,0M403.1,129.6a1.5,1.5 0 1,0 3.1,0a1.5,1.5 0 1,0 -3.1,0M403.9,130.4a1.5,1.5 0 1,0 3.1,0a1.5,1.5 0 1,0 -3.1,0M404.7,129.7a1.5,1.5 0 1,0 3.1,0a1.5,1.5 0 1,0 -3.1,0M405.5,128.9a1.5,1.5 0 1,0 3.1,0a1.5,1.5 0 1,0 -3.1,0M406.3,127.7a1.5,1.5 0 1,0 3.1,0a1.5,1.5 0 1,0 -3.1,0M407.1,123.8a1.5,1.5 0 1,0 3.1,0a1.5,1.5 0 1,0 -3.1,0M407.9,127.1a1.5,1.5 0 1,0 3.1,0a1.5,1.5 0 1,0 -3.1,0M408.7,126.0a1.5,1.5 0 1,0 3.1,0a1.5,1.5 0 1,0 -3.1,0M409.5,125.2a1.5,1.5 0 1,0 3.1,0a1.5,1.5 0 1,0 -3.1,0M410.3,120.9a1.5,1.5 0 1,0 3.1,0a1.5,1.5 0 1,0 -3.1,0M411.1,121.0a1.5,1.5 0 1,0 3.1,0a1.5,1.5 0 1,0 -3.1,0M411.9,120.8a1.5,1.5 0 1,0 3.1,0a1.5,1.5 0 1,0 -3.1,0M412.7,120.8a1.5,1.5 0 1,0 3.1,0a1.5,1.5 0 1,0 -3.1,0M413.5,114.9a1.5,1.5 0 1,0 3.1,0a1.5,1.5 0 1,0 -3.1,0M414.3,117.1a1.5,1.5 0 1,0 3.1,0a1.5,1.5 0 1,0 -3.1,0M415.1,118.8a1.5,1.5 0 1,0 3.1,0a1.5,1.5 0 1,0 -3.1,0M415.9,118.3a1.5,1.5 0 1,0 3.1,0a1.5,1.5 0 1,0 -3.1,0M416.7,115.6a1.5,1.5 0 1,0 3.1,0a1.5,1.5 0 1,0 -3.1,0M417.5,116.0a1.5,1.5 0 1,0 3.1,0a1.5,1.5 0 1,0 -3.1,0M418.3,118.2a1.5,1.5 0 1,0 3.1,0a1.5,1.5 0 1,0 -3.1,0M419.1,114.1a1.5,1.5 0 1,0 3.1,0a1.5,1.5 0 1,0 -3.1,0M419.9,116.1a1.5,1.5 0 1,0 3.1,0a1.5,1.5 0 1,0 -3.1,0M420.7,118.1a1.5,1.5 0 1,0 3.1,0a1.5,1.5 0 1,0 -3.1,0M421.5,112.1a1.5,1.5 0 1,0 3.1,0a1.5,1.5 0 1,0 -3.1,0M422.3,113.2a1.5,1.5 0 1,0 3.1,0a1.5,1.5 0 1,0 -3.1,0M423.1,114.8a1.5,1.5 0 1,0 3.1,0a1.5,1.5 0 1,0 -3.1,0M423.9,111.6a1.5,1.5 0 1,0 3.1,0a1.5,1.5 0 1,0 -3.1,0M424.7,108.2a1.5,1.5 0 1,0 3.1,0a1.5,1.5 0 1,0 -3.1,0M425.5,111.3a1.5,1.5 0 1,0 3.1,0a1.5,1.5 0 1,0 -3.1,0M426.3,111.6a1.5,1.5 0 1,0 3.1,0a1.5,1.5 0 1,0 -3.1,0M427.1,109.8a1.5,1.5 0 1,0 3.1,0a1.5,1.5 0 1,0 -3.1,0M427.9,111.3a1.5,1.5 0 1,0 3.1,0a1.5,1.5 0 1,0 -3.1,0M428.7,110.0a1.5,1.5 0 1,0 3.1,0a1.5,1.5 0 1,0 -3.1,0M429.5,107.7a1.5,1.5 0 1,0 3.1,0a1.5,1.5 0 1,0 -3.1,0M430.3,112.6a1.5,1.5 0 1,0 3.1,0a1.5,1.5 0 1,0 -3.1,0M431.1,106.6a1.5,1.5 0 1,0 3.1,0a1.5,1.5 0 1,0 -3.1,0M431.9,108.0a1.5,1.5 0 1,0 3.1,0a1.5,1.5 0 1,0 -3.1,0M432.7,109.3a1.5,1.5 0 1,0 3.1,0a1.5,1.5 0 1,0 -3.1,0M433.5,106.2a1.5,1.5 0 1,0 3.1,0a1.5,1.5 0 1,0 -3.1,0M434.3,107.6a1.5,1.5 0 1,0 3.1,0a1.5,1.5 0 1,0 -3.1,0M435.1,107.4a1.5,1.5 0 1,0 3.1,0a1.5,1.5 0 1,0 -3.1,0M435.9,103.7a1.5,1.5 0 1,0 3.1,0a1.5,1.5 0 1,0 -3.1,0M436.7,102.5a1.5,1.5 0 1,0 3.1,0a1.5,1.5 0 1,0 -3.1,0M437.5,98.9a1.5,1.5 0 1,0 3.1,0a1.5,1.5 0 1,0 -3.1,0M438.3,102.6a1.5,1.5 0 1,0 3.1,0a1.5,1.5 0 1,0 -3.1,0M439.1,99.4a1.5,1.5 0 1,0 3.1,0a1.5,1.5 0 1,0 -3.1,0M439.9,99.1a1.5,1.5 0 1,0 3.1,0a1.5,1.5 0 1,0 -3.1,0M440.7,99.8a1.5,1.5 0 1,0 3.1,0a1.5,1.5 0 1,0 -3.1,0M441.5,98.2a1.5,1.5 0 1,0 3.1,0a1.5,1.5 0 1,0 -3.1,0M442.3,99.0a1.5,1.5 0 1,0 3.1,0a1.5,1.5 0 1,0 -3.1,0M443.1,97.9a1.5,1.5 0 1,0 3.1,0a1.5,1.5 0 1,0 -3.1,0M443.9,94.1a1.5,1.5 0 1,0 3.1,0a1.5,1.5 0 1,0 -3.1,0M444.7,97.9a1.5,1.5 0 1,0 3.1,0a1.5,1.5 0 1,0 -3.1,0M445.5,96.0a1.5,1.5 0 1,0 3.1,0a1.5,1.5 0 1,0 -3.1,0M446.3,95.3a1.5,1.5 0 1,0 3.1,0a1.5,1.5 0 1,0 -3.1,0M447.1,95.1a1.5,1.5 0 1,0 3.1,0a1.5,1.5 0 1,0 -3.1,0M447.9,93.9a1.5,1.5 0 1,0 3.1,0a1.5,1.5 0 1,0 -3.1,0M448.7,95.9a1.5,1.5 0 1,0 3.1,0a1.5,1.5 0 1,0 -3.1,0M449.5,92.0a1.5,1.5 0 1,0 3.1,0a1.5,1.5 0 1,0 -3.1,0M450.3,91.7a1.5,1.5 0 1,0 3.1,0a1.5,1.5 0 1,0 -3.1,0M451.1,92.4a1.5,1.5 0 1,0 3.1,0a1.5,1.5 0 1,0 -3.1,0M451.9,89.0a1.5,1.5 0 1,0 3.1,0a1.5,1.5 0 1,0 -3.1,0M452.7,90.6a1.5,1.5 0 1,0 3.1,0a1.5,1.5 0 1,0 -3.1,0M453.5,84.8a1.5,1.5 0 1,0 3.1,0a1.5,1.5 0 1,0 -3.1,0M454.3,91.3a1.5,1.5 0 1,0 3.1,0a1.5,1.5 0 1,0 -3.1,0M455.1,87.8a1.5,1.5 0 1,0 3.1,0a1.5,1.5 0 1,0 -3.1,0M455.9,87.7a1.5,1.5 0 1,0 3.1,0a1.5,1.5 0 1,0 -3.1,0M456.7,89.5a1.5,1.5 0 1,0 3.1,0a1.5,1.5 0 1,0 -3.1,0M457.5,87.4a1.5,1.5 0 1,0 3.1,0a1.5,1.5 0 1,0 -3.1,0M458.3,91.7a1.5,1.5 0 1,0 3.1,0a1.5,1.5 0 1,0 -3.1,0M459.1,86.5a1.5,1.5 0 1,0 3.1,0a1.5,1.5 0 1,0 -3.1,0M459.9,85.7a1.5,1.5 0 1,0 3.1,0a1.5,1.5 0 1,0 -3.1,0M460.7,83.1a1.5,1.5 0 1,0 3.1,0a1.5,1.5 0 1,0 -3.1,0M461.5,91.2a1.5,1.5 0 1,0 3.1,0a1.5,1.5 0 1,0 -3.1,0M462.3,86.5a1.5,1.5 0 1,0 3.1,0a1.5,1.5 0 1,0 -3.1,0M463.1,87.1a1.5,1.5 0 1,0 3.1,0a1.5,1.5 0 1,0 -3.1,0M463.9,82.5a1.5,1.5 0 1,0 3.1,0a1.5,1.5 0 1,0 -3.1,0M464.7,83.6a1.5,1.5 0 1,0 3.1,0a1.5,1.5 0 1,0 -3.1,0M465.5,83.9a1.5,1.5 0 1,0 3.1,0a1.5,1.5 0 1,0 -3.1,0M466.3,83.8a1.5,1.5 0 1,0 3.1,0a1.5,1.5 0 1,0 -3.1,0M467.1,85.8a1.5,1.5 0 1,0 3.1,0a1.5,1.5 0 1,0 -3.1,0M467.9,80.2a1.5,1.5 0 1,0 3.1,0a1.5,1.5 0 1,0 -3.1,0M468.7,77.8a1.5,1.5 0 1,0 3.1,0a1.5,1.5 0 1,0 -3.1,0M469.5,81.3a1.5,1.5 0 1,0 3.1,0a1.5,1.5 0 1,0 -3.1,0M470.3,79.1a1.5,1.5 0 1,0 3.1,0a1.5,1.5 0 1,0 -3.1,0M471.1,80.0a1.5,1.5 0 1,0 3.1,0a1.5,1.5 0 1,0 -3.1,0M471.9,81.6a1.5,1.5 0 1,0 3.1,0a1.5,1.5 0 1,0 -3.1,0M472.7,78.5a1.5,1.5 0 1,0 3.1,0a1.5,1.5 0 1,0 -3.1,0M473.5,81.9a1.5,1.5 0 1,0 3.1,0a1.5,1.5 0 1,0 -3.1,0M474.3,80.7a1.5,1.5 0 1,0 3.1,0a1.5,1.5 0 1,0 -3.1,0M475.1,77.0a1.5,1.5 0 1,0 3.1,0a1.5,1.5 0 1,0 -3.1,0M475.9,79.2a1.5,1.5 0 1,0 3.1,0a1.5,1.5 0 1,0 -3.1,0M476.7,78.3a1.5,1.5 0 1,0 3.1,0a1.5,1.5 0 1,0 -3.1,0M477.5,80.1a1.5,1.5 0 1,0 3.1,0a1.5,1.5 0 1,0 -3.1,0M478.3,79.0a1.5,1.5 0 1,0 3.1,0a1.5,1.5 0 1,0 -3.1,0M479.1,79.8a1.5,1.5 0 1,0 3.1,0a1.5,1.5 0 1,0 -3.1,0M479.9,80.4a1.5,1.5 0 1,0 3.1,0a1.5,1.5 0 1,0 -3.1,0M480.7,80.0a1.5,1.5 0 1,0 3.1,0a1.5,1.5 0 1,0 -3.1,0M481.5,77.7a1.5,1.5 0 1,0 3.1,0a1.5,1.5 0 1,0 -3.1,0M482.3,81.8a1.5,1.5 0 1,0 3.1,0a1.5,1.5 0 1,0 -3.1,0" fill="#0a10c8"/>
</g>
<line x1="344.1" y1="36" x2="344.1" y2="172" stroke="#111111" stroke-width="2.0"/>
<line x1="343.1" y1="171.0" x2="503.6" y2="171.0" stroke="#111111" stroke-width="2.0"/>
<line x1="339.6" y1="170.4" x2="344.1" y2="170.4" stroke="#111111" stroke-width="1.6"/>
<text x="335" y="174.1" font-size="11.3" text-anchor="end" textLength="7.2" lengthAdjust="spacingAndGlyphs" fill="#2b2b2b">0</text>
<line x1="339.6" y1="144.4" x2="344.1" y2="144.4" stroke="#111111" stroke-width="1.6"/>
<text x="335" y="148.1" font-size="11.3" text-anchor="end" textLength="21.6" lengthAdjust="spacingAndGlyphs" fill="#2b2b2b">100</text>
<line x1="339.6" y1="118.4" x2="344.1" y2="118.4" stroke="#111111" stroke-width="1.6"/>
<text x="335" y="122.10000000000001" font-size="11.3" text-anchor="end" textLength="21.6" lengthAdjust="spacingAndGlyphs" fill="#2b2b2b">200</text>
<line x1="339.6" y1="92.4" x2="344.1" y2="92.4" stroke="#111111" stroke-width="1.6"/>
<text x="335" y="96.10000000000001" font-size="11.3" text-anchor="end" textLength="21.6" lengthAdjust="spacingAndGlyphs" fill="#2b2b2b">300</text>
<line x1="339.6" y1="66.4" x2="344.1" y2="66.4" stroke="#111111" stroke-width="1.6"/>
<text x="335" y="70.10000000000001" font-size="11.3" text-anchor="end" textLength="21.6" lengthAdjust="spacingAndGlyphs" fill="#2b2b2b">400</text>
<line x1="339.6" y1="40.400000000000006" x2="344.1" y2="40.400000000000006" stroke="#111111" stroke-width="1.6"/>
<text x="335" y="44.10000000000001" font-size="11.3" text-anchor="end" textLength="21.6" lengthAdjust="spacingAndGlyphs" fill="#2b2b2b">500</text>
<line x1="344.1" y1="171" x2="344.1" y2="175.4" stroke="#111111" stroke-width="1.6"/>
<text x="344.1" y="190.8" font-size="10.5" text-anchor="middle" textLength="6.9" lengthAdjust="spacingAndGlyphs" fill="#2b2b2b">0</text>
<line x1="382.95000000000005" y1="171" x2="382.95000000000005" y2="175.4" stroke="#111111" stroke-width="1.6"/>
<text x="382.95000000000005" y="190.8" font-size="10.5" text-anchor="middle" textLength="13.8" lengthAdjust="spacingAndGlyphs" fill="#2b2b2b">50</text>
<line x1="421.8" y1="171" x2="421.8" y2="175.4" stroke="#111111" stroke-width="1.6"/>
<text x="421.8" y="190.8" font-size="10.5" text-anchor="middle" textLength="20.7" lengthAdjust="spacingAndGlyphs" fill="#2b2b2b">100</text>
<line x1="460.65000000000003" y1="171" x2="460.65000000000003" y2="175.4" stroke="#111111" stroke-width="1.6"/>
<text x="460.65000000000003" y="190.8" font-size="10.5" text-anchor="middle" textLength="20.7" lengthAdjust="spacingAndGlyphs" fill="#2b2b2b">150</text>
<line x1="499.5" y1="171" x2="499.5" y2="175.4" stroke="#111111" stroke-width="1.6"/>
<text x="499.5" y="190.8" font-size="10.5" text-anchor="middle" textLength="20.7" lengthAdjust="spacingAndGlyphs" fill="#2b2b2b">200</text>
<text x="405.7" y="211.8" font-size="14.4" fill="#111" stroke="#111" stroke-width="0.45" textLength="21.6" lengthAdjust="spacingAndGlyphs">Time</text>
<text x="431.1" y="211.8" font-size="14.4" fill="#111" stroke="#111" stroke-width="0.45" textLength="12.4" lengthAdjust="spacingAndGlyphs">(s)</text>
<text x="0" y="0" font-size="13.4" fill="#111" stroke="#111" stroke-width="0.45" transform="translate(303.1 141.8) rotate(-90)" textLength="20.6" lengthAdjust="spacingAndGlyphs">P-sel</text>
<text x="0" y="0" font-size="13.4" fill="#111" stroke="#111" stroke-width="0.45" transform="translate(303.1 117.9) rotate(-90)" textLength="21.4" lengthAdjust="spacingAndGlyphs">area</text>
<text x="0" y="0" font-size="13.4" fill="#111" stroke="#111" stroke-width="0.45" transform="translate(303.1 94.2) rotate(-90)" textLength="30.1" lengthAdjust="spacingAndGlyphs">(μm<tspan dy="-4.6" font-size="9">2</tspan><tspan dy="4.6">)</tspan></text>
<circle cx="354.1" cy="42.4" r="1.7" fill="#1a1a78"/>
<text x="360.2" y="46.1" font-size="10.3" textLength="34.3" lengthAdjust="spacingAndGlyphs" fill="#111">Vehicle</text>
<rect x="402.5" y="40.6" width="3.4" height="3.4" fill="#6cb04a"/>
<text x="410.7" y="46.1" font-size="10.3" textLength="48.5" lengthAdjust="spacingAndGlyphs" fill="#111">Cangrelor</text>
<polygon points="352.1,56.7 356.1,56.7 354.1,53.2" fill="#b02838"/>
<text x="360.3" y="58.9" font-size="10.3" textLength="33.5" lengthAdjust="spacingAndGlyphs" fill="#111">Aspirin</text>
<polygon points="402.2,53.2 406.2,53.2 404.2,56.7" fill="#7a3a98"/>
<text x="410.7" y="58.9" font-size="10.3" textLength="97.2" lengthAdjust="spacingAndGlyphs" fill="#111">Aspirin + Cangrelor</text>
<circle cx="93.8" cy="287.4" r="1.7" fill="#18185a"/>
<circle cx="93.8" cy="317.7" r="1.7" fill="#18185a"/>
<circle cx="91.4" cy="337.7" r="1.7" fill="#18185a"/>
<circle cx="96.1" cy="339.1" r="1.7" fill="#18185a"/>
<circle cx="89.1" cy="347.6" r="1.7" fill="#18185a"/>
<circle cx="93.5" cy="351.2" r="1.7" fill="#18185a"/>
<circle cx="98.3" cy="351.2" r="1.7" fill="#18185a"/>
<circle cx="93.7" cy="356.5" r="1.7" fill="#18185a"/>
<circle cx="93.7" cy="362" r="1.7" fill="#18185a"/>
<circle cx="85.3" cy="366.8" r="1.7" fill="#18185a"/>
<circle cx="102.4" cy="366.8" r="1.7" fill="#18185a"/>
<circle cx="89.4" cy="369.9" r="1.7" fill="#18185a"/>
<circle cx="98.3" cy="369.2" r="1.7" fill="#18185a"/>
<circle cx="84.8" cy="372.3" r="1.7" fill="#18185a"/>
<circle cx="103" cy="371.7" r="1.7" fill="#18185a"/>
<circle cx="88.7" cy="374.1" r="1.7" fill="#18185a"/>
<circle cx="99.3" cy="373.3" r="1.7" fill="#18185a"/>
<circle cx="91.3" cy="379.1" r="1.7" fill="#18185a"/>
<circle cx="98" cy="380.3" r="1.7" fill="#18185a"/>
<circle cx="102.8" cy="378.5" r="1.7" fill="#18185a"/>
<circle cx="87.1" cy="382.1" r="1.7" fill="#18185a"/>
<circle cx="93.7" cy="382.7" r="1.7" fill="#18185a"/>
<circle cx="85" cy="384.8" r="1.7" fill="#18185a"/>
<circle cx="89.5" cy="385.4" r="1.7" fill="#18185a"/>
<circle cx="102.8" cy="385.1" r="1.7" fill="#18185a"/>
<circle cx="98.3" cy="387.9" r="1.7" fill="#18185a"/>
<circle cx="93.7" cy="389.4" r="1.7" fill="#18185a"/>
<circle cx="98.6" cy="392.4" r="1.7" fill="#18185a"/>
<circle cx="89.1" cy="394.6" r="1.7" fill="#18185a"/>
<circle cx="93.5" cy="396" r="1.7" fill="#18185a"/>
<circle cx="89.1" cy="400.9" r="1.7" fill="#18185a"/>
<circle cx="93.7" cy="402.9" r="1.7" fill="#18185a"/>
<circle cx="98.6" cy="402.4" r="1.7" fill="#18185a"/>
<circle cx="91.3" cy="406.1" r="1.7" fill="#18185a"/>
<circle cx="96.4" cy="408.5" r="1.7" fill="#18185a"/>
<circle cx="93.5" cy="413.2" r="1.7" fill="#18185a"/>
<circle cx="94" cy="375.5" r="1.7" fill="#18185a"/>
<circle cx="90" cy="376" r="1.7" fill="#18185a"/>
<circle cx="97" cy="376" r="1.7" fill="#18185a"/>
<polygon points="124.2,341.8 128.0,341.8 126.1,338.5" fill="#a81a30"/>
<polygon points="124.2,346.8 128.0,346.8 126.1,343.5" fill="#a81a30"/>
<polygon points="124.2,353.0 128.0,353.0 126.1,349.7" fill="#a81a30"/>
<polygon points="117.4,362.4 121.2,362.4 119.3,359.1" fill="#a81a30"/>
<polygon points="131.5,361.4 135.3,361.4 133.4,358.1" fill="#a81a30"/>
<polygon points="122.2,366.0 126.0,366.0 124.1,362.7" fill="#a81a30"/>
<polygon points="126.5,365.5 130.3,365.5 128.4,362.2" fill="#a81a30"/>
<polygon points="129.1,366.6 132.9,366.6 131.0,363.3" fill="#a81a30"/>
<polygon points="119.7,369.0 123.5,369.0 121.6,365.7" fill="#a81a30"/>
<polygon points="124.2,370.3 128.0,370.3 126.1,367.0" fill="#a81a30"/>
<polygon points="126.7,373.1 130.5,373.1 128.6,369.8" fill="#a81a30"/>
<polygon points="119.7,375.6 123.5,375.6 121.6,372.3" fill="#a81a30"/>
<polygon points="122.0,379.7 125.8,379.7 123.9,376.4" fill="#a81a30"/>
<polygon points="126.8,383.0 130.6,383.0 128.7,379.7" fill="#a81a30"/>
<polygon points="124.4,388.4 128.2,388.4 126.3,385.1" fill="#a81a30"/>
<polygon points="122.0,392.6 125.8,392.6 123.9,389.3" fill="#a81a30"/>
<polygon points="126.8,393.8 130.6,393.8 128.7,390.5" fill="#a81a30"/>
<polygon points="116.0,396.9 119.8,396.9 117.9,393.6" fill="#a81a30"/>
<polygon points="120.2,398.3 124.0,398.3 122.1,395.0" fill="#a81a30"/>
<polygon points="132.9,397.5 136.7,397.5 134.8,394.2" fill="#a81a30"/>
<polygon points="115.6,402.7 119.4,402.7 117.5,399.4" fill="#a81a30"/>
<polygon points="132.9,402.3 136.7,402.3 134.8,399.0" fill="#a81a30"/>
<polygon points="119.6,406.5 123.4,406.5 121.5,403.2" fill="#a81a30"/>
<polygon points="128.6,405.9 132.4,405.9 130.5,402.6" fill="#a81a30"/>
<polygon points="124.4,407.1 128.2,407.1 126.3,403.8" fill="#a81a30"/>
<polygon points="115.3,410.4 119.1,410.4 117.2,407.1" fill="#a81a30"/>
<polygon points="133.2,409.9 137.0,409.9 135.1,406.6" fill="#a81a30"/>
<polygon points="119.0,412.9 122.8,412.9 120.9,409.6" fill="#a81a30"/>
<polygon points="122.6,413.8 126.4,413.8 124.5,410.5" fill="#a81a30"/>
<polygon points="126.2,413.2 130.0,413.2 128.1,409.9" fill="#a81a30"/>
<polygon points="129.8,412.0 133.6,412.0 131.7,408.7" fill="#a81a30"/>
<polygon points="116.0,417.4 119.8,417.4 117.9,414.1" fill="#a81a30"/>
<polygon points="120.2,418.6 124.0,418.6 122.1,415.3" fill="#a81a30"/>
<polygon points="124.4,419.8 128.2,419.8 126.3,416.5" fill="#a81a30"/>
<polygon points="128.6,418.0 132.4,418.0 130.5,414.7" fill="#a81a30"/>
<polygon points="132.9,417.2 136.7,417.2 134.8,413.9" fill="#a81a30"/>
<polygon points="117.2,424.0 121.0,424.0 119.1,420.7" fill="#a81a30"/>
<polygon points="122.0,425.6 125.8,425.6 123.9,422.3" fill="#a81a30"/>
<polygon points="126.8,425.2 130.6,425.2 128.7,421.9" fill="#a81a30"/>
<polygon points="131.0,422.2 134.8,422.2 132.9,418.9" fill="#a81a30"/>
<rect x="152.0" y="372.4" width="3.4" height="3.4" fill="#649a44"/>
<rect x="156.6" y="373.5" width="3.4" height="3.4" fill="#649a44"/>
<rect x="161.6" y="372.8" width="3.4" height="3.4" fill="#649a44"/>
<rect x="156.6" y="380.2" width="3.4" height="3.4" fill="#649a44"/>
<rect x="152.0" y="387.2" width="3.4" height="3.4" fill="#649a44"/>
<rect x="161.6" y="389.6" width="3.4" height="3.4" fill="#649a44"/>
<rect x="152.0" y="398.9" width="3.4" height="3.4" fill="#649a44"/>
<rect x="161.6" y="399.5" width="3.4" height="3.4" fill="#649a44"/>
<rect x="152.0" y="408.0" width="3.4" height="3.4" fill="#649a44"/>
<rect x="156.6" y="409.4" width="3.4" height="3.4" fill="#649a44"/>
<rect x="161.6" y="406.3" width="3.4" height="3.4" fill="#649a44"/>
<rect x="154.3" y="419.7" width="3.4" height="3.4" fill="#649a44"/>
<rect x="159.2" y="418.7" width="3.4" height="3.4" fill="#649a44"/>
<rect x="152.3" y="394.3" width="3.4" height="3.4" fill="#649a44"/>
<rect x="161.3" y="394.8" width="3.4" height="3.4" fill="#649a44"/>
<polygon points="186.6,351.9 190.2,351.9 188.4,355.1" fill="#622c80"/>
<polygon points="191.6,349.2 195.2,349.2 193.4,352.4" fill="#622c80"/>
<polygon points="186.6,371.6 190.2,371.6 188.4,374.8" fill="#622c80"/>
<polygon points="191.6,372.5 195.2,372.5 193.4,375.7" fill="#622c80"/>
<polygon points="189.3,390.3 192.9,390.3 191.1,393.5" fill="#622c80"/>
<polygon points="184.8,399.1 188.4,399.1 186.6,402.3" fill="#622c80"/>
<polygon points="193.9,398.0 197.5,398.0 195.7,401.2" fill="#622c80"/>
<polygon points="184.8,404.4 188.4,404.4 186.6,407.6" fill="#622c80"/>
<polygon points="184.5,414.2 188.1,414.2 186.3,417.4" fill="#622c80"/>
<polygon points="193.9,411.8 197.5,411.8 195.7,415.0" fill="#622c80"/>
<polygon points="180.5,422.0 184.1,422.0 182.3,425.2" fill="#622c80"/>
<polygon points="182.8,422.5 186.4,422.5 184.6,425.7" fill="#622c80"/>
<polygon points="185.2,422.0 188.8,422.0 187.0,425.2" fill="#622c80"/>
<polygon points="187.2,422.5 190.8,422.5 189.0,425.7" fill="#622c80"/>
<polygon points="189.2,422.0 192.8,422.0 191.0,425.2" fill="#622c80"/>
<polygon points="191.8,422.5 195.4,422.5 193.6,425.7" fill="#622c80"/>
<polygon points="195.4,422.0 199.0,422.0 197.2,425.2" fill="#622c80"/>
<polygon points="198.2,422.0 201.8,422.0 200.0,425.2" fill="#622c80"/>
<line x1="93.6" y1="366.8" x2="93.6" y2="389.4" stroke="#111" stroke-width="1.6"/>
<line x1="83.3" y1="375.5" x2="104.6" y2="375.5" stroke="#111" stroke-width="2.2"/>
<line x1="126.2" y1="371.5" x2="126.2" y2="411" stroke="#111" stroke-width="1.6"/>
<line x1="115.4" y1="399.2" x2="136.6" y2="399.2" stroke="#111" stroke-width="2.2"/>
<line x1="158.6" y1="390" x2="158.6" y2="405.8" stroke="#111" stroke-width="1.6"/>
<line x1="147.9" y1="396" x2="169.5" y2="396" stroke="#111" stroke-width="2.2"/>
<line x1="190.8" y1="396" x2="190.8" y2="425" stroke="#111" stroke-width="1.6"/>
<line x1="180.2" y1="409" x2="201.8" y2="409" stroke="#111" stroke-width="2.2"/>
<polyline points="94,282.8 94,276.6 127.8,276.6 127.8,283" fill="none" stroke="#333" stroke-width="1.5"/>
<polyline points="94,276 94,274.4 158.4,274.4 158.4,282.6" fill="none" stroke="#333" stroke-width="1.5"/>
<polyline points="94,272 94,271.8 190.8,271.8 190.8,281.8" fill="none" stroke="#333" stroke-width="1.5"/>
<rect x="80" y="264" width="41.5" height="12" fill="#fff"/>
<text x="82.2" y="274.3" font-size="10.3" textLength="36.4" lengthAdjust="spacingAndGlyphs" fill="#222">p&lt;0.05</text>
<polyline points="126.2,333.8 126.2,328.2 192,328.2 192,333.8" fill="none" stroke="#333" stroke-width="1.5"/>
<line x1="159.2" y1="328.2" x2="159.2" y2="333.8" stroke="#333" stroke-width="1.5"/>
<text x="159.2" y="325.6" font-size="11" text-anchor="middle" textLength="15.6" lengthAdjust="spacingAndGlyphs" fill="#222">NS</text>
<line x1="78" y1="270.5" x2="78" y2="428" stroke="#111111" stroke-width="2.0"/>
<line x1="77" y1="427.4" x2="207" y2="427.4" stroke="#111111" stroke-width="2.0"/>
<line x1="73.2" y1="427.0" x2="78" y2="427.0" stroke="#111111" stroke-width="1.6"/>
<text x="67.2" y="431.4" font-size="11" text-anchor="end" textLength="6" lengthAdjust="spacingAndGlyphs" fill="#2b2b2b">0</text>
<line x1="73.2" y1="376.3" x2="78" y2="376.3" stroke="#111111" stroke-width="1.6"/>
<text x="33.3" y="381.3" font-size="11" textLength="28" lengthAdjust="spacingAndGlyphs" fill="#2b2b2b">2×10</text>
<text x="62.8" y="376.90000000000003" font-size="7.8" textLength="4.6" lengthAdjust="spacingAndGlyphs" fill="#2b2b2b">5</text>
<line x1="73.2" y1="325.6" x2="78" y2="325.6" stroke="#111111" stroke-width="1.6"/>
<text x="33.3" y="330.6" font-size="11" textLength="28" lengthAdjust="spacingAndGlyphs" fill="#2b2b2b">4×10</text>
<text x="62.8" y="326.20000000000005" font-size="7.8" textLength="4.6" lengthAdjust="spacingAndGlyphs" fill="#2b2b2b">5</text>
<line x1="73.2" y1="274.9" x2="78" y2="274.9" stroke="#111111" stroke-width="1.6"/>
<text x="33.3" y="279.9" font-size="11" textLength="28" lengthAdjust="spacingAndGlyphs" fill="#2b2b2b">6×10</text>
<text x="62.8" y="275.5" font-size="7.8" textLength="4.6" lengthAdjust="spacingAndGlyphs" fill="#2b2b2b">5</text>
<text x="0" y="0" font-size="13.2" fill="#111" stroke="#111" stroke-width="0.55" transform="translate(24.6 371.4) rotate(-90)" textLength="21.5" lengthAdjust="spacingAndGlyphs">CD41</text>
<text x="0" y="0" font-size="13.2" fill="#111" stroke="#111" stroke-width="0.55" transform="translate(24.6 346.5) rotate(-90)" textLength="21.5" lengthAdjust="spacingAndGlyphs">AUC</text>
<circle cx="359.7" cy="320.4" r="1.7" fill="#18185a"/>
<circle cx="359.7" cy="336.2" r="1.7" fill="#18185a"/>
<circle cx="357.3" cy="354.3" r="1.7" fill="#18185a"/>
<circle cx="362.2" cy="352.3" r="1.7" fill="#18185a"/>
<circle cx="357.3" cy="363.2" r="1.7" fill="#18185a"/>
<circle cx="362.2" cy="363.5" r="1.7" fill="#18185a"/>
<circle cx="357.3" cy="373.2" r="1.7" fill="#18185a"/>
<circle cx="362.2" cy="372.1" r="1.7" fill="#18185a"/>
<circle cx="359.7" cy="384" r="1.7" fill="#18185a"/>
<circle cx="353" cy="388.4" r="1.7" fill="#18185a"/>
<circle cx="367.3" cy="386.9" r="1.7" fill="#18185a"/>
<circle cx="357.3" cy="390" r="1.7" fill="#18185a"/>
<circle cx="362.2" cy="389.7" r="1.7" fill="#18185a"/>
<circle cx="350.9" cy="392.6" r="1.7" fill="#18185a"/>
<circle cx="354.6" cy="394.3" r="1.7" fill="#18185a"/>
<circle cx="365.3" cy="395" r="1.7" fill="#18185a"/>
<circle cx="369" cy="393.7" r="1.7" fill="#18185a"/>
<circle cx="358.4" cy="396.6" r="1.7" fill="#18185a"/>
<circle cx="362" cy="396.9" r="1.7" fill="#18185a"/>
<circle cx="355.3" cy="401.7" r="1.7" fill="#18185a"/>
<circle cx="360" cy="401.3" r="1.7" fill="#18185a"/>
<circle cx="364.6" cy="401.7" r="1.7" fill="#18185a"/>
<circle cx="369" cy="401.3" r="1.7" fill="#18185a"/>
<circle cx="352.6" cy="404.6" r="1.7" fill="#18185a"/>
<circle cx="357.3" cy="407.3" r="1.7" fill="#18185a"/>
<circle cx="362.4" cy="408.6" r="1.7" fill="#18185a"/>
<circle cx="367.3" cy="406.6" r="1.7" fill="#18185a"/>
<circle cx="351.3" cy="409.2" r="1.7" fill="#18185a"/>
<circle cx="368.6" cy="410.2" r="1.7" fill="#18185a"/>
<circle cx="356" cy="411.9" r="1.7" fill="#18185a"/>
<circle cx="360" cy="413.2" r="1.7" fill="#18185a"/>
<circle cx="364.6" cy="412.8" r="1.7" fill="#18185a"/>
<circle cx="353" cy="416.8" r="1.7" fill="#18185a"/>
<circle cx="359.7" cy="418.3" r="1.7" fill="#18185a"/>
<circle cx="355.3" cy="420.6" r="1.7" fill="#18185a"/>
<circle cx="364.6" cy="420.6" r="1.7" fill="#18185a"/>
<circle cx="360" cy="424.5" r="1.7" fill="#18185a"/>
<polygon points="390.4,305.8 394.1,305.8 392.2,302.4" fill="#a81a30"/>
<polygon points="388.0,353.0 391.8,353.0 389.9,349.7" fill="#a81a30"/>
<polygon points="395.1,356.7 398.9,356.7 397.0,353.4" fill="#a81a30"/>
<polygon points="392.7,361.0 396.5,361.0 394.6,357.7" fill="#a81a30"/>
<polygon points="388.0,362.7 391.8,362.7 389.9,359.4" fill="#a81a30"/>
<polygon points="390.3,369.0 394.1,369.0 392.2,365.7" fill="#a81a30"/>
<polygon points="392.7,377.1 396.5,377.1 394.6,373.8" fill="#a81a30"/>
<polygon points="388.0,379.5 391.8,379.5 389.9,376.2" fill="#a81a30"/>
<polygon points="383.4,387.2 387.2,387.2 385.3,383.9" fill="#a81a30"/>
<polygon points="390.3,384.8 394.1,384.8 392.2,381.5" fill="#a81a30"/>
<polygon points="392.7,387.2 396.5,387.2 394.6,383.9" fill="#a81a30"/>
<polygon points="397.1,385.5 400.9,385.5 399.0,382.2" fill="#a81a30"/>
<polygon points="388.0,390.1 391.8,390.1 389.9,386.8" fill="#a81a30"/>
<polygon points="385.7,399.4 389.5,399.4 387.6,396.1" fill="#a81a30"/>
<polygon points="395.1,399.0 398.9,399.0 397.0,395.7" fill="#a81a30"/>
<polygon points="390.3,402.4 394.1,402.4 392.2,399.1" fill="#a81a30"/>
<polygon points="388.0,407.4 391.8,407.4 389.9,404.1" fill="#a81a30"/>
<polygon points="392.7,406.1 396.5,406.1 394.6,402.8" fill="#a81a30"/>
<polygon points="383.4,410.1 387.2,410.1 385.3,406.8" fill="#a81a30"/>
<polygon points="399.3,409.8 403.1,409.8 401.2,406.5" fill="#a81a30"/>
<polygon points="385.7,413.4 389.5,413.4 387.6,410.1" fill="#a81a30"/>
<polygon points="395.3,416.1 399.1,416.1 397.2,412.8" fill="#a81a30"/>
<polygon points="382.0,418.7 385.8,418.7 383.9,415.4" fill="#a81a30"/>
<polygon points="399.3,418.1 403.1,418.1 401.2,414.8" fill="#a81a30"/>
<polygon points="386.7,420.5 390.5,420.5 388.6,417.2" fill="#a81a30"/>
<polygon points="390.7,421.0 394.5,421.0 392.6,417.7" fill="#a81a30"/>
<polygon points="394.7,420.5 398.5,420.5 396.6,417.2" fill="#a81a30"/>
<polygon points="397.9,420.0 401.7,420.0 399.8,416.7" fill="#a81a30"/>
<polygon points="382.4,424.0 386.2,424.0 384.3,420.7" fill="#a81a30"/>
<polygon points="386.3,424.5 390.1,424.5 388.2,421.2" fill="#a81a30"/>
<polygon points="390.3,424.9 394.1,424.9 392.2,421.6" fill="#a81a30"/>
<polygon points="394.3,424.3 398.1,424.3 396.2,421.0" fill="#a81a30"/>
<polygon points="398.3,424.5 402.1,424.5 400.2,421.2" fill="#a81a30"/>
<polygon points="387.3,427.7 391.1,427.7 389.2,424.4" fill="#a81a30"/>
<polygon points="390.5,428.1 394.3,428.1 392.4,424.8" fill="#a81a30"/>
<polygon points="393.7,427.7 397.5,427.7 395.6,424.4" fill="#a81a30"/>
<rect x="422.9" y="331.2" width="3.4" height="3.4" fill="#649a44"/>
<rect x="420.3" y="364.2" width="3.4" height="3.4" fill="#649a44"/>
<rect x="425.3" y="368.5" width="3.4" height="3.4" fill="#649a44"/>
<rect x="422.9" y="377.2" width="3.4" height="3.4" fill="#649a44"/>
<rect x="417.9" y="393.6" width="3.4" height="3.4" fill="#649a44"/>
<rect x="427.6" y="396.2" width="3.4" height="3.4" fill="#649a44"/>
<rect x="429.8" y="394.6" width="3.4" height="3.4" fill="#649a44"/>
<rect x="417.9" y="399.2" width="3.4" height="3.4" fill="#649a44"/>
<rect x="422.9" y="399.6" width="3.4" height="3.4" fill="#649a44"/>
<rect x="417.9" y="404.2" width="3.4" height="3.4" fill="#649a44"/>
<rect x="427.2" y="405.8" width="3.4" height="3.4" fill="#649a44"/>
<rect x="431.6" y="404.2" width="3.4" height="3.4" fill="#649a44"/>
<rect x="417.9" y="415.5" width="3.4" height="3.4" fill="#649a44"/>
<rect x="422.9" y="416.9" width="3.4" height="3.4" fill="#649a44"/>
<rect x="427.6" y="415.3" width="3.4" height="3.4" fill="#649a44"/>
<rect x="425.3" y="420.9" width="3.4" height="3.4" fill="#649a44"/>
<rect x="420.3" y="425.3" width="3.4" height="3.4" fill="#649a44"/>
<polygon points="455.2,340.4 458.8,340.4 457.0,343.6" fill="#622c80"/>
<polygon points="455.2,355.1 458.8,355.1 457.0,358.3" fill="#622c80"/>
<polygon points="455.2,362.4 458.8,362.4 457.0,365.6" fill="#622c80"/>
<polygon points="452.8,367.7 456.4,367.7 454.6,370.9" fill="#622c80"/>
<polygon points="457.7,367.0 461.3,367.0 459.5,370.2" fill="#622c80"/>
<polygon points="457.7,390.0 461.3,390.0 459.5,393.2" fill="#622c80"/>
<polygon points="452.8,394.4 456.4,394.4 454.6,397.6" fill="#622c80"/>
<polygon points="452.8,407.7 456.4,407.7 454.6,410.9" fill="#622c80"/>
<polygon points="459.8,407.7 463.4,407.7 461.6,410.9" fill="#622c80"/>
<polygon points="453.4,413.1 457.0,413.1 455.2,416.3" fill="#622c80"/>
<polygon points="457.7,420.4 461.3,420.4 459.5,423.6" fill="#622c80"/>
<polygon points="449.0,423.9 452.6,423.9 450.8,427.1" fill="#622c80"/>
<polygon points="451.4,424.3 455.0,424.3 453.2,427.5" fill="#622c80"/>
<polygon points="453.8,423.9 457.4,423.9 455.6,427.1" fill="#622c80"/>
<polygon points="456.2,424.3 459.8,424.3 458.0,427.5" fill="#622c80"/>
<polygon points="458.6,423.9 462.2,423.9 460.4,427.1" fill="#622c80"/>
<polygon points="461.0,424.3 464.6,424.3 462.8,427.5" fill="#622c80"/>
<line x1="360" y1="387.3" x2="360" y2="409.9" stroke="#111" stroke-width="1.6"/>
<line x1="349.3" y1="398.6" x2="370.6" y2="398.6" stroke="#111" stroke-width="2.2"/>
<line x1="392.2" y1="385.7" x2="392.2" y2="419.2" stroke="#111" stroke-width="1.6"/>
<line x1="381.5" y1="409.2" x2="402.8" y2="409.2" stroke="#111" stroke-width="2.2"/>
<line x1="424.6" y1="391.3" x2="424.6" y2="412.6" stroke="#111" stroke-width="1.6"/>
<line x1="414.3" y1="403.9" x2="435" y2="403.9" stroke="#111" stroke-width="2.2"/>
<line x1="456.8" y1="374" x2="456.8" y2="424.5" stroke="#111" stroke-width="1.6"/>
<line x1="446.2" y1="412.8" x2="467.5" y2="412.8" stroke="#111" stroke-width="2.2"/>
<polyline points="360,290 360,284.2 457.4,284.2 457.4,290" fill="none" stroke="#333" stroke-width="1.5"/>
<line x1="392.8" y1="284.2" x2="392.8" y2="290" stroke="#333" stroke-width="1.5"/>
<line x1="424.8" y1="284.2" x2="424.8" y2="290" stroke="#333" stroke-width="1.5"/>
<text x="408.4" y="282.4" font-size="11" text-anchor="middle" textLength="16" lengthAdjust="spacingAndGlyphs" fill="#222">NS</text>
<line x1="343.8" y1="270.5" x2="343.8" y2="428" stroke="#111111" stroke-width="2.0"/>
<line x1="342.8" y1="427.3" x2="473.5" y2="427.3" stroke="#111111" stroke-width="2.0"/>
<line x1="339.2" y1="427.4" x2="343.8" y2="427.4" stroke="#111111" stroke-width="1.6"/>
<text x="334.2" y="431.2" font-size="10.6" text-anchor="end" textLength="16.5" lengthAdjust="spacingAndGlyphs" fill="#2b2b2b">0.0</text>
<line x1="339.2" y1="376.5" x2="343.8" y2="376.5" stroke="#111111" stroke-width="1.6"/>
<text x="290.0" y="380.6" font-size="10.6" textLength="38.4" lengthAdjust="spacingAndGlyphs" fill="#2b2b2b">5.0×10</text>
<text x="329.4" y="375.9" font-size="7.6" textLength="4.8" lengthAdjust="spacingAndGlyphs" fill="#2b2b2b">4</text>
<line x1="339.2" y1="325.59999999999997" x2="343.8" y2="325.59999999999997" stroke="#111111" stroke-width="1.6"/>
<text x="290.0" y="329.7" font-size="10.6" textLength="38.4" lengthAdjust="spacingAndGlyphs" fill="#2b2b2b">1.0×10</text>
<text x="329.4" y="324.99999999999994" font-size="7.6" textLength="4.8" lengthAdjust="spacingAndGlyphs" fill="#2b2b2b">5</text>
<line x1="339.2" y1="274.7" x2="343.8" y2="274.7" stroke="#111111" stroke-width="1.6"/>
<text x="290.0" y="278.8" font-size="10.6" textLength="38.4" lengthAdjust="spacingAndGlyphs" fill="#2b2b2b">1.5×10</text>
<text x="329.4" y="274.09999999999997" font-size="7.6" textLength="4.8" lengthAdjust="spacingAndGlyphs" fill="#2b2b2b">5</text>
<text x="0" y="0" font-size="13.2" fill="#111" stroke="#111" stroke-width="0.5" transform="translate(280.1 369.9) rotate(-90)" textLength="20.9" lengthAdjust="spacingAndGlyphs">P-sel</text>
<text x="0" y="0" font-size="13.2" fill="#111" stroke="#111" stroke-width="0.5" transform="translate(280.1 346.2) rotate(-90)" textLength="20.3" lengthAdjust="spacingAndGlyphs">AUC</text>
<text x="0" y="0" font-size="13" fill="#111" transform="translate(98.2 435.2) rotate(-49)" text-anchor="end" textLength="36" lengthAdjust="spacingAndGlyphs">Vehicle</text>
<text x="0" y="0" font-size="13" fill="#111" transform="translate(132.1 435.0) rotate(-49)" text-anchor="end" textLength="35" lengthAdjust="spacingAndGlyphs">Aspirin</text>
<text x="0" y="0" font-size="13" fill="#111" transform="translate(162.9 436.9) rotate(-49)" text-anchor="end" textLength="51" lengthAdjust="spacingAndGlyphs">Cangrelor</text>
<text x="0" y="0" font-size="13" fill="#111" transform="translate(189.2 434.8) rotate(-49)" text-anchor="end" textLength="47" lengthAdjust="spacingAndGlyphs">Aspirin +</text>
<text x="0" y="0" font-size="13" fill="#111" transform="translate(201.2 444.4) rotate(-49)" text-anchor="end" textLength="52" lengthAdjust="spacingAndGlyphs">Cangrelor</text>
<text x="0" y="0" font-size="13" fill="#111" transform="translate(363.4 435.2) rotate(-49)" text-anchor="end" textLength="36" lengthAdjust="spacingAndGlyphs">Vehicle</text>
<text x="0" y="0" font-size="13" fill="#111" transform="translate(397.0 435.0) rotate(-49)" text-anchor="end" textLength="35" lengthAdjust="spacingAndGlyphs">Aspirin</text>
<text x="0" y="0" font-size="13" fill="#111" transform="translate(428.1 436.9) rotate(-49)" text-anchor="end" textLength="51" lengthAdjust="spacingAndGlyphs">Cangrelor</text>
<text x="0" y="0" font-size="13" fill="#111" transform="translate(454.40000000000003 434.8) rotate(-49)" text-anchor="end" textLength="47" lengthAdjust="spacingAndGlyphs">Aspirin +</text>
<text x="0" y="0" font-size="13" fill="#111" transform="translate(466.40000000000003 444.4) rotate(-49)" text-anchor="end" textLength="52" lengthAdjust="spacingAndGlyphs">Cangrelor</text>
</g></svg>
</body></html>
